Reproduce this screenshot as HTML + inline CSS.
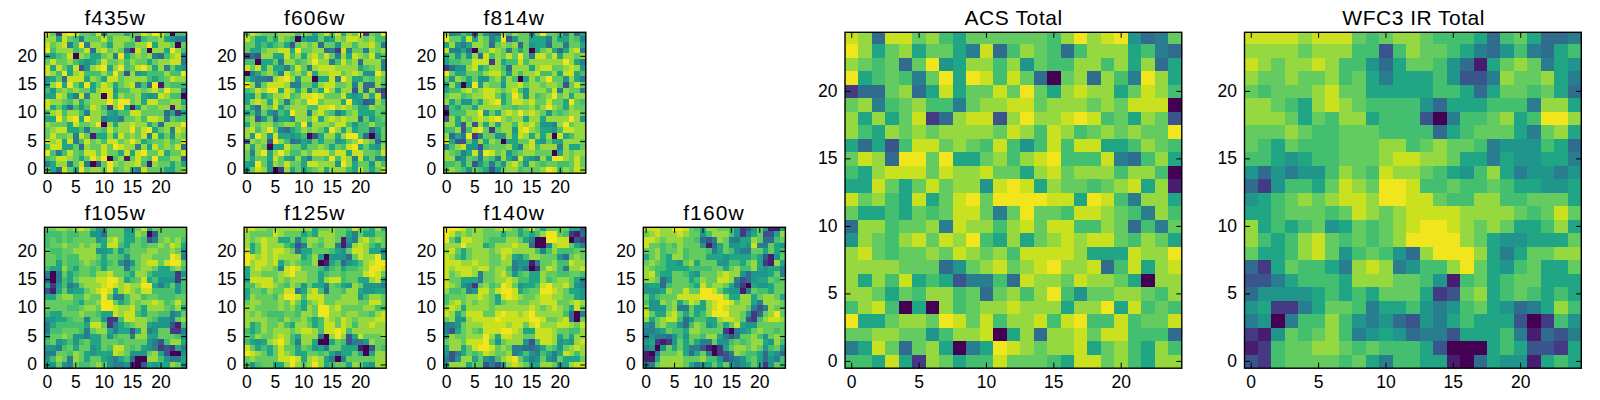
<!DOCTYPE html><html><head><meta charset="utf-8"><style>html,body{margin:0;padding:0;background:#fff;width:1600px;height:400px;overflow:hidden}svg{display:block}text{font-family:"Liberation Sans",sans-serif;fill:#000}</style></head><body>
<svg width="1600" height="400" viewBox="0 0 1600 400">
<g shape-rendering="crispEdges">
<rect x="45" y="167" width="5" height="6" fill="#63cb5f"/>
<rect x="50" y="167" width="6" height="6" fill="#21a685"/>
<rect x="56" y="167" width="6" height="6" fill="#2f6c8e"/>
<rect x="62" y="167" width="5" height="6" fill="#cae11f"/>
<rect x="67" y="167" width="6" height="6" fill="#63cb5f"/>
<rect x="73" y="167" width="6" height="6" fill="#21a685"/>
<rect x="79" y="167" width="5" height="6" fill="#f1e51d"/>
<rect x="84" y="167" width="6" height="6" fill="#63cb5f"/>
<rect x="90" y="167" width="11" height="6" fill="#95d840"/>
<rect x="101" y="167" width="6" height="6" fill="#63cb5f"/>
<rect x="107" y="167" width="6" height="6" fill="#f1e51d"/>
<rect x="113" y="167" width="5" height="6" fill="#44bf70"/>
<rect x="118" y="167" width="6" height="6" fill="#63cb5f"/>
<rect x="124" y="167" width="6" height="6" fill="#95d840"/>
<rect x="130" y="167" width="5" height="6" fill="#21a685"/>
<rect x="135" y="167" width="6" height="6" fill="#287d8e"/>
<rect x="141" y="167" width="6" height="6" fill="#cae11f"/>
<rect x="147" y="167" width="17" height="6" fill="#63cb5f"/>
<rect x="164" y="167" width="11" height="6" fill="#21a685"/>
<rect x="175" y="167" width="6" height="6" fill="#63cb5f"/>
<rect x="181" y="167" width="6" height="6" fill="#95d840"/>
<rect x="45" y="161" width="5" height="6" fill="#287d8e"/>
<rect x="50" y="161" width="6" height="6" fill="#21a685"/>
<rect x="56" y="161" width="11" height="6" fill="#95d840"/>
<rect x="67" y="161" width="6" height="6" fill="#287d8e"/>
<rect x="73" y="161" width="6" height="6" fill="#63cb5f"/>
<rect x="79" y="161" width="5" height="6" fill="#cae11f"/>
<rect x="84" y="161" width="6" height="6" fill="#287d8e"/>
<rect x="90" y="161" width="6" height="6" fill="#440154"/>
<rect x="96" y="161" width="5" height="6" fill="#3a548c"/>
<rect x="101" y="161" width="6" height="6" fill="#63cb5f"/>
<rect x="107" y="161" width="6" height="6" fill="#f1e51d"/>
<rect x="113" y="161" width="5" height="6" fill="#95d840"/>
<rect x="118" y="161" width="6" height="6" fill="#63cb5f"/>
<rect x="124" y="161" width="11" height="6" fill="#95d840"/>
<rect x="135" y="161" width="6" height="6" fill="#cae11f"/>
<rect x="141" y="161" width="6" height="6" fill="#44bf70"/>
<rect x="147" y="161" width="5" height="6" fill="#481d6f"/>
<rect x="152" y="161" width="6" height="6" fill="#95d840"/>
<rect x="158" y="161" width="12" height="6" fill="#63cb5f"/>
<rect x="170" y="161" width="5" height="6" fill="#21a685"/>
<rect x="175" y="161" width="6" height="6" fill="#63cb5f"/>
<rect x="181" y="161" width="6" height="6" fill="#21a685"/>
<rect x="45" y="156" width="5" height="5" fill="#44bf70"/>
<rect x="50" y="156" width="6" height="5" fill="#63cb5f"/>
<rect x="56" y="156" width="11" height="5" fill="#cae11f"/>
<rect x="67" y="156" width="6" height="5" fill="#95d840"/>
<rect x="73" y="156" width="6" height="5" fill="#63cb5f"/>
<rect x="79" y="156" width="5" height="5" fill="#21a685"/>
<rect x="84" y="156" width="6" height="5" fill="#63cb5f"/>
<rect x="90" y="156" width="6" height="5" fill="#f1e51d"/>
<rect x="96" y="156" width="5" height="5" fill="#95d840"/>
<rect x="101" y="156" width="6" height="5" fill="#f1e51d"/>
<rect x="107" y="156" width="6" height="5" fill="#440154"/>
<rect x="113" y="156" width="5" height="5" fill="#44bf70"/>
<rect x="118" y="156" width="6" height="5" fill="#95d840"/>
<rect x="124" y="156" width="6" height="5" fill="#481d6f"/>
<rect x="130" y="156" width="5" height="5" fill="#63cb5f"/>
<rect x="135" y="156" width="6" height="5" fill="#cae11f"/>
<rect x="141" y="156" width="6" height="5" fill="#63cb5f"/>
<rect x="147" y="156" width="5" height="5" fill="#44bf70"/>
<rect x="152" y="156" width="6" height="5" fill="#f1e51d"/>
<rect x="158" y="156" width="12" height="5" fill="#44bf70"/>
<rect x="170" y="156" width="11" height="5" fill="#95d840"/>
<rect x="181" y="156" width="6" height="5" fill="#3a548c"/>
<rect x="45" y="150" width="5" height="6" fill="#f1e51d"/>
<rect x="50" y="150" width="6" height="6" fill="#44bf70"/>
<rect x="56" y="150" width="6" height="6" fill="#287d8e"/>
<rect x="62" y="150" width="5" height="6" fill="#44bf70"/>
<rect x="67" y="150" width="6" height="6" fill="#cae11f"/>
<rect x="73" y="150" width="6" height="6" fill="#63cb5f"/>
<rect x="79" y="150" width="5" height="6" fill="#44bf70"/>
<rect x="84" y="150" width="12" height="6" fill="#cae11f"/>
<rect x="96" y="150" width="5" height="6" fill="#63cb5f"/>
<rect x="101" y="150" width="6" height="6" fill="#cae11f"/>
<rect x="107" y="150" width="11" height="6" fill="#63cb5f"/>
<rect x="118" y="150" width="6" height="6" fill="#21a685"/>
<rect x="124" y="150" width="6" height="6" fill="#cae11f"/>
<rect x="130" y="150" width="5" height="6" fill="#21a685"/>
<rect x="135" y="150" width="6" height="6" fill="#cae11f"/>
<rect x="141" y="150" width="6" height="6" fill="#f1e51d"/>
<rect x="147" y="150" width="11" height="6" fill="#63cb5f"/>
<rect x="158" y="150" width="6" height="6" fill="#cae11f"/>
<rect x="164" y="150" width="6" height="6" fill="#21a685"/>
<rect x="170" y="150" width="11" height="6" fill="#63cb5f"/>
<rect x="181" y="150" width="6" height="6" fill="#cae11f"/>
<rect x="45" y="144" width="5" height="6" fill="#44bf70"/>
<rect x="50" y="144" width="12" height="6" fill="#cae11f"/>
<rect x="62" y="144" width="11" height="6" fill="#21a685"/>
<rect x="73" y="144" width="6" height="6" fill="#63cb5f"/>
<rect x="79" y="144" width="5" height="6" fill="#2f6c8e"/>
<rect x="84" y="144" width="6" height="6" fill="#95d840"/>
<rect x="90" y="144" width="11" height="6" fill="#63cb5f"/>
<rect x="101" y="144" width="6" height="6" fill="#cae11f"/>
<rect x="107" y="144" width="6" height="6" fill="#63cb5f"/>
<rect x="113" y="144" width="5" height="6" fill="#f1e51d"/>
<rect x="118" y="144" width="6" height="6" fill="#cae11f"/>
<rect x="124" y="144" width="11" height="6" fill="#95d840"/>
<rect x="135" y="144" width="6" height="6" fill="#287d8e"/>
<rect x="141" y="144" width="6" height="6" fill="#95d840"/>
<rect x="147" y="144" width="5" height="6" fill="#21a685"/>
<rect x="152" y="144" width="6" height="6" fill="#cae11f"/>
<rect x="158" y="144" width="6" height="6" fill="#63cb5f"/>
<rect x="164" y="144" width="6" height="6" fill="#95d840"/>
<rect x="170" y="144" width="5" height="6" fill="#63cb5f"/>
<rect x="175" y="144" width="6" height="6" fill="#cae11f"/>
<rect x="181" y="144" width="6" height="6" fill="#2f6c8e"/>
<rect x="45" y="139" width="5" height="5" fill="#cae11f"/>
<rect x="50" y="139" width="6" height="5" fill="#95d840"/>
<rect x="56" y="139" width="6" height="5" fill="#cae11f"/>
<rect x="62" y="139" width="5" height="5" fill="#21a685"/>
<rect x="67" y="139" width="6" height="5" fill="#cae11f"/>
<rect x="73" y="139" width="6" height="5" fill="#287d8e"/>
<rect x="79" y="139" width="5" height="5" fill="#44bf70"/>
<rect x="84" y="139" width="6" height="5" fill="#cae11f"/>
<rect x="90" y="139" width="6" height="5" fill="#63cb5f"/>
<rect x="96" y="139" width="5" height="5" fill="#95d840"/>
<rect x="101" y="139" width="6" height="5" fill="#44bf70"/>
<rect x="107" y="139" width="11" height="5" fill="#cae11f"/>
<rect x="118" y="139" width="6" height="5" fill="#63cb5f"/>
<rect x="124" y="139" width="6" height="5" fill="#95d840"/>
<rect x="130" y="139" width="5" height="5" fill="#f1e51d"/>
<rect x="135" y="139" width="6" height="5" fill="#95d840"/>
<rect x="141" y="139" width="6" height="5" fill="#21a685"/>
<rect x="147" y="139" width="5" height="5" fill="#44bf70"/>
<rect x="152" y="139" width="12" height="5" fill="#63cb5f"/>
<rect x="164" y="139" width="6" height="5" fill="#95d840"/>
<rect x="170" y="139" width="5" height="5" fill="#44bf70"/>
<rect x="175" y="139" width="6" height="5" fill="#63cb5f"/>
<rect x="181" y="139" width="6" height="5" fill="#cae11f"/>
<rect x="45" y="133" width="5" height="6" fill="#63cb5f"/>
<rect x="50" y="133" width="6" height="6" fill="#cae11f"/>
<rect x="56" y="133" width="11" height="6" fill="#63cb5f"/>
<rect x="67" y="133" width="6" height="6" fill="#95d840"/>
<rect x="73" y="133" width="6" height="6" fill="#287d8e"/>
<rect x="79" y="133" width="5" height="6" fill="#cae11f"/>
<rect x="84" y="133" width="6" height="6" fill="#63cb5f"/>
<rect x="90" y="133" width="6" height="6" fill="#481d6f"/>
<rect x="96" y="133" width="11" height="6" fill="#21a685"/>
<rect x="107" y="133" width="6" height="6" fill="#95d840"/>
<rect x="113" y="133" width="5" height="6" fill="#21a685"/>
<rect x="118" y="133" width="6" height="6" fill="#cae11f"/>
<rect x="124" y="133" width="6" height="6" fill="#63cb5f"/>
<rect x="130" y="133" width="5" height="6" fill="#95d840"/>
<rect x="135" y="133" width="6" height="6" fill="#63cb5f"/>
<rect x="141" y="133" width="6" height="6" fill="#cae11f"/>
<rect x="147" y="133" width="5" height="6" fill="#287d8e"/>
<rect x="152" y="133" width="6" height="6" fill="#cae11f"/>
<rect x="158" y="133" width="6" height="6" fill="#21a685"/>
<rect x="164" y="133" width="6" height="6" fill="#63cb5f"/>
<rect x="170" y="133" width="5" height="6" fill="#1f958b"/>
<rect x="175" y="133" width="6" height="6" fill="#95d840"/>
<rect x="181" y="133" width="6" height="6" fill="#63cb5f"/>
<rect x="45" y="127" width="5" height="6" fill="#63cb5f"/>
<rect x="50" y="127" width="6" height="6" fill="#95d840"/>
<rect x="56" y="127" width="11" height="6" fill="#cae11f"/>
<rect x="67" y="127" width="12" height="6" fill="#21a685"/>
<rect x="79" y="127" width="5" height="6" fill="#44bf70"/>
<rect x="84" y="127" width="6" height="6" fill="#287d8e"/>
<rect x="90" y="127" width="11" height="6" fill="#63cb5f"/>
<rect x="101" y="127" width="6" height="6" fill="#44bf70"/>
<rect x="107" y="127" width="6" height="6" fill="#cae11f"/>
<rect x="113" y="127" width="5" height="6" fill="#63cb5f"/>
<rect x="118" y="127" width="12" height="6" fill="#95d840"/>
<rect x="130" y="127" width="5" height="6" fill="#f1e51d"/>
<rect x="135" y="127" width="6" height="6" fill="#63cb5f"/>
<rect x="141" y="127" width="6" height="6" fill="#cae11f"/>
<rect x="147" y="127" width="5" height="6" fill="#f1e51d"/>
<rect x="152" y="127" width="6" height="6" fill="#21a685"/>
<rect x="158" y="127" width="6" height="6" fill="#63cb5f"/>
<rect x="164" y="127" width="6" height="6" fill="#95d840"/>
<rect x="170" y="127" width="5" height="6" fill="#287d8e"/>
<rect x="175" y="127" width="6" height="6" fill="#cae11f"/>
<rect x="181" y="127" width="6" height="6" fill="#95d840"/>
<rect x="45" y="122" width="5" height="5" fill="#95d840"/>
<rect x="50" y="122" width="17" height="5" fill="#63cb5f"/>
<rect x="67" y="122" width="6" height="5" fill="#21a685"/>
<rect x="73" y="122" width="6" height="5" fill="#cae11f"/>
<rect x="79" y="122" width="11" height="5" fill="#63cb5f"/>
<rect x="90" y="122" width="6" height="5" fill="#95d840"/>
<rect x="96" y="122" width="5" height="5" fill="#f1e51d"/>
<rect x="101" y="122" width="6" height="5" fill="#440154"/>
<rect x="107" y="122" width="6" height="5" fill="#95d840"/>
<rect x="113" y="122" width="5" height="5" fill="#21a685"/>
<rect x="118" y="122" width="12" height="5" fill="#95d840"/>
<rect x="130" y="122" width="5" height="5" fill="#cae11f"/>
<rect x="135" y="122" width="12" height="5" fill="#95d840"/>
<rect x="147" y="122" width="5" height="5" fill="#21a685"/>
<rect x="152" y="122" width="6" height="5" fill="#63cb5f"/>
<rect x="158" y="122" width="6" height="5" fill="#2f6c8e"/>
<rect x="164" y="122" width="17" height="5" fill="#95d840"/>
<rect x="181" y="122" width="6" height="5" fill="#f1e51d"/>
<rect x="45" y="116" width="11" height="6" fill="#21a685"/>
<rect x="56" y="116" width="6" height="6" fill="#f1e51d"/>
<rect x="62" y="116" width="5" height="6" fill="#63cb5f"/>
<rect x="67" y="116" width="6" height="6" fill="#cae11f"/>
<rect x="73" y="116" width="6" height="6" fill="#f1e51d"/>
<rect x="79" y="116" width="5" height="6" fill="#21a685"/>
<rect x="84" y="116" width="6" height="6" fill="#f1e51d"/>
<rect x="90" y="116" width="11" height="6" fill="#95d840"/>
<rect x="101" y="116" width="6" height="6" fill="#287d8e"/>
<rect x="107" y="116" width="11" height="6" fill="#1f958b"/>
<rect x="118" y="116" width="6" height="6" fill="#287d8e"/>
<rect x="124" y="116" width="11" height="6" fill="#63cb5f"/>
<rect x="135" y="116" width="6" height="6" fill="#95d840"/>
<rect x="141" y="116" width="6" height="6" fill="#44bf70"/>
<rect x="147" y="116" width="11" height="6" fill="#cae11f"/>
<rect x="158" y="116" width="6" height="6" fill="#95d840"/>
<rect x="164" y="116" width="6" height="6" fill="#287d8e"/>
<rect x="170" y="116" width="5" height="6" fill="#63cb5f"/>
<rect x="175" y="116" width="12" height="6" fill="#44bf70"/>
<rect x="45" y="110" width="5" height="6" fill="#44bf70"/>
<rect x="50" y="110" width="6" height="6" fill="#95d840"/>
<rect x="56" y="110" width="6" height="6" fill="#cae11f"/>
<rect x="62" y="110" width="5" height="6" fill="#44bf70"/>
<rect x="67" y="110" width="12" height="6" fill="#95d840"/>
<rect x="79" y="110" width="5" height="6" fill="#44bf70"/>
<rect x="84" y="110" width="6" height="6" fill="#287d8e"/>
<rect x="90" y="110" width="11" height="6" fill="#95d840"/>
<rect x="101" y="110" width="6" height="6" fill="#63cb5f"/>
<rect x="107" y="110" width="6" height="6" fill="#21a685"/>
<rect x="113" y="110" width="5" height="6" fill="#1f958b"/>
<rect x="118" y="110" width="12" height="6" fill="#44bf70"/>
<rect x="130" y="110" width="11" height="6" fill="#cae11f"/>
<rect x="141" y="110" width="23" height="6" fill="#63cb5f"/>
<rect x="164" y="110" width="6" height="6" fill="#2f6c8e"/>
<rect x="170" y="110" width="5" height="6" fill="#21a685"/>
<rect x="175" y="110" width="6" height="6" fill="#443a83"/>
<rect x="181" y="110" width="6" height="6" fill="#21a685"/>
<rect x="45" y="105" width="5" height="5" fill="#cae11f"/>
<rect x="50" y="105" width="6" height="5" fill="#21a685"/>
<rect x="56" y="105" width="6" height="5" fill="#63cb5f"/>
<rect x="62" y="105" width="5" height="5" fill="#21a685"/>
<rect x="67" y="105" width="6" height="5" fill="#2f6c8e"/>
<rect x="73" y="105" width="6" height="5" fill="#44bf70"/>
<rect x="79" y="105" width="5" height="5" fill="#1f958b"/>
<rect x="84" y="105" width="6" height="5" fill="#44bf70"/>
<rect x="90" y="105" width="6" height="5" fill="#cae11f"/>
<rect x="96" y="105" width="5" height="5" fill="#95d840"/>
<rect x="101" y="105" width="6" height="5" fill="#44bf70"/>
<rect x="107" y="105" width="6" height="5" fill="#443a83"/>
<rect x="113" y="105" width="5" height="5" fill="#95d840"/>
<rect x="118" y="105" width="6" height="5" fill="#f1e51d"/>
<rect x="124" y="105" width="6" height="5" fill="#21a685"/>
<rect x="130" y="105" width="5" height="5" fill="#481d6f"/>
<rect x="135" y="105" width="6" height="5" fill="#21a685"/>
<rect x="141" y="105" width="6" height="5" fill="#95d840"/>
<rect x="147" y="105" width="11" height="5" fill="#63cb5f"/>
<rect x="158" y="105" width="12" height="5" fill="#95d840"/>
<rect x="170" y="105" width="5" height="5" fill="#481d6f"/>
<rect x="175" y="105" width="6" height="5" fill="#95d840"/>
<rect x="181" y="105" width="6" height="5" fill="#63cb5f"/>
<rect x="45" y="99" width="5" height="6" fill="#cae11f"/>
<rect x="50" y="99" width="12" height="6" fill="#95d840"/>
<rect x="62" y="99" width="5" height="6" fill="#63cb5f"/>
<rect x="67" y="99" width="6" height="6" fill="#44bf70"/>
<rect x="73" y="99" width="6" height="6" fill="#95d840"/>
<rect x="79" y="99" width="5" height="6" fill="#21a685"/>
<rect x="84" y="99" width="6" height="6" fill="#63cb5f"/>
<rect x="90" y="99" width="17" height="6" fill="#95d840"/>
<rect x="107" y="99" width="6" height="6" fill="#f1e51d"/>
<rect x="113" y="99" width="5" height="6" fill="#95d840"/>
<rect x="118" y="99" width="12" height="6" fill="#f1e51d"/>
<rect x="130" y="99" width="5" height="6" fill="#63cb5f"/>
<rect x="135" y="99" width="6" height="6" fill="#95d840"/>
<rect x="141" y="99" width="6" height="6" fill="#21a685"/>
<rect x="147" y="99" width="11" height="6" fill="#cae11f"/>
<rect x="158" y="99" width="12" height="6" fill="#63cb5f"/>
<rect x="170" y="99" width="11" height="6" fill="#95d840"/>
<rect x="181" y="99" width="6" height="6" fill="#21a685"/>
<rect x="45" y="93" width="11" height="6" fill="#21a685"/>
<rect x="56" y="93" width="6" height="6" fill="#cae11f"/>
<rect x="62" y="93" width="5" height="6" fill="#95d840"/>
<rect x="67" y="93" width="6" height="6" fill="#21a685"/>
<rect x="73" y="93" width="6" height="6" fill="#287d8e"/>
<rect x="79" y="93" width="5" height="6" fill="#cae11f"/>
<rect x="84" y="93" width="6" height="6" fill="#287d8e"/>
<rect x="90" y="93" width="11" height="6" fill="#95d840"/>
<rect x="101" y="93" width="6" height="6" fill="#440154"/>
<rect x="107" y="93" width="6" height="6" fill="#cae11f"/>
<rect x="113" y="93" width="5" height="6" fill="#21a685"/>
<rect x="118" y="93" width="6" height="6" fill="#95d840"/>
<rect x="124" y="93" width="11" height="6" fill="#63cb5f"/>
<rect x="135" y="93" width="6" height="6" fill="#95d840"/>
<rect x="141" y="93" width="6" height="6" fill="#21a685"/>
<rect x="147" y="93" width="11" height="6" fill="#1f958b"/>
<rect x="158" y="93" width="6" height="6" fill="#cae11f"/>
<rect x="164" y="93" width="6" height="6" fill="#95d840"/>
<rect x="170" y="93" width="11" height="6" fill="#44bf70"/>
<rect x="181" y="93" width="6" height="6" fill="#440154"/>
<rect x="45" y="88" width="5" height="5" fill="#44bf70"/>
<rect x="50" y="88" width="6" height="5" fill="#1f958b"/>
<rect x="56" y="88" width="6" height="5" fill="#63cb5f"/>
<rect x="62" y="88" width="5" height="5" fill="#95d840"/>
<rect x="67" y="88" width="6" height="5" fill="#63cb5f"/>
<rect x="73" y="88" width="6" height="5" fill="#95d840"/>
<rect x="79" y="88" width="11" height="5" fill="#63cb5f"/>
<rect x="90" y="88" width="6" height="5" fill="#21a685"/>
<rect x="96" y="88" width="5" height="5" fill="#95d840"/>
<rect x="101" y="88" width="12" height="5" fill="#cae11f"/>
<rect x="113" y="88" width="5" height="5" fill="#1f958b"/>
<rect x="118" y="88" width="12" height="5" fill="#44bf70"/>
<rect x="130" y="88" width="11" height="5" fill="#95d840"/>
<rect x="141" y="88" width="6" height="5" fill="#63cb5f"/>
<rect x="147" y="88" width="5" height="5" fill="#95d840"/>
<rect x="152" y="88" width="6" height="5" fill="#cae11f"/>
<rect x="158" y="88" width="6" height="5" fill="#63cb5f"/>
<rect x="164" y="88" width="6" height="5" fill="#f1e51d"/>
<rect x="170" y="88" width="11" height="5" fill="#95d840"/>
<rect x="181" y="88" width="6" height="5" fill="#287d8e"/>
<rect x="45" y="82" width="5" height="6" fill="#21a685"/>
<rect x="50" y="82" width="6" height="6" fill="#95d840"/>
<rect x="56" y="82" width="6" height="6" fill="#f1e51d"/>
<rect x="62" y="82" width="5" height="6" fill="#21a685"/>
<rect x="67" y="82" width="6" height="6" fill="#f1e51d"/>
<rect x="73" y="82" width="6" height="6" fill="#63cb5f"/>
<rect x="79" y="82" width="5" height="6" fill="#21a685"/>
<rect x="84" y="82" width="6" height="6" fill="#f1e51d"/>
<rect x="90" y="82" width="6" height="6" fill="#21a685"/>
<rect x="96" y="82" width="5" height="6" fill="#63cb5f"/>
<rect x="101" y="82" width="6" height="6" fill="#cae11f"/>
<rect x="107" y="82" width="6" height="6" fill="#95d840"/>
<rect x="113" y="82" width="5" height="6" fill="#21a685"/>
<rect x="118" y="82" width="6" height="6" fill="#63cb5f"/>
<rect x="124" y="82" width="6" height="6" fill="#95d840"/>
<rect x="130" y="82" width="5" height="6" fill="#cae11f"/>
<rect x="135" y="82" width="6" height="6" fill="#287d8e"/>
<rect x="141" y="82" width="6" height="6" fill="#44bf70"/>
<rect x="147" y="82" width="5" height="6" fill="#2f6c8e"/>
<rect x="152" y="82" width="6" height="6" fill="#f1e51d"/>
<rect x="158" y="82" width="6" height="6" fill="#481d6f"/>
<rect x="164" y="82" width="6" height="6" fill="#63cb5f"/>
<rect x="170" y="82" width="17" height="6" fill="#44bf70"/>
<rect x="45" y="76" width="5" height="6" fill="#1f958b"/>
<rect x="50" y="76" width="6" height="6" fill="#21a685"/>
<rect x="56" y="76" width="6" height="6" fill="#63cb5f"/>
<rect x="62" y="76" width="5" height="6" fill="#2f6c8e"/>
<rect x="67" y="76" width="17" height="6" fill="#cae11f"/>
<rect x="84" y="76" width="6" height="6" fill="#21a685"/>
<rect x="90" y="76" width="6" height="6" fill="#95d840"/>
<rect x="96" y="76" width="5" height="6" fill="#63cb5f"/>
<rect x="101" y="76" width="6" height="6" fill="#21a685"/>
<rect x="107" y="76" width="11" height="6" fill="#cae11f"/>
<rect x="118" y="76" width="6" height="6" fill="#63cb5f"/>
<rect x="124" y="76" width="23" height="6" fill="#95d840"/>
<rect x="147" y="76" width="5" height="6" fill="#44bf70"/>
<rect x="152" y="76" width="6" height="6" fill="#21a685"/>
<rect x="158" y="76" width="6" height="6" fill="#44bf70"/>
<rect x="164" y="76" width="6" height="6" fill="#63cb5f"/>
<rect x="170" y="76" width="5" height="6" fill="#cae11f"/>
<rect x="175" y="76" width="12" height="6" fill="#95d840"/>
<rect x="45" y="71" width="5" height="5" fill="#cae11f"/>
<rect x="50" y="71" width="6" height="5" fill="#95d840"/>
<rect x="56" y="71" width="6" height="5" fill="#44bf70"/>
<rect x="62" y="71" width="5" height="5" fill="#f1e51d"/>
<rect x="67" y="71" width="6" height="5" fill="#21a685"/>
<rect x="73" y="71" width="6" height="5" fill="#95d840"/>
<rect x="79" y="71" width="5" height="5" fill="#cae11f"/>
<rect x="84" y="71" width="17" height="5" fill="#44bf70"/>
<rect x="101" y="71" width="6" height="5" fill="#95d840"/>
<rect x="107" y="71" width="6" height="5" fill="#44bf70"/>
<rect x="113" y="71" width="5" height="5" fill="#f1e51d"/>
<rect x="118" y="71" width="6" height="5" fill="#63cb5f"/>
<rect x="124" y="71" width="6" height="5" fill="#3a548c"/>
<rect x="130" y="71" width="5" height="5" fill="#95d840"/>
<rect x="135" y="71" width="6" height="5" fill="#1f958b"/>
<rect x="141" y="71" width="6" height="5" fill="#21a685"/>
<rect x="147" y="71" width="17" height="5" fill="#44bf70"/>
<rect x="164" y="71" width="6" height="5" fill="#95d840"/>
<rect x="170" y="71" width="11" height="5" fill="#44bf70"/>
<rect x="181" y="71" width="6" height="5" fill="#f1e51d"/>
<rect x="45" y="65" width="5" height="6" fill="#cae11f"/>
<rect x="50" y="65" width="6" height="6" fill="#21a685"/>
<rect x="56" y="65" width="6" height="6" fill="#cae11f"/>
<rect x="62" y="65" width="5" height="6" fill="#63cb5f"/>
<rect x="67" y="65" width="6" height="6" fill="#21a685"/>
<rect x="73" y="65" width="6" height="6" fill="#cae11f"/>
<rect x="79" y="65" width="5" height="6" fill="#3a548c"/>
<rect x="84" y="65" width="6" height="6" fill="#1f958b"/>
<rect x="90" y="65" width="6" height="6" fill="#95d840"/>
<rect x="96" y="65" width="5" height="6" fill="#cae11f"/>
<rect x="101" y="65" width="6" height="6" fill="#f1e51d"/>
<rect x="107" y="65" width="6" height="6" fill="#21a685"/>
<rect x="113" y="65" width="5" height="6" fill="#95d840"/>
<rect x="118" y="65" width="6" height="6" fill="#f1e51d"/>
<rect x="124" y="65" width="6" height="6" fill="#44bf70"/>
<rect x="130" y="65" width="5" height="6" fill="#63cb5f"/>
<rect x="135" y="65" width="6" height="6" fill="#cae11f"/>
<rect x="141" y="65" width="6" height="6" fill="#f1e51d"/>
<rect x="147" y="65" width="5" height="6" fill="#95d840"/>
<rect x="152" y="65" width="6" height="6" fill="#21a685"/>
<rect x="158" y="65" width="6" height="6" fill="#95d840"/>
<rect x="164" y="65" width="6" height="6" fill="#287d8e"/>
<rect x="170" y="65" width="5" height="6" fill="#63cb5f"/>
<rect x="175" y="65" width="6" height="6" fill="#21a685"/>
<rect x="181" y="65" width="6" height="6" fill="#1f958b"/>
<rect x="45" y="59" width="5" height="6" fill="#63cb5f"/>
<rect x="50" y="59" width="6" height="6" fill="#cae11f"/>
<rect x="56" y="59" width="11" height="6" fill="#63cb5f"/>
<rect x="67" y="59" width="6" height="6" fill="#95d840"/>
<rect x="73" y="59" width="6" height="6" fill="#44bf70"/>
<rect x="79" y="59" width="5" height="6" fill="#21a685"/>
<rect x="84" y="59" width="6" height="6" fill="#1f958b"/>
<rect x="90" y="59" width="6" height="6" fill="#21a685"/>
<rect x="96" y="59" width="5" height="6" fill="#44bf70"/>
<rect x="101" y="59" width="6" height="6" fill="#cae11f"/>
<rect x="107" y="59" width="11" height="6" fill="#63cb5f"/>
<rect x="118" y="59" width="6" height="6" fill="#95d840"/>
<rect x="124" y="59" width="6" height="6" fill="#44bf70"/>
<rect x="130" y="59" width="5" height="6" fill="#95d840"/>
<rect x="135" y="59" width="12" height="6" fill="#63cb5f"/>
<rect x="147" y="59" width="5" height="6" fill="#21a685"/>
<rect x="152" y="59" width="6" height="6" fill="#63cb5f"/>
<rect x="158" y="59" width="12" height="6" fill="#95d840"/>
<rect x="170" y="59" width="11" height="6" fill="#cae11f"/>
<rect x="181" y="59" width="6" height="6" fill="#287d8e"/>
<rect x="45" y="53" width="11" height="6" fill="#21a685"/>
<rect x="56" y="53" width="6" height="6" fill="#44bf70"/>
<rect x="62" y="53" width="5" height="6" fill="#63cb5f"/>
<rect x="67" y="53" width="6" height="6" fill="#cae11f"/>
<rect x="73" y="53" width="6" height="6" fill="#440154"/>
<rect x="79" y="53" width="5" height="6" fill="#95d840"/>
<rect x="84" y="53" width="6" height="6" fill="#63cb5f"/>
<rect x="90" y="53" width="11" height="6" fill="#21a685"/>
<rect x="101" y="53" width="6" height="6" fill="#63cb5f"/>
<rect x="107" y="53" width="6" height="6" fill="#95d840"/>
<rect x="113" y="53" width="5" height="6" fill="#287d8e"/>
<rect x="118" y="53" width="6" height="6" fill="#f1e51d"/>
<rect x="124" y="53" width="6" height="6" fill="#21a685"/>
<rect x="130" y="53" width="5" height="6" fill="#63cb5f"/>
<rect x="135" y="53" width="6" height="6" fill="#95d840"/>
<rect x="141" y="53" width="6" height="6" fill="#63cb5f"/>
<rect x="147" y="53" width="5" height="6" fill="#95d840"/>
<rect x="152" y="53" width="6" height="6" fill="#287d8e"/>
<rect x="158" y="53" width="6" height="6" fill="#2f6c8e"/>
<rect x="164" y="53" width="6" height="6" fill="#44bf70"/>
<rect x="170" y="53" width="5" height="6" fill="#95d840"/>
<rect x="175" y="53" width="6" height="6" fill="#cae11f"/>
<rect x="181" y="53" width="6" height="6" fill="#287d8e"/>
<rect x="45" y="48" width="5" height="5" fill="#f1e51d"/>
<rect x="50" y="48" width="6" height="5" fill="#44bf70"/>
<rect x="56" y="48" width="17" height="5" fill="#95d840"/>
<rect x="73" y="48" width="6" height="5" fill="#44bf70"/>
<rect x="79" y="48" width="5" height="5" fill="#63cb5f"/>
<rect x="84" y="48" width="6" height="5" fill="#cae11f"/>
<rect x="90" y="48" width="6" height="5" fill="#2f6c8e"/>
<rect x="96" y="48" width="5" height="5" fill="#95d840"/>
<rect x="101" y="48" width="6" height="5" fill="#cae11f"/>
<rect x="107" y="48" width="6" height="5" fill="#63cb5f"/>
<rect x="113" y="48" width="5" height="5" fill="#95d840"/>
<rect x="118" y="48" width="6" height="5" fill="#63cb5f"/>
<rect x="124" y="48" width="6" height="5" fill="#2f6c8e"/>
<rect x="130" y="48" width="5" height="5" fill="#481d6f"/>
<rect x="135" y="48" width="6" height="5" fill="#cae11f"/>
<rect x="141" y="48" width="6" height="5" fill="#63cb5f"/>
<rect x="147" y="48" width="5" height="5" fill="#440154"/>
<rect x="152" y="48" width="12" height="5" fill="#95d840"/>
<rect x="164" y="48" width="6" height="5" fill="#21a685"/>
<rect x="170" y="48" width="5" height="5" fill="#f1e51d"/>
<rect x="175" y="48" width="6" height="5" fill="#95d840"/>
<rect x="181" y="48" width="6" height="5" fill="#44bf70"/>
<rect x="45" y="42" width="5" height="6" fill="#cae11f"/>
<rect x="50" y="42" width="6" height="6" fill="#63cb5f"/>
<rect x="56" y="42" width="6" height="6" fill="#95d840"/>
<rect x="62" y="42" width="5" height="6" fill="#cae11f"/>
<rect x="67" y="42" width="6" height="6" fill="#287d8e"/>
<rect x="73" y="42" width="6" height="6" fill="#44bf70"/>
<rect x="79" y="42" width="5" height="6" fill="#f1e51d"/>
<rect x="84" y="42" width="6" height="6" fill="#287d8e"/>
<rect x="90" y="42" width="11" height="6" fill="#95d840"/>
<rect x="101" y="42" width="6" height="6" fill="#63cb5f"/>
<rect x="107" y="42" width="6" height="6" fill="#21a685"/>
<rect x="113" y="42" width="11" height="6" fill="#95d840"/>
<rect x="124" y="42" width="11" height="6" fill="#44bf70"/>
<rect x="135" y="42" width="12" height="6" fill="#95d840"/>
<rect x="147" y="42" width="5" height="6" fill="#f1e51d"/>
<rect x="152" y="42" width="6" height="6" fill="#21a685"/>
<rect x="158" y="42" width="12" height="6" fill="#95d840"/>
<rect x="170" y="42" width="5" height="6" fill="#63cb5f"/>
<rect x="175" y="42" width="6" height="6" fill="#440154"/>
<rect x="181" y="42" width="6" height="6" fill="#63cb5f"/>
<rect x="45" y="36" width="11" height="6" fill="#95d840"/>
<rect x="56" y="36" width="6" height="6" fill="#21a685"/>
<rect x="62" y="36" width="5" height="6" fill="#cae11f"/>
<rect x="67" y="36" width="6" height="6" fill="#63cb5f"/>
<rect x="73" y="36" width="6" height="6" fill="#44bf70"/>
<rect x="79" y="36" width="5" height="6" fill="#287d8e"/>
<rect x="84" y="36" width="17" height="6" fill="#63cb5f"/>
<rect x="101" y="36" width="6" height="6" fill="#cae11f"/>
<rect x="107" y="36" width="6" height="6" fill="#44bf70"/>
<rect x="113" y="36" width="17" height="6" fill="#95d840"/>
<rect x="130" y="36" width="5" height="6" fill="#63cb5f"/>
<rect x="135" y="36" width="6" height="6" fill="#443a83"/>
<rect x="141" y="36" width="6" height="6" fill="#44bf70"/>
<rect x="147" y="36" width="11" height="6" fill="#63cb5f"/>
<rect x="158" y="36" width="6" height="6" fill="#95d840"/>
<rect x="164" y="36" width="6" height="6" fill="#21a685"/>
<rect x="170" y="36" width="5" height="6" fill="#1f958b"/>
<rect x="175" y="36" width="12" height="6" fill="#287d8e"/>
<rect x="45" y="32" width="5" height="4" fill="#cae11f"/>
<rect x="50" y="32" width="6" height="4" fill="#63cb5f"/>
<rect x="56" y="32" width="6" height="4" fill="#443a83"/>
<rect x="62" y="32" width="5" height="4" fill="#cae11f"/>
<rect x="67" y="32" width="6" height="4" fill="#f1e51d"/>
<rect x="73" y="32" width="6" height="4" fill="#cae11f"/>
<rect x="79" y="32" width="11" height="4" fill="#63cb5f"/>
<rect x="90" y="32" width="6" height="4" fill="#44bf70"/>
<rect x="96" y="32" width="5" height="4" fill="#cae11f"/>
<rect x="101" y="32" width="6" height="4" fill="#287d8e"/>
<rect x="107" y="32" width="17" height="4" fill="#63cb5f"/>
<rect x="124" y="32" width="6" height="4" fill="#21a685"/>
<rect x="130" y="32" width="11" height="4" fill="#63cb5f"/>
<rect x="141" y="32" width="6" height="4" fill="#cae11f"/>
<rect x="147" y="32" width="5" height="4" fill="#95d840"/>
<rect x="152" y="32" width="6" height="4" fill="#f1e51d"/>
<rect x="158" y="32" width="6" height="4" fill="#cae11f"/>
<rect x="164" y="32" width="6" height="4" fill="#63cb5f"/>
<rect x="170" y="32" width="5" height="4" fill="#440154"/>
<rect x="175" y="32" width="12" height="4" fill="#44bf70"/>
</g>
<path d="M47.34 173.20v-5.50M47.34 32.30v5.50M44.50 170.00h5.50M186.60 170.00h-5.50M75.76 173.20v-5.50M75.76 32.30v5.50M44.50 141.58h5.50M186.60 141.58h-5.50M104.18 173.20v-5.50M104.18 32.30v5.50M44.50 113.16h5.50M186.60 113.16h-5.50M132.60 173.20v-5.50M132.60 32.30v5.50M44.50 84.74h5.50M186.60 84.74h-5.50M161.02 173.20v-5.50M161.02 32.30v5.50M44.50 56.32h5.50M186.60 56.32h-5.50" stroke="#000" stroke-width="1.0" fill="none"/>
<rect x="44.50" y="32.30" width="142.10" height="140.90" fill="none" stroke="#000" stroke-width="1.4"/>
<text x="47.34" y="192.80" font-size="17.5" text-anchor="middle">0</text>
<text x="37.00" y="175.20" font-size="17.5" text-anchor="end">0</text>
<text x="75.76" y="192.80" font-size="17.5" text-anchor="middle">5</text>
<text x="37.00" y="146.78" font-size="17.5" text-anchor="end">5</text>
<text x="104.18" y="192.80" font-size="17.5" text-anchor="middle">10</text>
<text x="37.00" y="118.36" font-size="17.5" text-anchor="end">10</text>
<text x="132.60" y="192.80" font-size="17.5" text-anchor="middle">15</text>
<text x="37.00" y="89.94" font-size="17.5" text-anchor="end">15</text>
<text x="161.02" y="192.80" font-size="17.5" text-anchor="middle">20</text>
<text x="37.00" y="61.52" font-size="17.5" text-anchor="end">20</text>
<text x="115.15" y="24.50" font-size="21.0" text-anchor="middle" letter-spacing="1.10">f435w</text>
<g shape-rendering="crispEdges">
<rect x="244" y="167" width="6" height="6" fill="#21a685"/>
<rect x="250" y="167" width="5" height="6" fill="#63cb5f"/>
<rect x="255" y="167" width="6" height="6" fill="#cae11f"/>
<rect x="261" y="167" width="6" height="6" fill="#95d840"/>
<rect x="267" y="167" width="6" height="6" fill="#1f958b"/>
<rect x="273" y="167" width="5" height="6" fill="#440154"/>
<rect x="278" y="167" width="6" height="6" fill="#443a83"/>
<rect x="284" y="167" width="6" height="6" fill="#95d840"/>
<rect x="290" y="167" width="5" height="6" fill="#21a685"/>
<rect x="295" y="167" width="6" height="6" fill="#63cb5f"/>
<rect x="301" y="167" width="6" height="6" fill="#21a685"/>
<rect x="307" y="167" width="5" height="6" fill="#44bf70"/>
<rect x="312" y="167" width="6" height="6" fill="#63cb5f"/>
<rect x="318" y="167" width="6" height="6" fill="#95d840"/>
<rect x="324" y="167" width="5" height="6" fill="#21a685"/>
<rect x="329" y="167" width="17" height="6" fill="#95d840"/>
<rect x="346" y="167" width="6" height="6" fill="#44bf70"/>
<rect x="352" y="167" width="6" height="6" fill="#21a685"/>
<rect x="358" y="167" width="5" height="6" fill="#cae11f"/>
<rect x="363" y="167" width="6" height="6" fill="#63cb5f"/>
<rect x="369" y="167" width="6" height="6" fill="#21a685"/>
<rect x="375" y="167" width="6" height="6" fill="#63cb5f"/>
<rect x="381" y="167" width="5" height="6" fill="#cae11f"/>
<rect x="244" y="161" width="6" height="6" fill="#21a685"/>
<rect x="250" y="161" width="5" height="6" fill="#1f958b"/>
<rect x="255" y="161" width="6" height="6" fill="#f1e51d"/>
<rect x="261" y="161" width="6" height="6" fill="#63cb5f"/>
<rect x="267" y="161" width="6" height="6" fill="#1f958b"/>
<rect x="273" y="161" width="5" height="6" fill="#95d840"/>
<rect x="278" y="161" width="6" height="6" fill="#63cb5f"/>
<rect x="284" y="161" width="6" height="6" fill="#cae11f"/>
<rect x="290" y="161" width="11" height="6" fill="#63cb5f"/>
<rect x="301" y="161" width="6" height="6" fill="#21a685"/>
<rect x="307" y="161" width="11" height="6" fill="#cae11f"/>
<rect x="318" y="161" width="17" height="6" fill="#95d840"/>
<rect x="335" y="161" width="6" height="6" fill="#1f958b"/>
<rect x="341" y="161" width="5" height="6" fill="#f1e51d"/>
<rect x="346" y="161" width="6" height="6" fill="#95d840"/>
<rect x="352" y="161" width="6" height="6" fill="#21a685"/>
<rect x="358" y="161" width="11" height="6" fill="#63cb5f"/>
<rect x="369" y="161" width="6" height="6" fill="#1f958b"/>
<rect x="375" y="161" width="6" height="6" fill="#95d840"/>
<rect x="381" y="161" width="5" height="6" fill="#44bf70"/>
<rect x="244" y="156" width="6" height="5" fill="#63cb5f"/>
<rect x="250" y="156" width="5" height="5" fill="#21a685"/>
<rect x="255" y="156" width="12" height="5" fill="#63cb5f"/>
<rect x="267" y="156" width="6" height="5" fill="#21a685"/>
<rect x="273" y="156" width="5" height="5" fill="#cae11f"/>
<rect x="278" y="156" width="6" height="5" fill="#63cb5f"/>
<rect x="284" y="156" width="6" height="5" fill="#21a685"/>
<rect x="290" y="156" width="5" height="5" fill="#1f958b"/>
<rect x="295" y="156" width="6" height="5" fill="#95d840"/>
<rect x="301" y="156" width="6" height="5" fill="#21a685"/>
<rect x="307" y="156" width="5" height="5" fill="#287d8e"/>
<rect x="312" y="156" width="12" height="5" fill="#63cb5f"/>
<rect x="324" y="156" width="5" height="5" fill="#44bf70"/>
<rect x="329" y="156" width="6" height="5" fill="#f1e51d"/>
<rect x="335" y="156" width="6" height="5" fill="#44bf70"/>
<rect x="341" y="156" width="5" height="5" fill="#cae11f"/>
<rect x="346" y="156" width="6" height="5" fill="#95d840"/>
<rect x="352" y="156" width="6" height="5" fill="#287d8e"/>
<rect x="358" y="156" width="5" height="5" fill="#cae11f"/>
<rect x="363" y="156" width="6" height="5" fill="#21a685"/>
<rect x="369" y="156" width="6" height="5" fill="#63cb5f"/>
<rect x="375" y="156" width="6" height="5" fill="#287d8e"/>
<rect x="381" y="156" width="5" height="5" fill="#1f958b"/>
<rect x="244" y="150" width="6" height="6" fill="#63cb5f"/>
<rect x="250" y="150" width="5" height="6" fill="#287d8e"/>
<rect x="255" y="150" width="6" height="6" fill="#95d840"/>
<rect x="261" y="150" width="6" height="6" fill="#f1e51d"/>
<rect x="267" y="150" width="6" height="6" fill="#21a685"/>
<rect x="273" y="150" width="5" height="6" fill="#95d840"/>
<rect x="278" y="150" width="6" height="6" fill="#f1e51d"/>
<rect x="284" y="150" width="6" height="6" fill="#95d840"/>
<rect x="290" y="150" width="11" height="6" fill="#44bf70"/>
<rect x="301" y="150" width="6" height="6" fill="#95d840"/>
<rect x="307" y="150" width="5" height="6" fill="#63cb5f"/>
<rect x="312" y="150" width="17" height="6" fill="#cae11f"/>
<rect x="329" y="150" width="6" height="6" fill="#63cb5f"/>
<rect x="335" y="150" width="11" height="6" fill="#cae11f"/>
<rect x="346" y="150" width="6" height="6" fill="#21a685"/>
<rect x="352" y="150" width="11" height="6" fill="#cae11f"/>
<rect x="363" y="150" width="12" height="6" fill="#63cb5f"/>
<rect x="375" y="150" width="6" height="6" fill="#44bf70"/>
<rect x="381" y="150" width="5" height="6" fill="#cae11f"/>
<rect x="244" y="144" width="6" height="6" fill="#95d840"/>
<rect x="250" y="144" width="5" height="6" fill="#21a685"/>
<rect x="255" y="144" width="6" height="6" fill="#95d840"/>
<rect x="261" y="144" width="6" height="6" fill="#63cb5f"/>
<rect x="267" y="144" width="6" height="6" fill="#440154"/>
<rect x="273" y="144" width="11" height="6" fill="#21a685"/>
<rect x="284" y="144" width="6" height="6" fill="#cae11f"/>
<rect x="290" y="144" width="11" height="6" fill="#63cb5f"/>
<rect x="301" y="144" width="6" height="6" fill="#21a685"/>
<rect x="307" y="144" width="11" height="6" fill="#63cb5f"/>
<rect x="318" y="144" width="6" height="6" fill="#95d840"/>
<rect x="324" y="144" width="5" height="6" fill="#63cb5f"/>
<rect x="329" y="144" width="6" height="6" fill="#21a685"/>
<rect x="335" y="144" width="6" height="6" fill="#63cb5f"/>
<rect x="341" y="144" width="5" height="6" fill="#44bf70"/>
<rect x="346" y="144" width="6" height="6" fill="#cae11f"/>
<rect x="352" y="144" width="6" height="6" fill="#f1e51d"/>
<rect x="358" y="144" width="5" height="6" fill="#21a685"/>
<rect x="363" y="144" width="6" height="6" fill="#63cb5f"/>
<rect x="369" y="144" width="6" height="6" fill="#21a685"/>
<rect x="375" y="144" width="6" height="6" fill="#1f958b"/>
<rect x="381" y="144" width="5" height="6" fill="#95d840"/>
<rect x="244" y="139" width="6" height="5" fill="#3a548c"/>
<rect x="250" y="139" width="5" height="5" fill="#95d840"/>
<rect x="255" y="139" width="6" height="5" fill="#63cb5f"/>
<rect x="261" y="139" width="6" height="5" fill="#95d840"/>
<rect x="267" y="139" width="6" height="5" fill="#3a548c"/>
<rect x="273" y="139" width="5" height="5" fill="#f1e51d"/>
<rect x="278" y="139" width="6" height="5" fill="#95d840"/>
<rect x="284" y="139" width="6" height="5" fill="#44bf70"/>
<rect x="290" y="139" width="5" height="5" fill="#2f6c8e"/>
<rect x="295" y="139" width="6" height="5" fill="#287d8e"/>
<rect x="301" y="139" width="6" height="5" fill="#21a685"/>
<rect x="307" y="139" width="5" height="5" fill="#1f958b"/>
<rect x="312" y="139" width="6" height="5" fill="#63cb5f"/>
<rect x="318" y="139" width="6" height="5" fill="#21a685"/>
<rect x="324" y="139" width="11" height="5" fill="#63cb5f"/>
<rect x="335" y="139" width="6" height="5" fill="#1f958b"/>
<rect x="341" y="139" width="5" height="5" fill="#21a685"/>
<rect x="346" y="139" width="6" height="5" fill="#63cb5f"/>
<rect x="352" y="139" width="6" height="5" fill="#95d840"/>
<rect x="358" y="139" width="5" height="5" fill="#f1e51d"/>
<rect x="363" y="139" width="6" height="5" fill="#95d840"/>
<rect x="369" y="139" width="6" height="5" fill="#63cb5f"/>
<rect x="375" y="139" width="6" height="5" fill="#2f6c8e"/>
<rect x="381" y="139" width="5" height="5" fill="#63cb5f"/>
<rect x="244" y="133" width="6" height="6" fill="#95d840"/>
<rect x="250" y="133" width="5" height="6" fill="#1f958b"/>
<rect x="255" y="133" width="6" height="6" fill="#f1e51d"/>
<rect x="261" y="133" width="6" height="6" fill="#95d840"/>
<rect x="267" y="133" width="6" height="6" fill="#1f958b"/>
<rect x="273" y="133" width="5" height="6" fill="#cae11f"/>
<rect x="278" y="133" width="12" height="6" fill="#21a685"/>
<rect x="290" y="133" width="5" height="6" fill="#1f958b"/>
<rect x="295" y="133" width="6" height="6" fill="#21a685"/>
<rect x="301" y="133" width="6" height="6" fill="#44bf70"/>
<rect x="307" y="133" width="5" height="6" fill="#440154"/>
<rect x="312" y="133" width="6" height="6" fill="#3a548c"/>
<rect x="318" y="133" width="6" height="6" fill="#21a685"/>
<rect x="324" y="133" width="11" height="6" fill="#95d840"/>
<rect x="335" y="133" width="6" height="6" fill="#21a685"/>
<rect x="341" y="133" width="5" height="6" fill="#95d840"/>
<rect x="346" y="133" width="12" height="6" fill="#f1e51d"/>
<rect x="358" y="133" width="5" height="6" fill="#44bf70"/>
<rect x="363" y="133" width="6" height="6" fill="#2f6c8e"/>
<rect x="369" y="133" width="6" height="6" fill="#440154"/>
<rect x="375" y="133" width="6" height="6" fill="#1f958b"/>
<rect x="381" y="133" width="5" height="6" fill="#63cb5f"/>
<rect x="244" y="127" width="6" height="6" fill="#95d840"/>
<rect x="250" y="127" width="5" height="6" fill="#cae11f"/>
<rect x="255" y="127" width="6" height="6" fill="#44bf70"/>
<rect x="261" y="127" width="6" height="6" fill="#95d840"/>
<rect x="267" y="127" width="6" height="6" fill="#f1e51d"/>
<rect x="273" y="127" width="5" height="6" fill="#63cb5f"/>
<rect x="278" y="127" width="6" height="6" fill="#287d8e"/>
<rect x="284" y="127" width="6" height="6" fill="#2f6c8e"/>
<rect x="290" y="127" width="5" height="6" fill="#21a685"/>
<rect x="295" y="127" width="6" height="6" fill="#44bf70"/>
<rect x="301" y="127" width="6" height="6" fill="#95d840"/>
<rect x="307" y="127" width="5" height="6" fill="#63cb5f"/>
<rect x="312" y="127" width="6" height="6" fill="#95d840"/>
<rect x="318" y="127" width="6" height="6" fill="#63cb5f"/>
<rect x="324" y="127" width="5" height="6" fill="#21a685"/>
<rect x="329" y="127" width="6" height="6" fill="#f1e51d"/>
<rect x="335" y="127" width="6" height="6" fill="#95d840"/>
<rect x="341" y="127" width="5" height="6" fill="#21a685"/>
<rect x="346" y="127" width="6" height="6" fill="#95d840"/>
<rect x="352" y="127" width="6" height="6" fill="#21a685"/>
<rect x="358" y="127" width="11" height="6" fill="#44bf70"/>
<rect x="369" y="127" width="6" height="6" fill="#2f6c8e"/>
<rect x="375" y="127" width="6" height="6" fill="#21a685"/>
<rect x="381" y="127" width="5" height="6" fill="#63cb5f"/>
<rect x="244" y="122" width="6" height="5" fill="#21a685"/>
<rect x="250" y="122" width="5" height="5" fill="#95d840"/>
<rect x="255" y="122" width="6" height="5" fill="#63cb5f"/>
<rect x="261" y="122" width="12" height="5" fill="#95d840"/>
<rect x="273" y="122" width="5" height="5" fill="#44bf70"/>
<rect x="278" y="122" width="6" height="5" fill="#63cb5f"/>
<rect x="284" y="122" width="11" height="5" fill="#95d840"/>
<rect x="295" y="122" width="6" height="5" fill="#44bf70"/>
<rect x="301" y="122" width="6" height="5" fill="#f1e51d"/>
<rect x="307" y="122" width="5" height="5" fill="#1f958b"/>
<rect x="312" y="122" width="17" height="5" fill="#95d840"/>
<rect x="329" y="122" width="6" height="5" fill="#63cb5f"/>
<rect x="335" y="122" width="11" height="5" fill="#cae11f"/>
<rect x="346" y="122" width="6" height="5" fill="#44bf70"/>
<rect x="352" y="122" width="6" height="5" fill="#1f958b"/>
<rect x="358" y="122" width="11" height="5" fill="#44bf70"/>
<rect x="369" y="122" width="6" height="5" fill="#95d840"/>
<rect x="375" y="122" width="11" height="5" fill="#44bf70"/>
<rect x="244" y="116" width="6" height="6" fill="#63cb5f"/>
<rect x="250" y="116" width="5" height="6" fill="#95d840"/>
<rect x="255" y="116" width="6" height="6" fill="#3a548c"/>
<rect x="261" y="116" width="6" height="6" fill="#1f958b"/>
<rect x="267" y="116" width="6" height="6" fill="#63cb5f"/>
<rect x="273" y="116" width="5" height="6" fill="#2f6c8e"/>
<rect x="278" y="116" width="12" height="6" fill="#21a685"/>
<rect x="290" y="116" width="5" height="6" fill="#287d8e"/>
<rect x="295" y="116" width="12" height="6" fill="#95d840"/>
<rect x="307" y="116" width="5" height="6" fill="#63cb5f"/>
<rect x="312" y="116" width="6" height="6" fill="#cae11f"/>
<rect x="318" y="116" width="6" height="6" fill="#21a685"/>
<rect x="324" y="116" width="5" height="6" fill="#95d840"/>
<rect x="329" y="116" width="6" height="6" fill="#cae11f"/>
<rect x="335" y="116" width="6" height="6" fill="#95d840"/>
<rect x="341" y="116" width="5" height="6" fill="#cae11f"/>
<rect x="346" y="116" width="12" height="6" fill="#95d840"/>
<rect x="358" y="116" width="5" height="6" fill="#2f6c8e"/>
<rect x="363" y="116" width="6" height="6" fill="#63cb5f"/>
<rect x="369" y="116" width="6" height="6" fill="#1f958b"/>
<rect x="375" y="116" width="6" height="6" fill="#44bf70"/>
<rect x="381" y="116" width="5" height="6" fill="#63cb5f"/>
<rect x="244" y="110" width="6" height="6" fill="#21a685"/>
<rect x="250" y="110" width="5" height="6" fill="#44bf70"/>
<rect x="255" y="110" width="6" height="6" fill="#287d8e"/>
<rect x="261" y="110" width="6" height="6" fill="#63cb5f"/>
<rect x="267" y="110" width="6" height="6" fill="#1f958b"/>
<rect x="273" y="110" width="5" height="6" fill="#287d8e"/>
<rect x="278" y="110" width="6" height="6" fill="#44bf70"/>
<rect x="284" y="110" width="6" height="6" fill="#21a685"/>
<rect x="290" y="110" width="5" height="6" fill="#f1e51d"/>
<rect x="295" y="110" width="12" height="6" fill="#95d840"/>
<rect x="307" y="110" width="5" height="6" fill="#287d8e"/>
<rect x="312" y="110" width="6" height="6" fill="#95d840"/>
<rect x="318" y="110" width="6" height="6" fill="#cae11f"/>
<rect x="324" y="110" width="5" height="6" fill="#63cb5f"/>
<rect x="329" y="110" width="6" height="6" fill="#44bf70"/>
<rect x="335" y="110" width="6" height="6" fill="#287d8e"/>
<rect x="341" y="110" width="5" height="6" fill="#21a685"/>
<rect x="346" y="110" width="6" height="6" fill="#63cb5f"/>
<rect x="352" y="110" width="6" height="6" fill="#95d840"/>
<rect x="358" y="110" width="17" height="6" fill="#21a685"/>
<rect x="375" y="110" width="6" height="6" fill="#63cb5f"/>
<rect x="381" y="110" width="5" height="6" fill="#44bf70"/>
<rect x="244" y="105" width="6" height="5" fill="#63cb5f"/>
<rect x="250" y="105" width="5" height="5" fill="#1f958b"/>
<rect x="255" y="105" width="6" height="5" fill="#2f6c8e"/>
<rect x="261" y="105" width="6" height="5" fill="#95d840"/>
<rect x="267" y="105" width="6" height="5" fill="#63cb5f"/>
<rect x="273" y="105" width="5" height="5" fill="#cae11f"/>
<rect x="278" y="105" width="6" height="5" fill="#21a685"/>
<rect x="284" y="105" width="6" height="5" fill="#63cb5f"/>
<rect x="290" y="105" width="17" height="5" fill="#95d840"/>
<rect x="307" y="105" width="11" height="5" fill="#44bf70"/>
<rect x="318" y="105" width="11" height="5" fill="#cae11f"/>
<rect x="329" y="105" width="6" height="5" fill="#f1e51d"/>
<rect x="335" y="105" width="6" height="5" fill="#95d840"/>
<rect x="341" y="105" width="5" height="5" fill="#cae11f"/>
<rect x="346" y="105" width="6" height="5" fill="#95d840"/>
<rect x="352" y="105" width="6" height="5" fill="#63cb5f"/>
<rect x="358" y="105" width="11" height="5" fill="#21a685"/>
<rect x="369" y="105" width="6" height="5" fill="#95d840"/>
<rect x="375" y="105" width="11" height="5" fill="#63cb5f"/>
<rect x="244" y="99" width="6" height="6" fill="#21a685"/>
<rect x="250" y="99" width="5" height="6" fill="#95d840"/>
<rect x="255" y="99" width="6" height="6" fill="#cae11f"/>
<rect x="261" y="99" width="6" height="6" fill="#95d840"/>
<rect x="267" y="99" width="6" height="6" fill="#21a685"/>
<rect x="273" y="99" width="5" height="6" fill="#cae11f"/>
<rect x="278" y="99" width="6" height="6" fill="#63cb5f"/>
<rect x="284" y="99" width="6" height="6" fill="#287d8e"/>
<rect x="290" y="99" width="5" height="6" fill="#63cb5f"/>
<rect x="295" y="99" width="6" height="6" fill="#95d840"/>
<rect x="301" y="99" width="6" height="6" fill="#63cb5f"/>
<rect x="307" y="99" width="11" height="6" fill="#f1e51d"/>
<rect x="318" y="99" width="6" height="6" fill="#63cb5f"/>
<rect x="324" y="99" width="17" height="6" fill="#95d840"/>
<rect x="341" y="99" width="5" height="6" fill="#21a685"/>
<rect x="346" y="99" width="6" height="6" fill="#f1e51d"/>
<rect x="352" y="99" width="6" height="6" fill="#21a685"/>
<rect x="358" y="99" width="5" height="6" fill="#1f958b"/>
<rect x="363" y="99" width="6" height="6" fill="#3a548c"/>
<rect x="369" y="99" width="6" height="6" fill="#2f6c8e"/>
<rect x="375" y="99" width="6" height="6" fill="#95d840"/>
<rect x="381" y="99" width="5" height="6" fill="#44bf70"/>
<rect x="244" y="93" width="6" height="6" fill="#21a685"/>
<rect x="250" y="93" width="5" height="6" fill="#1f958b"/>
<rect x="255" y="93" width="6" height="6" fill="#95d840"/>
<rect x="261" y="93" width="6" height="6" fill="#21a685"/>
<rect x="267" y="93" width="6" height="6" fill="#44bf70"/>
<rect x="273" y="93" width="11" height="6" fill="#95d840"/>
<rect x="284" y="93" width="6" height="6" fill="#cae11f"/>
<rect x="290" y="93" width="5" height="6" fill="#44bf70"/>
<rect x="295" y="93" width="6" height="6" fill="#63cb5f"/>
<rect x="301" y="93" width="11" height="6" fill="#cae11f"/>
<rect x="312" y="93" width="6" height="6" fill="#f1e51d"/>
<rect x="318" y="93" width="6" height="6" fill="#cae11f"/>
<rect x="324" y="93" width="17" height="6" fill="#63cb5f"/>
<rect x="341" y="93" width="5" height="6" fill="#cae11f"/>
<rect x="346" y="93" width="6" height="6" fill="#21a685"/>
<rect x="352" y="93" width="6" height="6" fill="#1f958b"/>
<rect x="358" y="93" width="5" height="6" fill="#21a685"/>
<rect x="363" y="93" width="6" height="6" fill="#95d840"/>
<rect x="369" y="93" width="6" height="6" fill="#21a685"/>
<rect x="375" y="93" width="6" height="6" fill="#cae11f"/>
<rect x="381" y="93" width="5" height="6" fill="#3a548c"/>
<rect x="244" y="88" width="6" height="5" fill="#44bf70"/>
<rect x="250" y="88" width="5" height="5" fill="#63cb5f"/>
<rect x="255" y="88" width="6" height="5" fill="#cae11f"/>
<rect x="261" y="88" width="6" height="5" fill="#95d840"/>
<rect x="267" y="88" width="11" height="5" fill="#f1e51d"/>
<rect x="278" y="88" width="6" height="5" fill="#21a685"/>
<rect x="284" y="88" width="6" height="5" fill="#cae11f"/>
<rect x="290" y="88" width="5" height="5" fill="#95d840"/>
<rect x="295" y="88" width="6" height="5" fill="#21a685"/>
<rect x="301" y="88" width="6" height="5" fill="#95d840"/>
<rect x="307" y="88" width="5" height="5" fill="#287d8e"/>
<rect x="312" y="88" width="6" height="5" fill="#63cb5f"/>
<rect x="318" y="88" width="6" height="5" fill="#21a685"/>
<rect x="324" y="88" width="5" height="5" fill="#f1e51d"/>
<rect x="329" y="88" width="6" height="5" fill="#95d840"/>
<rect x="335" y="88" width="6" height="5" fill="#21a685"/>
<rect x="341" y="88" width="11" height="5" fill="#95d840"/>
<rect x="352" y="88" width="6" height="5" fill="#3a548c"/>
<rect x="358" y="88" width="5" height="5" fill="#95d840"/>
<rect x="363" y="88" width="6" height="5" fill="#2f6c8e"/>
<rect x="369" y="88" width="6" height="5" fill="#95d840"/>
<rect x="375" y="88" width="6" height="5" fill="#2f6c8e"/>
<rect x="381" y="88" width="5" height="5" fill="#443a83"/>
<rect x="244" y="82" width="6" height="6" fill="#f1e51d"/>
<rect x="250" y="82" width="5" height="6" fill="#95d840"/>
<rect x="255" y="82" width="6" height="6" fill="#287d8e"/>
<rect x="261" y="82" width="6" height="6" fill="#63cb5f"/>
<rect x="267" y="82" width="17" height="6" fill="#cae11f"/>
<rect x="284" y="82" width="6" height="6" fill="#95d840"/>
<rect x="290" y="82" width="11" height="6" fill="#287d8e"/>
<rect x="301" y="82" width="11" height="6" fill="#63cb5f"/>
<rect x="312" y="82" width="6" height="6" fill="#21a685"/>
<rect x="318" y="82" width="6" height="6" fill="#95d840"/>
<rect x="324" y="82" width="11" height="6" fill="#cae11f"/>
<rect x="335" y="82" width="11" height="6" fill="#63cb5f"/>
<rect x="346" y="82" width="6" height="6" fill="#95d840"/>
<rect x="352" y="82" width="6" height="6" fill="#287d8e"/>
<rect x="358" y="82" width="5" height="6" fill="#95d840"/>
<rect x="363" y="82" width="12" height="6" fill="#2f6c8e"/>
<rect x="375" y="82" width="6" height="6" fill="#95d840"/>
<rect x="381" y="82" width="5" height="6" fill="#44bf70"/>
<rect x="244" y="76" width="6" height="6" fill="#44bf70"/>
<rect x="250" y="76" width="5" height="6" fill="#1f958b"/>
<rect x="255" y="76" width="12" height="6" fill="#287d8e"/>
<rect x="267" y="76" width="6" height="6" fill="#2f6c8e"/>
<rect x="273" y="76" width="5" height="6" fill="#95d840"/>
<rect x="278" y="76" width="6" height="6" fill="#cae11f"/>
<rect x="284" y="76" width="6" height="6" fill="#f1e51d"/>
<rect x="290" y="76" width="5" height="6" fill="#95d840"/>
<rect x="295" y="76" width="6" height="6" fill="#1f958b"/>
<rect x="301" y="76" width="11" height="6" fill="#95d840"/>
<rect x="312" y="76" width="6" height="6" fill="#440154"/>
<rect x="318" y="76" width="11" height="6" fill="#21a685"/>
<rect x="329" y="76" width="6" height="6" fill="#cae11f"/>
<rect x="335" y="76" width="6" height="6" fill="#287d8e"/>
<rect x="341" y="76" width="5" height="6" fill="#f1e51d"/>
<rect x="346" y="76" width="6" height="6" fill="#95d840"/>
<rect x="352" y="76" width="11" height="6" fill="#21a685"/>
<rect x="363" y="76" width="6" height="6" fill="#63cb5f"/>
<rect x="369" y="76" width="6" height="6" fill="#44bf70"/>
<rect x="375" y="76" width="6" height="6" fill="#95d840"/>
<rect x="381" y="76" width="5" height="6" fill="#63cb5f"/>
<rect x="244" y="71" width="6" height="5" fill="#440154"/>
<rect x="250" y="71" width="5" height="5" fill="#287d8e"/>
<rect x="255" y="71" width="6" height="5" fill="#21a685"/>
<rect x="261" y="71" width="6" height="5" fill="#63cb5f"/>
<rect x="267" y="71" width="6" height="5" fill="#95d840"/>
<rect x="273" y="71" width="5" height="5" fill="#44bf70"/>
<rect x="278" y="71" width="6" height="5" fill="#287d8e"/>
<rect x="284" y="71" width="6" height="5" fill="#cae11f"/>
<rect x="290" y="71" width="5" height="5" fill="#63cb5f"/>
<rect x="295" y="71" width="6" height="5" fill="#95d840"/>
<rect x="301" y="71" width="6" height="5" fill="#44bf70"/>
<rect x="307" y="71" width="5" height="5" fill="#cae11f"/>
<rect x="312" y="71" width="6" height="5" fill="#21a685"/>
<rect x="318" y="71" width="11" height="5" fill="#95d840"/>
<rect x="329" y="71" width="12" height="5" fill="#cae11f"/>
<rect x="341" y="71" width="5" height="5" fill="#63cb5f"/>
<rect x="346" y="71" width="6" height="5" fill="#95d840"/>
<rect x="352" y="71" width="6" height="5" fill="#cae11f"/>
<rect x="358" y="71" width="5" height="5" fill="#95d840"/>
<rect x="363" y="71" width="12" height="5" fill="#1f958b"/>
<rect x="375" y="71" width="6" height="5" fill="#f1e51d"/>
<rect x="381" y="71" width="5" height="5" fill="#95d840"/>
<rect x="244" y="65" width="6" height="6" fill="#cae11f"/>
<rect x="250" y="65" width="5" height="6" fill="#63cb5f"/>
<rect x="255" y="65" width="6" height="6" fill="#cae11f"/>
<rect x="261" y="65" width="6" height="6" fill="#21a685"/>
<rect x="267" y="65" width="6" height="6" fill="#95d840"/>
<rect x="273" y="65" width="11" height="6" fill="#21a685"/>
<rect x="284" y="65" width="6" height="6" fill="#287d8e"/>
<rect x="290" y="65" width="5" height="6" fill="#44bf70"/>
<rect x="295" y="65" width="6" height="6" fill="#cae11f"/>
<rect x="301" y="65" width="6" height="6" fill="#63cb5f"/>
<rect x="307" y="65" width="5" height="6" fill="#287d8e"/>
<rect x="312" y="65" width="6" height="6" fill="#95d840"/>
<rect x="318" y="65" width="17" height="6" fill="#cae11f"/>
<rect x="335" y="65" width="23" height="6" fill="#95d840"/>
<rect x="358" y="65" width="5" height="6" fill="#21a685"/>
<rect x="363" y="65" width="6" height="6" fill="#44bf70"/>
<rect x="369" y="65" width="6" height="6" fill="#63cb5f"/>
<rect x="375" y="65" width="6" height="6" fill="#95d840"/>
<rect x="381" y="65" width="5" height="6" fill="#287d8e"/>
<rect x="244" y="59" width="11" height="6" fill="#44bf70"/>
<rect x="255" y="59" width="6" height="6" fill="#440154"/>
<rect x="261" y="59" width="12" height="6" fill="#21a685"/>
<rect x="273" y="59" width="5" height="6" fill="#63cb5f"/>
<rect x="278" y="59" width="6" height="6" fill="#287d8e"/>
<rect x="284" y="59" width="11" height="6" fill="#95d840"/>
<rect x="295" y="59" width="6" height="6" fill="#44bf70"/>
<rect x="301" y="59" width="6" height="6" fill="#63cb5f"/>
<rect x="307" y="59" width="5" height="6" fill="#95d840"/>
<rect x="312" y="59" width="6" height="6" fill="#f1e51d"/>
<rect x="318" y="59" width="11" height="6" fill="#95d840"/>
<rect x="329" y="59" width="6" height="6" fill="#287d8e"/>
<rect x="335" y="59" width="6" height="6" fill="#44bf70"/>
<rect x="341" y="59" width="5" height="6" fill="#cae11f"/>
<rect x="346" y="59" width="6" height="6" fill="#63cb5f"/>
<rect x="352" y="59" width="6" height="6" fill="#95d840"/>
<rect x="358" y="59" width="5" height="6" fill="#2f6c8e"/>
<rect x="363" y="59" width="18" height="6" fill="#95d840"/>
<rect x="381" y="59" width="5" height="6" fill="#287d8e"/>
<rect x="244" y="53" width="6" height="6" fill="#443a83"/>
<rect x="250" y="53" width="5" height="6" fill="#2f6c8e"/>
<rect x="255" y="53" width="6" height="6" fill="#3a548c"/>
<rect x="261" y="53" width="12" height="6" fill="#95d840"/>
<rect x="273" y="53" width="11" height="6" fill="#21a685"/>
<rect x="284" y="53" width="6" height="6" fill="#cae11f"/>
<rect x="290" y="53" width="5" height="6" fill="#44bf70"/>
<rect x="295" y="53" width="6" height="6" fill="#95d840"/>
<rect x="301" y="53" width="6" height="6" fill="#21a685"/>
<rect x="307" y="53" width="5" height="6" fill="#95d840"/>
<rect x="312" y="53" width="6" height="6" fill="#cae11f"/>
<rect x="318" y="53" width="6" height="6" fill="#63cb5f"/>
<rect x="324" y="53" width="5" height="6" fill="#cae11f"/>
<rect x="329" y="53" width="6" height="6" fill="#63cb5f"/>
<rect x="335" y="53" width="6" height="6" fill="#287d8e"/>
<rect x="341" y="53" width="5" height="6" fill="#95d840"/>
<rect x="346" y="53" width="6" height="6" fill="#21a685"/>
<rect x="352" y="53" width="6" height="6" fill="#cae11f"/>
<rect x="358" y="53" width="5" height="6" fill="#95d840"/>
<rect x="363" y="53" width="6" height="6" fill="#63cb5f"/>
<rect x="369" y="53" width="6" height="6" fill="#cae11f"/>
<rect x="375" y="53" width="6" height="6" fill="#21a685"/>
<rect x="381" y="53" width="5" height="6" fill="#63cb5f"/>
<rect x="244" y="48" width="6" height="5" fill="#63cb5f"/>
<rect x="250" y="48" width="11" height="5" fill="#21a685"/>
<rect x="261" y="48" width="6" height="5" fill="#63cb5f"/>
<rect x="267" y="48" width="11" height="5" fill="#95d840"/>
<rect x="278" y="48" width="12" height="5" fill="#cae11f"/>
<rect x="290" y="48" width="5" height="5" fill="#21a685"/>
<rect x="295" y="48" width="6" height="5" fill="#f1e51d"/>
<rect x="301" y="48" width="11" height="5" fill="#63cb5f"/>
<rect x="312" y="48" width="12" height="5" fill="#95d840"/>
<rect x="324" y="48" width="5" height="5" fill="#2f6c8e"/>
<rect x="329" y="48" width="6" height="5" fill="#287d8e"/>
<rect x="335" y="48" width="6" height="5" fill="#443a83"/>
<rect x="341" y="48" width="5" height="5" fill="#cae11f"/>
<rect x="346" y="48" width="6" height="5" fill="#287d8e"/>
<rect x="352" y="48" width="11" height="5" fill="#63cb5f"/>
<rect x="363" y="48" width="6" height="5" fill="#287d8e"/>
<rect x="369" y="48" width="6" height="5" fill="#95d840"/>
<rect x="375" y="48" width="6" height="5" fill="#63cb5f"/>
<rect x="381" y="48" width="5" height="5" fill="#95d840"/>
<rect x="244" y="42" width="11" height="6" fill="#63cb5f"/>
<rect x="255" y="42" width="6" height="6" fill="#21a685"/>
<rect x="261" y="42" width="6" height="6" fill="#44bf70"/>
<rect x="267" y="42" width="6" height="6" fill="#21a685"/>
<rect x="273" y="42" width="5" height="6" fill="#44bf70"/>
<rect x="278" y="42" width="6" height="6" fill="#63cb5f"/>
<rect x="284" y="42" width="6" height="6" fill="#21a685"/>
<rect x="290" y="42" width="5" height="6" fill="#3a548c"/>
<rect x="295" y="42" width="6" height="6" fill="#63cb5f"/>
<rect x="301" y="42" width="6" height="6" fill="#95d840"/>
<rect x="307" y="42" width="5" height="6" fill="#63cb5f"/>
<rect x="312" y="42" width="6" height="6" fill="#95d840"/>
<rect x="318" y="42" width="6" height="6" fill="#2f6c8e"/>
<rect x="324" y="42" width="11" height="6" fill="#63cb5f"/>
<rect x="335" y="42" width="6" height="6" fill="#1f958b"/>
<rect x="341" y="42" width="11" height="6" fill="#95d840"/>
<rect x="352" y="42" width="6" height="6" fill="#44bf70"/>
<rect x="358" y="42" width="11" height="6" fill="#95d840"/>
<rect x="369" y="42" width="6" height="6" fill="#cae11f"/>
<rect x="375" y="42" width="6" height="6" fill="#63cb5f"/>
<rect x="381" y="42" width="5" height="6" fill="#287d8e"/>
<rect x="244" y="36" width="6" height="6" fill="#cae11f"/>
<rect x="250" y="36" width="5" height="6" fill="#63cb5f"/>
<rect x="255" y="36" width="12" height="6" fill="#21a685"/>
<rect x="267" y="36" width="6" height="6" fill="#63cb5f"/>
<rect x="273" y="36" width="5" height="6" fill="#21a685"/>
<rect x="278" y="36" width="6" height="6" fill="#95d840"/>
<rect x="284" y="36" width="6" height="6" fill="#63cb5f"/>
<rect x="290" y="36" width="5" height="6" fill="#44bf70"/>
<rect x="295" y="36" width="6" height="6" fill="#440154"/>
<rect x="301" y="36" width="6" height="6" fill="#21a685"/>
<rect x="307" y="36" width="11" height="6" fill="#1f958b"/>
<rect x="318" y="36" width="6" height="6" fill="#63cb5f"/>
<rect x="324" y="36" width="5" height="6" fill="#1f958b"/>
<rect x="329" y="36" width="6" height="6" fill="#21a685"/>
<rect x="335" y="36" width="6" height="6" fill="#95d840"/>
<rect x="341" y="36" width="5" height="6" fill="#63cb5f"/>
<rect x="346" y="36" width="12" height="6" fill="#cae11f"/>
<rect x="358" y="36" width="5" height="6" fill="#95d840"/>
<rect x="363" y="36" width="6" height="6" fill="#63cb5f"/>
<rect x="369" y="36" width="6" height="6" fill="#95d840"/>
<rect x="375" y="36" width="11" height="6" fill="#44bf70"/>
<rect x="244" y="32" width="6" height="4" fill="#44bf70"/>
<rect x="250" y="32" width="5" height="4" fill="#cae11f"/>
<rect x="255" y="32" width="6" height="4" fill="#95d840"/>
<rect x="261" y="32" width="17" height="4" fill="#63cb5f"/>
<rect x="278" y="32" width="17" height="4" fill="#95d840"/>
<rect x="295" y="32" width="6" height="4" fill="#44bf70"/>
<rect x="301" y="32" width="6" height="4" fill="#95d840"/>
<rect x="307" y="32" width="5" height="4" fill="#63cb5f"/>
<rect x="312" y="32" width="6" height="4" fill="#21a685"/>
<rect x="318" y="32" width="6" height="4" fill="#63cb5f"/>
<rect x="324" y="32" width="5" height="4" fill="#cae11f"/>
<rect x="329" y="32" width="6" height="4" fill="#63cb5f"/>
<rect x="335" y="32" width="6" height="4" fill="#cae11f"/>
<rect x="341" y="32" width="5" height="4" fill="#21a685"/>
<rect x="346" y="32" width="6" height="4" fill="#95d840"/>
<rect x="352" y="32" width="6" height="4" fill="#63cb5f"/>
<rect x="358" y="32" width="5" height="4" fill="#f1e51d"/>
<rect x="363" y="32" width="6" height="4" fill="#443a83"/>
<rect x="369" y="32" width="6" height="4" fill="#63cb5f"/>
<rect x="375" y="32" width="6" height="4" fill="#44bf70"/>
<rect x="381" y="32" width="5" height="4" fill="#f1e51d"/>
</g>
<path d="M246.94 173.20v-5.50M246.94 32.30v5.50M244.10 170.00h5.50M386.20 170.00h-5.50M275.36 173.20v-5.50M275.36 32.30v5.50M244.10 141.58h5.50M386.20 141.58h-5.50M303.78 173.20v-5.50M303.78 32.30v5.50M244.10 113.16h5.50M386.20 113.16h-5.50M332.20 173.20v-5.50M332.20 32.30v5.50M244.10 84.74h5.50M386.20 84.74h-5.50M360.62 173.20v-5.50M360.62 32.30v5.50M244.10 56.32h5.50M386.20 56.32h-5.50" stroke="#000" stroke-width="1.0" fill="none"/>
<rect x="244.10" y="32.30" width="142.10" height="140.90" fill="none" stroke="#000" stroke-width="1.4"/>
<text x="246.94" y="192.80" font-size="17.5" text-anchor="middle">0</text>
<text x="236.60" y="175.20" font-size="17.5" text-anchor="end">0</text>
<text x="275.36" y="192.80" font-size="17.5" text-anchor="middle">5</text>
<text x="236.60" y="146.78" font-size="17.5" text-anchor="end">5</text>
<text x="303.78" y="192.80" font-size="17.5" text-anchor="middle">10</text>
<text x="236.60" y="118.36" font-size="17.5" text-anchor="end">10</text>
<text x="332.20" y="192.80" font-size="17.5" text-anchor="middle">15</text>
<text x="236.60" y="89.94" font-size="17.5" text-anchor="end">15</text>
<text x="360.62" y="192.80" font-size="17.5" text-anchor="middle">20</text>
<text x="236.60" y="61.52" font-size="17.5" text-anchor="end">20</text>
<text x="314.75" y="24.50" font-size="21.0" text-anchor="middle" letter-spacing="1.10">f606w</text>
<g shape-rendering="crispEdges">
<rect x="444" y="167" width="5" height="6" fill="#63cb5f"/>
<rect x="449" y="167" width="6" height="6" fill="#95d840"/>
<rect x="455" y="167" width="6" height="6" fill="#63cb5f"/>
<rect x="461" y="167" width="5" height="6" fill="#44bf70"/>
<rect x="466" y="167" width="6" height="6" fill="#1f958b"/>
<rect x="472" y="167" width="6" height="6" fill="#63cb5f"/>
<rect x="478" y="167" width="5" height="6" fill="#44bf70"/>
<rect x="483" y="167" width="6" height="6" fill="#21a685"/>
<rect x="489" y="167" width="6" height="6" fill="#3a548c"/>
<rect x="495" y="167" width="6" height="6" fill="#1f958b"/>
<rect x="501" y="167" width="5" height="6" fill="#63cb5f"/>
<rect x="506" y="167" width="12" height="6" fill="#95d840"/>
<rect x="518" y="167" width="5" height="6" fill="#44bf70"/>
<rect x="523" y="167" width="17" height="6" fill="#63cb5f"/>
<rect x="540" y="167" width="6" height="6" fill="#95d840"/>
<rect x="546" y="167" width="6" height="6" fill="#f1e51d"/>
<rect x="552" y="167" width="5" height="6" fill="#cae11f"/>
<rect x="557" y="167" width="6" height="6" fill="#44bf70"/>
<rect x="563" y="167" width="6" height="6" fill="#95d840"/>
<rect x="569" y="167" width="5" height="6" fill="#63cb5f"/>
<rect x="574" y="167" width="6" height="6" fill="#cae11f"/>
<rect x="580" y="167" width="6" height="6" fill="#95d840"/>
<rect x="444" y="161" width="11" height="6" fill="#44bf70"/>
<rect x="455" y="161" width="6" height="6" fill="#63cb5f"/>
<rect x="461" y="161" width="5" height="6" fill="#1f958b"/>
<rect x="466" y="161" width="6" height="6" fill="#63cb5f"/>
<rect x="472" y="161" width="6" height="6" fill="#3a548c"/>
<rect x="478" y="161" width="5" height="6" fill="#1f958b"/>
<rect x="483" y="161" width="6" height="6" fill="#44bf70"/>
<rect x="489" y="161" width="6" height="6" fill="#287d8e"/>
<rect x="495" y="161" width="6" height="6" fill="#44bf70"/>
<rect x="501" y="161" width="5" height="6" fill="#1f958b"/>
<rect x="506" y="161" width="6" height="6" fill="#95d840"/>
<rect x="512" y="161" width="6" height="6" fill="#cae11f"/>
<rect x="518" y="161" width="5" height="6" fill="#63cb5f"/>
<rect x="523" y="161" width="6" height="6" fill="#1f958b"/>
<rect x="529" y="161" width="6" height="6" fill="#95d840"/>
<rect x="535" y="161" width="5" height="6" fill="#63cb5f"/>
<rect x="540" y="161" width="6" height="6" fill="#44bf70"/>
<rect x="546" y="161" width="11" height="6" fill="#63cb5f"/>
<rect x="557" y="161" width="12" height="6" fill="#44bf70"/>
<rect x="569" y="161" width="5" height="6" fill="#63cb5f"/>
<rect x="574" y="161" width="6" height="6" fill="#cae11f"/>
<rect x="580" y="161" width="6" height="6" fill="#63cb5f"/>
<rect x="444" y="156" width="11" height="5" fill="#95d840"/>
<rect x="455" y="156" width="6" height="5" fill="#287d8e"/>
<rect x="461" y="156" width="5" height="5" fill="#1f958b"/>
<rect x="466" y="156" width="6" height="5" fill="#63cb5f"/>
<rect x="472" y="156" width="6" height="5" fill="#44bf70"/>
<rect x="478" y="156" width="5" height="5" fill="#287d8e"/>
<rect x="483" y="156" width="6" height="5" fill="#63cb5f"/>
<rect x="489" y="156" width="6" height="5" fill="#44bf70"/>
<rect x="495" y="156" width="6" height="5" fill="#287d8e"/>
<rect x="501" y="156" width="5" height="5" fill="#95d840"/>
<rect x="506" y="156" width="6" height="5" fill="#21a685"/>
<rect x="512" y="156" width="6" height="5" fill="#287d8e"/>
<rect x="518" y="156" width="5" height="5" fill="#cae11f"/>
<rect x="523" y="156" width="6" height="5" fill="#21a685"/>
<rect x="529" y="156" width="6" height="5" fill="#1f958b"/>
<rect x="535" y="156" width="5" height="5" fill="#287d8e"/>
<rect x="540" y="156" width="6" height="5" fill="#95d840"/>
<rect x="546" y="156" width="6" height="5" fill="#21a685"/>
<rect x="552" y="156" width="11" height="5" fill="#f1e51d"/>
<rect x="563" y="156" width="6" height="5" fill="#95d840"/>
<rect x="569" y="156" width="5" height="5" fill="#63cb5f"/>
<rect x="574" y="156" width="6" height="5" fill="#cae11f"/>
<rect x="580" y="156" width="6" height="5" fill="#63cb5f"/>
<rect x="444" y="150" width="5" height="6" fill="#95d840"/>
<rect x="449" y="150" width="6" height="6" fill="#63cb5f"/>
<rect x="455" y="150" width="6" height="6" fill="#44bf70"/>
<rect x="461" y="150" width="5" height="6" fill="#287d8e"/>
<rect x="466" y="150" width="6" height="6" fill="#21a685"/>
<rect x="472" y="150" width="6" height="6" fill="#cae11f"/>
<rect x="478" y="150" width="5" height="6" fill="#287d8e"/>
<rect x="483" y="150" width="6" height="6" fill="#f1e51d"/>
<rect x="489" y="150" width="6" height="6" fill="#cae11f"/>
<rect x="495" y="150" width="6" height="6" fill="#63cb5f"/>
<rect x="501" y="150" width="5" height="6" fill="#95d840"/>
<rect x="506" y="150" width="6" height="6" fill="#1f958b"/>
<rect x="512" y="150" width="6" height="6" fill="#44bf70"/>
<rect x="518" y="150" width="5" height="6" fill="#63cb5f"/>
<rect x="523" y="150" width="12" height="6" fill="#95d840"/>
<rect x="535" y="150" width="17" height="6" fill="#63cb5f"/>
<rect x="552" y="150" width="5" height="6" fill="#440154"/>
<rect x="557" y="150" width="6" height="6" fill="#21a685"/>
<rect x="563" y="150" width="6" height="6" fill="#95d840"/>
<rect x="569" y="150" width="5" height="6" fill="#63cb5f"/>
<rect x="574" y="150" width="12" height="6" fill="#95d840"/>
<rect x="444" y="144" width="5" height="6" fill="#287d8e"/>
<rect x="449" y="144" width="6" height="6" fill="#44bf70"/>
<rect x="455" y="144" width="6" height="6" fill="#95d840"/>
<rect x="461" y="144" width="5" height="6" fill="#cae11f"/>
<rect x="466" y="144" width="12" height="6" fill="#1f958b"/>
<rect x="478" y="144" width="5" height="6" fill="#3a548c"/>
<rect x="483" y="144" width="6" height="6" fill="#44bf70"/>
<rect x="489" y="144" width="17" height="6" fill="#63cb5f"/>
<rect x="506" y="144" width="6" height="6" fill="#95d840"/>
<rect x="512" y="144" width="6" height="6" fill="#21a685"/>
<rect x="518" y="144" width="5" height="6" fill="#287d8e"/>
<rect x="523" y="144" width="6" height="6" fill="#95d840"/>
<rect x="529" y="144" width="6" height="6" fill="#cae11f"/>
<rect x="535" y="144" width="5" height="6" fill="#44bf70"/>
<rect x="540" y="144" width="17" height="6" fill="#95d840"/>
<rect x="557" y="144" width="6" height="6" fill="#287d8e"/>
<rect x="563" y="144" width="6" height="6" fill="#95d840"/>
<rect x="569" y="144" width="11" height="6" fill="#21a685"/>
<rect x="580" y="144" width="6" height="6" fill="#63cb5f"/>
<rect x="444" y="139" width="5" height="5" fill="#cae11f"/>
<rect x="449" y="139" width="6" height="5" fill="#21a685"/>
<rect x="455" y="139" width="11" height="5" fill="#3a548c"/>
<rect x="466" y="139" width="6" height="5" fill="#63cb5f"/>
<rect x="472" y="139" width="6" height="5" fill="#1f958b"/>
<rect x="478" y="139" width="5" height="5" fill="#95d840"/>
<rect x="483" y="139" width="6" height="5" fill="#21a685"/>
<rect x="489" y="139" width="6" height="5" fill="#95d840"/>
<rect x="495" y="139" width="6" height="5" fill="#63cb5f"/>
<rect x="501" y="139" width="5" height="5" fill="#440154"/>
<rect x="506" y="139" width="12" height="5" fill="#21a685"/>
<rect x="518" y="139" width="11" height="5" fill="#63cb5f"/>
<rect x="529" y="139" width="6" height="5" fill="#cae11f"/>
<rect x="535" y="139" width="5" height="5" fill="#21a685"/>
<rect x="540" y="139" width="6" height="5" fill="#1f958b"/>
<rect x="546" y="139" width="6" height="5" fill="#63cb5f"/>
<rect x="552" y="139" width="11" height="5" fill="#21a685"/>
<rect x="563" y="139" width="17" height="5" fill="#95d840"/>
<rect x="580" y="139" width="6" height="5" fill="#63cb5f"/>
<rect x="444" y="133" width="5" height="6" fill="#95d840"/>
<rect x="449" y="133" width="6" height="6" fill="#2f6c8e"/>
<rect x="455" y="133" width="6" height="6" fill="#21a685"/>
<rect x="461" y="133" width="5" height="6" fill="#287d8e"/>
<rect x="466" y="133" width="6" height="6" fill="#f1e51d"/>
<rect x="472" y="133" width="6" height="6" fill="#443a83"/>
<rect x="478" y="133" width="5" height="6" fill="#287d8e"/>
<rect x="483" y="133" width="12" height="6" fill="#63cb5f"/>
<rect x="495" y="133" width="11" height="6" fill="#1f958b"/>
<rect x="506" y="133" width="6" height="6" fill="#95d840"/>
<rect x="512" y="133" width="6" height="6" fill="#21a685"/>
<rect x="518" y="133" width="5" height="6" fill="#cae11f"/>
<rect x="523" y="133" width="6" height="6" fill="#95d840"/>
<rect x="529" y="133" width="6" height="6" fill="#21a685"/>
<rect x="535" y="133" width="5" height="6" fill="#95d840"/>
<rect x="540" y="133" width="6" height="6" fill="#21a685"/>
<rect x="546" y="133" width="6" height="6" fill="#95d840"/>
<rect x="552" y="133" width="5" height="6" fill="#440154"/>
<rect x="557" y="133" width="6" height="6" fill="#cae11f"/>
<rect x="563" y="133" width="6" height="6" fill="#21a685"/>
<rect x="569" y="133" width="5" height="6" fill="#44bf70"/>
<rect x="574" y="133" width="12" height="6" fill="#95d840"/>
<rect x="444" y="127" width="11" height="6" fill="#44bf70"/>
<rect x="455" y="127" width="6" height="6" fill="#95d840"/>
<rect x="461" y="127" width="5" height="6" fill="#3a548c"/>
<rect x="466" y="127" width="6" height="6" fill="#44bf70"/>
<rect x="472" y="127" width="6" height="6" fill="#cae11f"/>
<rect x="478" y="127" width="5" height="6" fill="#f1e51d"/>
<rect x="483" y="127" width="6" height="6" fill="#63cb5f"/>
<rect x="489" y="127" width="6" height="6" fill="#443a83"/>
<rect x="495" y="127" width="6" height="6" fill="#63cb5f"/>
<rect x="501" y="127" width="11" height="6" fill="#95d840"/>
<rect x="512" y="127" width="6" height="6" fill="#1f958b"/>
<rect x="518" y="127" width="5" height="6" fill="#cae11f"/>
<rect x="523" y="127" width="6" height="6" fill="#f1e51d"/>
<rect x="529" y="127" width="6" height="6" fill="#95d840"/>
<rect x="535" y="127" width="5" height="6" fill="#63cb5f"/>
<rect x="540" y="127" width="12" height="6" fill="#21a685"/>
<rect x="552" y="127" width="5" height="6" fill="#1f958b"/>
<rect x="557" y="127" width="6" height="6" fill="#44bf70"/>
<rect x="563" y="127" width="11" height="6" fill="#cae11f"/>
<rect x="574" y="127" width="12" height="6" fill="#95d840"/>
<rect x="444" y="122" width="11" height="5" fill="#95d840"/>
<rect x="455" y="122" width="6" height="5" fill="#21a685"/>
<rect x="461" y="122" width="5" height="5" fill="#3a548c"/>
<rect x="466" y="122" width="6" height="5" fill="#95d840"/>
<rect x="472" y="122" width="6" height="5" fill="#3a548c"/>
<rect x="478" y="122" width="5" height="5" fill="#95d840"/>
<rect x="483" y="122" width="6" height="5" fill="#21a685"/>
<rect x="489" y="122" width="6" height="5" fill="#95d840"/>
<rect x="495" y="122" width="6" height="5" fill="#21a685"/>
<rect x="501" y="122" width="11" height="5" fill="#95d840"/>
<rect x="512" y="122" width="6" height="5" fill="#44bf70"/>
<rect x="518" y="122" width="5" height="5" fill="#cae11f"/>
<rect x="523" y="122" width="6" height="5" fill="#95d840"/>
<rect x="529" y="122" width="6" height="5" fill="#cae11f"/>
<rect x="535" y="122" width="5" height="5" fill="#63cb5f"/>
<rect x="540" y="122" width="12" height="5" fill="#1f958b"/>
<rect x="552" y="122" width="5" height="5" fill="#287d8e"/>
<rect x="557" y="122" width="6" height="5" fill="#95d840"/>
<rect x="563" y="122" width="6" height="5" fill="#f1e51d"/>
<rect x="569" y="122" width="5" height="5" fill="#63cb5f"/>
<rect x="574" y="122" width="12" height="5" fill="#95d840"/>
<rect x="444" y="116" width="5" height="6" fill="#3a548c"/>
<rect x="449" y="116" width="6" height="6" fill="#95d840"/>
<rect x="455" y="116" width="6" height="6" fill="#21a685"/>
<rect x="461" y="116" width="5" height="6" fill="#95d840"/>
<rect x="466" y="116" width="6" height="6" fill="#63cb5f"/>
<rect x="472" y="116" width="6" height="6" fill="#95d840"/>
<rect x="478" y="116" width="5" height="6" fill="#cae11f"/>
<rect x="483" y="116" width="6" height="6" fill="#95d840"/>
<rect x="489" y="116" width="6" height="6" fill="#cae11f"/>
<rect x="495" y="116" width="6" height="6" fill="#f1e51d"/>
<rect x="501" y="116" width="5" height="6" fill="#95d840"/>
<rect x="506" y="116" width="6" height="6" fill="#63cb5f"/>
<rect x="512" y="116" width="11" height="6" fill="#95d840"/>
<rect x="523" y="116" width="6" height="6" fill="#21a685"/>
<rect x="529" y="116" width="11" height="6" fill="#95d840"/>
<rect x="540" y="116" width="6" height="6" fill="#21a685"/>
<rect x="546" y="116" width="23" height="6" fill="#95d840"/>
<rect x="569" y="116" width="5" height="6" fill="#f1e51d"/>
<rect x="574" y="116" width="6" height="6" fill="#95d840"/>
<rect x="580" y="116" width="6" height="6" fill="#1f958b"/>
<rect x="444" y="110" width="5" height="6" fill="#440154"/>
<rect x="449" y="110" width="17" height="6" fill="#44bf70"/>
<rect x="466" y="110" width="12" height="6" fill="#95d840"/>
<rect x="478" y="110" width="5" height="6" fill="#f1e51d"/>
<rect x="483" y="110" width="6" height="6" fill="#1f958b"/>
<rect x="489" y="110" width="6" height="6" fill="#63cb5f"/>
<rect x="495" y="110" width="6" height="6" fill="#21a685"/>
<rect x="501" y="110" width="5" height="6" fill="#95d840"/>
<rect x="506" y="110" width="6" height="6" fill="#cae11f"/>
<rect x="512" y="110" width="6" height="6" fill="#95d840"/>
<rect x="518" y="110" width="5" height="6" fill="#f1e51d"/>
<rect x="523" y="110" width="6" height="6" fill="#95d840"/>
<rect x="529" y="110" width="6" height="6" fill="#cae11f"/>
<rect x="535" y="110" width="5" height="6" fill="#95d840"/>
<rect x="540" y="110" width="6" height="6" fill="#63cb5f"/>
<rect x="546" y="110" width="6" height="6" fill="#1f958b"/>
<rect x="552" y="110" width="5" height="6" fill="#63cb5f"/>
<rect x="557" y="110" width="6" height="6" fill="#44bf70"/>
<rect x="563" y="110" width="6" height="6" fill="#63cb5f"/>
<rect x="569" y="110" width="11" height="6" fill="#95d840"/>
<rect x="580" y="110" width="6" height="6" fill="#63cb5f"/>
<rect x="444" y="105" width="5" height="5" fill="#3a548c"/>
<rect x="449" y="105" width="6" height="5" fill="#44bf70"/>
<rect x="455" y="105" width="6" height="5" fill="#21a685"/>
<rect x="461" y="105" width="11" height="5" fill="#63cb5f"/>
<rect x="472" y="105" width="6" height="5" fill="#21a685"/>
<rect x="478" y="105" width="23" height="5" fill="#95d840"/>
<rect x="501" y="105" width="11" height="5" fill="#63cb5f"/>
<rect x="512" y="105" width="6" height="5" fill="#44bf70"/>
<rect x="518" y="105" width="11" height="5" fill="#63cb5f"/>
<rect x="529" y="105" width="6" height="5" fill="#95d840"/>
<rect x="535" y="105" width="5" height="5" fill="#44bf70"/>
<rect x="540" y="105" width="6" height="5" fill="#95d840"/>
<rect x="546" y="105" width="6" height="5" fill="#f1e51d"/>
<rect x="552" y="105" width="5" height="5" fill="#95d840"/>
<rect x="557" y="105" width="6" height="5" fill="#63cb5f"/>
<rect x="563" y="105" width="6" height="5" fill="#21a685"/>
<rect x="569" y="105" width="5" height="5" fill="#95d840"/>
<rect x="574" y="105" width="12" height="5" fill="#63cb5f"/>
<rect x="444" y="99" width="5" height="6" fill="#95d840"/>
<rect x="449" y="99" width="6" height="6" fill="#21a685"/>
<rect x="455" y="99" width="6" height="6" fill="#63cb5f"/>
<rect x="461" y="99" width="11" height="6" fill="#1f958b"/>
<rect x="472" y="99" width="6" height="6" fill="#63cb5f"/>
<rect x="478" y="99" width="5" height="6" fill="#21a685"/>
<rect x="483" y="99" width="6" height="6" fill="#95d840"/>
<rect x="489" y="99" width="6" height="6" fill="#cae11f"/>
<rect x="495" y="99" width="6" height="6" fill="#f1e51d"/>
<rect x="501" y="99" width="5" height="6" fill="#21a685"/>
<rect x="506" y="99" width="6" height="6" fill="#63cb5f"/>
<rect x="512" y="99" width="11" height="6" fill="#cae11f"/>
<rect x="523" y="99" width="6" height="6" fill="#95d840"/>
<rect x="529" y="99" width="6" height="6" fill="#cae11f"/>
<rect x="535" y="99" width="11" height="6" fill="#63cb5f"/>
<rect x="546" y="99" width="6" height="6" fill="#cae11f"/>
<rect x="552" y="99" width="11" height="6" fill="#63cb5f"/>
<rect x="563" y="99" width="6" height="6" fill="#21a685"/>
<rect x="569" y="99" width="5" height="6" fill="#f1e51d"/>
<rect x="574" y="99" width="6" height="6" fill="#63cb5f"/>
<rect x="580" y="99" width="6" height="6" fill="#44bf70"/>
<rect x="444" y="93" width="5" height="6" fill="#63cb5f"/>
<rect x="449" y="93" width="12" height="6" fill="#95d840"/>
<rect x="461" y="93" width="5" height="6" fill="#44bf70"/>
<rect x="466" y="93" width="6" height="6" fill="#63cb5f"/>
<rect x="472" y="93" width="11" height="6" fill="#95d840"/>
<rect x="483" y="93" width="12" height="6" fill="#cae11f"/>
<rect x="495" y="93" width="6" height="6" fill="#63cb5f"/>
<rect x="501" y="93" width="5" height="6" fill="#21a685"/>
<rect x="506" y="93" width="6" height="6" fill="#63cb5f"/>
<rect x="512" y="93" width="6" height="6" fill="#f1e51d"/>
<rect x="518" y="93" width="5" height="6" fill="#95d840"/>
<rect x="523" y="93" width="6" height="6" fill="#1f958b"/>
<rect x="529" y="93" width="6" height="6" fill="#95d840"/>
<rect x="535" y="93" width="5" height="6" fill="#44bf70"/>
<rect x="540" y="93" width="6" height="6" fill="#63cb5f"/>
<rect x="546" y="93" width="6" height="6" fill="#95d840"/>
<rect x="552" y="93" width="5" height="6" fill="#f1e51d"/>
<rect x="557" y="93" width="6" height="6" fill="#63cb5f"/>
<rect x="563" y="93" width="6" height="6" fill="#95d840"/>
<rect x="569" y="93" width="5" height="6" fill="#21a685"/>
<rect x="574" y="93" width="12" height="6" fill="#95d840"/>
<rect x="444" y="88" width="5" height="5" fill="#21a685"/>
<rect x="449" y="88" width="12" height="5" fill="#44bf70"/>
<rect x="461" y="88" width="5" height="5" fill="#95d840"/>
<rect x="466" y="88" width="6" height="5" fill="#cae11f"/>
<rect x="472" y="88" width="6" height="5" fill="#63cb5f"/>
<rect x="478" y="88" width="5" height="5" fill="#95d840"/>
<rect x="483" y="88" width="12" height="5" fill="#cae11f"/>
<rect x="495" y="88" width="6" height="5" fill="#95d840"/>
<rect x="501" y="88" width="5" height="5" fill="#63cb5f"/>
<rect x="506" y="88" width="6" height="5" fill="#95d840"/>
<rect x="512" y="88" width="6" height="5" fill="#cae11f"/>
<rect x="518" y="88" width="5" height="5" fill="#44bf70"/>
<rect x="523" y="88" width="6" height="5" fill="#1f958b"/>
<rect x="529" y="88" width="17" height="5" fill="#95d840"/>
<rect x="546" y="88" width="6" height="5" fill="#44bf70"/>
<rect x="552" y="88" width="5" height="5" fill="#cae11f"/>
<rect x="557" y="88" width="6" height="5" fill="#287d8e"/>
<rect x="563" y="88" width="6" height="5" fill="#95d840"/>
<rect x="569" y="88" width="11" height="5" fill="#63cb5f"/>
<rect x="580" y="88" width="6" height="5" fill="#287d8e"/>
<rect x="444" y="82" width="5" height="6" fill="#1f958b"/>
<rect x="449" y="82" width="6" height="6" fill="#95d840"/>
<rect x="455" y="82" width="6" height="6" fill="#21a685"/>
<rect x="461" y="82" width="5" height="6" fill="#440154"/>
<rect x="466" y="82" width="6" height="6" fill="#1f958b"/>
<rect x="472" y="82" width="6" height="6" fill="#f1e51d"/>
<rect x="478" y="82" width="5" height="6" fill="#1f958b"/>
<rect x="483" y="82" width="6" height="6" fill="#95d840"/>
<rect x="489" y="82" width="12" height="6" fill="#63cb5f"/>
<rect x="501" y="82" width="5" height="6" fill="#1f958b"/>
<rect x="506" y="82" width="12" height="6" fill="#95d840"/>
<rect x="518" y="82" width="5" height="6" fill="#cae11f"/>
<rect x="523" y="82" width="6" height="6" fill="#63cb5f"/>
<rect x="529" y="82" width="11" height="6" fill="#95d840"/>
<rect x="540" y="82" width="6" height="6" fill="#63cb5f"/>
<rect x="546" y="82" width="11" height="6" fill="#95d840"/>
<rect x="557" y="82" width="6" height="6" fill="#63cb5f"/>
<rect x="563" y="82" width="6" height="6" fill="#3a548c"/>
<rect x="569" y="82" width="5" height="6" fill="#63cb5f"/>
<rect x="574" y="82" width="6" height="6" fill="#cae11f"/>
<rect x="580" y="82" width="6" height="6" fill="#63cb5f"/>
<rect x="444" y="76" width="5" height="6" fill="#63cb5f"/>
<rect x="449" y="76" width="6" height="6" fill="#1f958b"/>
<rect x="455" y="76" width="6" height="6" fill="#95d840"/>
<rect x="461" y="76" width="5" height="6" fill="#63cb5f"/>
<rect x="466" y="76" width="6" height="6" fill="#21a685"/>
<rect x="472" y="76" width="6" height="6" fill="#63cb5f"/>
<rect x="478" y="76" width="11" height="6" fill="#1f958b"/>
<rect x="489" y="76" width="6" height="6" fill="#63cb5f"/>
<rect x="495" y="76" width="6" height="6" fill="#95d840"/>
<rect x="501" y="76" width="5" height="6" fill="#21a685"/>
<rect x="506" y="76" width="6" height="6" fill="#95d840"/>
<rect x="512" y="76" width="6" height="6" fill="#44bf70"/>
<rect x="518" y="76" width="5" height="6" fill="#440154"/>
<rect x="523" y="76" width="6" height="6" fill="#21a685"/>
<rect x="529" y="76" width="6" height="6" fill="#95d840"/>
<rect x="535" y="76" width="5" height="6" fill="#44bf70"/>
<rect x="540" y="76" width="6" height="6" fill="#95d840"/>
<rect x="546" y="76" width="6" height="6" fill="#f1e51d"/>
<rect x="552" y="76" width="11" height="6" fill="#63cb5f"/>
<rect x="563" y="76" width="6" height="6" fill="#1f958b"/>
<rect x="569" y="76" width="5" height="6" fill="#95d840"/>
<rect x="574" y="76" width="6" height="6" fill="#21a685"/>
<rect x="580" y="76" width="6" height="6" fill="#287d8e"/>
<rect x="444" y="71" width="5" height="5" fill="#f1e51d"/>
<rect x="449" y="71" width="6" height="5" fill="#63cb5f"/>
<rect x="455" y="71" width="11" height="5" fill="#21a685"/>
<rect x="466" y="71" width="12" height="5" fill="#63cb5f"/>
<rect x="478" y="71" width="5" height="5" fill="#44bf70"/>
<rect x="483" y="71" width="6" height="5" fill="#95d840"/>
<rect x="489" y="71" width="12" height="5" fill="#cae11f"/>
<rect x="501" y="71" width="5" height="5" fill="#63cb5f"/>
<rect x="506" y="71" width="6" height="5" fill="#1f958b"/>
<rect x="512" y="71" width="6" height="5" fill="#95d840"/>
<rect x="518" y="71" width="5" height="5" fill="#44bf70"/>
<rect x="523" y="71" width="12" height="5" fill="#95d840"/>
<rect x="535" y="71" width="5" height="5" fill="#cae11f"/>
<rect x="540" y="71" width="12" height="5" fill="#44bf70"/>
<rect x="552" y="71" width="5" height="5" fill="#95d840"/>
<rect x="557" y="71" width="6" height="5" fill="#21a685"/>
<rect x="563" y="71" width="11" height="5" fill="#cae11f"/>
<rect x="574" y="71" width="6" height="5" fill="#21a685"/>
<rect x="580" y="71" width="6" height="5" fill="#44bf70"/>
<rect x="444" y="65" width="5" height="6" fill="#443a83"/>
<rect x="449" y="65" width="6" height="6" fill="#2f6c8e"/>
<rect x="455" y="65" width="11" height="6" fill="#1f958b"/>
<rect x="466" y="65" width="6" height="6" fill="#95d840"/>
<rect x="472" y="65" width="6" height="6" fill="#cae11f"/>
<rect x="478" y="65" width="5" height="6" fill="#21a685"/>
<rect x="483" y="65" width="6" height="6" fill="#44bf70"/>
<rect x="489" y="65" width="12" height="6" fill="#95d840"/>
<rect x="501" y="65" width="5" height="6" fill="#44bf70"/>
<rect x="506" y="65" width="6" height="6" fill="#2f6c8e"/>
<rect x="512" y="65" width="17" height="6" fill="#95d840"/>
<rect x="529" y="65" width="6" height="6" fill="#21a685"/>
<rect x="535" y="65" width="5" height="6" fill="#95d840"/>
<rect x="540" y="65" width="12" height="6" fill="#cae11f"/>
<rect x="552" y="65" width="11" height="6" fill="#63cb5f"/>
<rect x="563" y="65" width="6" height="6" fill="#95d840"/>
<rect x="569" y="65" width="5" height="6" fill="#cae11f"/>
<rect x="574" y="65" width="6" height="6" fill="#95d840"/>
<rect x="580" y="65" width="6" height="6" fill="#1f958b"/>
<rect x="444" y="59" width="5" height="6" fill="#21a685"/>
<rect x="449" y="59" width="12" height="6" fill="#44bf70"/>
<rect x="461" y="59" width="11" height="6" fill="#63cb5f"/>
<rect x="472" y="59" width="17" height="6" fill="#cae11f"/>
<rect x="489" y="59" width="6" height="6" fill="#443a83"/>
<rect x="495" y="59" width="6" height="6" fill="#95d840"/>
<rect x="501" y="59" width="5" height="6" fill="#21a685"/>
<rect x="506" y="59" width="12" height="6" fill="#44bf70"/>
<rect x="518" y="59" width="5" height="6" fill="#cae11f"/>
<rect x="523" y="59" width="6" height="6" fill="#44bf70"/>
<rect x="529" y="59" width="34" height="6" fill="#95d840"/>
<rect x="563" y="59" width="6" height="6" fill="#f1e51d"/>
<rect x="569" y="59" width="5" height="6" fill="#95d840"/>
<rect x="574" y="59" width="6" height="6" fill="#21a685"/>
<rect x="580" y="59" width="6" height="6" fill="#287d8e"/>
<rect x="444" y="53" width="5" height="6" fill="#21a685"/>
<rect x="449" y="53" width="6" height="6" fill="#63cb5f"/>
<rect x="455" y="53" width="6" height="6" fill="#1f958b"/>
<rect x="461" y="53" width="5" height="6" fill="#63cb5f"/>
<rect x="466" y="53" width="6" height="6" fill="#1f958b"/>
<rect x="472" y="53" width="6" height="6" fill="#95d840"/>
<rect x="478" y="53" width="5" height="6" fill="#2f6c8e"/>
<rect x="483" y="53" width="6" height="6" fill="#cae11f"/>
<rect x="489" y="53" width="6" height="6" fill="#44bf70"/>
<rect x="495" y="53" width="6" height="6" fill="#95d840"/>
<rect x="501" y="53" width="5" height="6" fill="#63cb5f"/>
<rect x="506" y="53" width="6" height="6" fill="#cae11f"/>
<rect x="512" y="53" width="6" height="6" fill="#63cb5f"/>
<rect x="518" y="53" width="5" height="6" fill="#f1e51d"/>
<rect x="523" y="53" width="6" height="6" fill="#63cb5f"/>
<rect x="529" y="53" width="6" height="6" fill="#287d8e"/>
<rect x="535" y="53" width="11" height="6" fill="#cae11f"/>
<rect x="546" y="53" width="6" height="6" fill="#63cb5f"/>
<rect x="552" y="53" width="5" height="6" fill="#cae11f"/>
<rect x="557" y="53" width="6" height="6" fill="#21a685"/>
<rect x="563" y="53" width="11" height="6" fill="#95d840"/>
<rect x="574" y="53" width="6" height="6" fill="#63cb5f"/>
<rect x="580" y="53" width="6" height="6" fill="#95d840"/>
<rect x="444" y="48" width="5" height="5" fill="#cae11f"/>
<rect x="449" y="48" width="12" height="5" fill="#287d8e"/>
<rect x="461" y="48" width="5" height="5" fill="#21a685"/>
<rect x="466" y="48" width="6" height="5" fill="#2f6c8e"/>
<rect x="472" y="48" width="6" height="5" fill="#440154"/>
<rect x="478" y="48" width="11" height="5" fill="#63cb5f"/>
<rect x="489" y="48" width="6" height="5" fill="#cae11f"/>
<rect x="495" y="48" width="6" height="5" fill="#95d840"/>
<rect x="501" y="48" width="5" height="5" fill="#63cb5f"/>
<rect x="506" y="48" width="6" height="5" fill="#287d8e"/>
<rect x="512" y="48" width="6" height="5" fill="#63cb5f"/>
<rect x="518" y="48" width="5" height="5" fill="#21a685"/>
<rect x="523" y="48" width="6" height="5" fill="#63cb5f"/>
<rect x="529" y="48" width="6" height="5" fill="#440154"/>
<rect x="535" y="48" width="5" height="5" fill="#21a685"/>
<rect x="540" y="48" width="6" height="5" fill="#63cb5f"/>
<rect x="546" y="48" width="6" height="5" fill="#95d840"/>
<rect x="552" y="48" width="5" height="5" fill="#21a685"/>
<rect x="557" y="48" width="6" height="5" fill="#2f6c8e"/>
<rect x="563" y="48" width="6" height="5" fill="#21a685"/>
<rect x="569" y="48" width="5" height="5" fill="#95d840"/>
<rect x="574" y="48" width="6" height="5" fill="#cae11f"/>
<rect x="580" y="48" width="6" height="5" fill="#287d8e"/>
<rect x="444" y="42" width="5" height="6" fill="#21a685"/>
<rect x="449" y="42" width="6" height="6" fill="#95d840"/>
<rect x="455" y="42" width="6" height="6" fill="#1f958b"/>
<rect x="461" y="42" width="5" height="6" fill="#287d8e"/>
<rect x="466" y="42" width="6" height="6" fill="#21a685"/>
<rect x="472" y="42" width="11" height="6" fill="#95d840"/>
<rect x="483" y="42" width="6" height="6" fill="#63cb5f"/>
<rect x="489" y="42" width="6" height="6" fill="#2f6c8e"/>
<rect x="495" y="42" width="6" height="6" fill="#63cb5f"/>
<rect x="501" y="42" width="5" height="6" fill="#95d840"/>
<rect x="506" y="42" width="6" height="6" fill="#63cb5f"/>
<rect x="512" y="42" width="6" height="6" fill="#95d840"/>
<rect x="518" y="42" width="5" height="6" fill="#2f6c8e"/>
<rect x="523" y="42" width="6" height="6" fill="#63cb5f"/>
<rect x="529" y="42" width="6" height="6" fill="#1f958b"/>
<rect x="535" y="42" width="11" height="6" fill="#21a685"/>
<rect x="546" y="42" width="6" height="6" fill="#2f6c8e"/>
<rect x="552" y="42" width="11" height="6" fill="#63cb5f"/>
<rect x="563" y="42" width="6" height="6" fill="#287d8e"/>
<rect x="569" y="42" width="11" height="6" fill="#63cb5f"/>
<rect x="580" y="42" width="6" height="6" fill="#21a685"/>
<rect x="444" y="36" width="5" height="6" fill="#f1e51d"/>
<rect x="449" y="36" width="12" height="6" fill="#63cb5f"/>
<rect x="461" y="36" width="5" height="6" fill="#21a685"/>
<rect x="466" y="36" width="6" height="6" fill="#cae11f"/>
<rect x="472" y="36" width="6" height="6" fill="#21a685"/>
<rect x="478" y="36" width="5" height="6" fill="#95d840"/>
<rect x="483" y="36" width="6" height="6" fill="#63cb5f"/>
<rect x="489" y="36" width="6" height="6" fill="#287d8e"/>
<rect x="495" y="36" width="6" height="6" fill="#21a685"/>
<rect x="501" y="36" width="5" height="6" fill="#f1e51d"/>
<rect x="506" y="36" width="6" height="6" fill="#3a548c"/>
<rect x="512" y="36" width="6" height="6" fill="#1f958b"/>
<rect x="518" y="36" width="11" height="6" fill="#63cb5f"/>
<rect x="529" y="36" width="17" height="6" fill="#21a685"/>
<rect x="546" y="36" width="6" height="6" fill="#287d8e"/>
<rect x="552" y="36" width="5" height="6" fill="#63cb5f"/>
<rect x="557" y="36" width="12" height="6" fill="#21a685"/>
<rect x="569" y="36" width="5" height="6" fill="#63cb5f"/>
<rect x="574" y="36" width="6" height="6" fill="#44bf70"/>
<rect x="580" y="36" width="6" height="6" fill="#287d8e"/>
<rect x="444" y="32" width="5" height="4" fill="#95d840"/>
<rect x="449" y="32" width="6" height="4" fill="#287d8e"/>
<rect x="455" y="32" width="6" height="4" fill="#1f958b"/>
<rect x="461" y="32" width="5" height="4" fill="#44bf70"/>
<rect x="466" y="32" width="6" height="4" fill="#21a685"/>
<rect x="472" y="32" width="6" height="4" fill="#443a83"/>
<rect x="478" y="32" width="5" height="4" fill="#63cb5f"/>
<rect x="483" y="32" width="6" height="4" fill="#1f958b"/>
<rect x="489" y="32" width="6" height="4" fill="#287d8e"/>
<rect x="495" y="32" width="6" height="4" fill="#2f6c8e"/>
<rect x="501" y="32" width="5" height="4" fill="#95d840"/>
<rect x="506" y="32" width="6" height="4" fill="#44bf70"/>
<rect x="512" y="32" width="6" height="4" fill="#95d840"/>
<rect x="518" y="32" width="11" height="4" fill="#63cb5f"/>
<rect x="529" y="32" width="6" height="4" fill="#287d8e"/>
<rect x="535" y="32" width="5" height="4" fill="#63cb5f"/>
<rect x="540" y="32" width="6" height="4" fill="#f1e51d"/>
<rect x="546" y="32" width="11" height="4" fill="#63cb5f"/>
<rect x="557" y="32" width="6" height="4" fill="#44bf70"/>
<rect x="563" y="32" width="6" height="4" fill="#287d8e"/>
<rect x="569" y="32" width="5" height="4" fill="#63cb5f"/>
<rect x="574" y="32" width="6" height="4" fill="#2f6c8e"/>
<rect x="580" y="32" width="6" height="4" fill="#21a685"/>
</g>
<path d="M446.54 173.20v-5.50M446.54 32.30v5.50M443.70 170.00h5.50M585.80 170.00h-5.50M474.96 173.20v-5.50M474.96 32.30v5.50M443.70 141.58h5.50M585.80 141.58h-5.50M503.38 173.20v-5.50M503.38 32.30v5.50M443.70 113.16h5.50M585.80 113.16h-5.50M531.80 173.20v-5.50M531.80 32.30v5.50M443.70 84.74h5.50M585.80 84.74h-5.50M560.22 173.20v-5.50M560.22 32.30v5.50M443.70 56.32h5.50M585.80 56.32h-5.50" stroke="#000" stroke-width="1.0" fill="none"/>
<rect x="443.70" y="32.30" width="142.10" height="140.90" fill="none" stroke="#000" stroke-width="1.4"/>
<text x="446.54" y="192.80" font-size="17.5" text-anchor="middle">0</text>
<text x="436.20" y="175.20" font-size="17.5" text-anchor="end">0</text>
<text x="474.96" y="192.80" font-size="17.5" text-anchor="middle">5</text>
<text x="436.20" y="146.78" font-size="17.5" text-anchor="end">5</text>
<text x="503.38" y="192.80" font-size="17.5" text-anchor="middle">10</text>
<text x="436.20" y="118.36" font-size="17.5" text-anchor="end">10</text>
<text x="531.80" y="192.80" font-size="17.5" text-anchor="middle">15</text>
<text x="436.20" y="89.94" font-size="17.5" text-anchor="end">15</text>
<text x="560.22" y="192.80" font-size="17.5" text-anchor="middle">20</text>
<text x="436.20" y="61.52" font-size="17.5" text-anchor="end">20</text>
<text x="514.35" y="24.50" font-size="21.0" text-anchor="middle" letter-spacing="1.10">f814w</text>
<g shape-rendering="crispEdges">
<rect x="45" y="362" width="5" height="6" fill="#21a685"/>
<rect x="50" y="362" width="6" height="6" fill="#1f958b"/>
<rect x="56" y="362" width="6" height="6" fill="#63cb5f"/>
<rect x="62" y="362" width="5" height="6" fill="#1f958b"/>
<rect x="67" y="362" width="6" height="6" fill="#287d8e"/>
<rect x="73" y="362" width="6" height="6" fill="#63cb5f"/>
<rect x="79" y="362" width="11" height="6" fill="#44bf70"/>
<rect x="90" y="362" width="6" height="6" fill="#63cb5f"/>
<rect x="96" y="362" width="5" height="6" fill="#95d840"/>
<rect x="101" y="362" width="6" height="6" fill="#63cb5f"/>
<rect x="107" y="362" width="6" height="6" fill="#1f958b"/>
<rect x="113" y="362" width="11" height="6" fill="#287d8e"/>
<rect x="124" y="362" width="6" height="6" fill="#1f958b"/>
<rect x="130" y="362" width="5" height="6" fill="#481d6f"/>
<rect x="135" y="362" width="6" height="6" fill="#440154"/>
<rect x="141" y="362" width="6" height="6" fill="#3a548c"/>
<rect x="147" y="362" width="5" height="6" fill="#21a685"/>
<rect x="152" y="362" width="6" height="6" fill="#1f958b"/>
<rect x="158" y="362" width="12" height="6" fill="#21a685"/>
<rect x="170" y="362" width="5" height="6" fill="#95d840"/>
<rect x="175" y="362" width="6" height="6" fill="#63cb5f"/>
<rect x="181" y="362" width="6" height="6" fill="#1f958b"/>
<rect x="45" y="356" width="5" height="6" fill="#1f958b"/>
<rect x="50" y="356" width="6" height="6" fill="#44bf70"/>
<rect x="56" y="356" width="6" height="6" fill="#95d840"/>
<rect x="62" y="356" width="5" height="6" fill="#63cb5f"/>
<rect x="67" y="356" width="6" height="6" fill="#287d8e"/>
<rect x="73" y="356" width="6" height="6" fill="#95d840"/>
<rect x="79" y="356" width="5" height="6" fill="#63cb5f"/>
<rect x="84" y="356" width="6" height="6" fill="#21a685"/>
<rect x="90" y="356" width="11" height="6" fill="#63cb5f"/>
<rect x="101" y="356" width="6" height="6" fill="#21a685"/>
<rect x="107" y="356" width="6" height="6" fill="#1f958b"/>
<rect x="113" y="356" width="5" height="6" fill="#287d8e"/>
<rect x="118" y="356" width="6" height="6" fill="#21a685"/>
<rect x="124" y="356" width="6" height="6" fill="#44bf70"/>
<rect x="130" y="356" width="5" height="6" fill="#2f6c8e"/>
<rect x="135" y="356" width="12" height="6" fill="#440154"/>
<rect x="147" y="356" width="11" height="6" fill="#95d840"/>
<rect x="158" y="356" width="6" height="6" fill="#44bf70"/>
<rect x="164" y="356" width="6" height="6" fill="#1f958b"/>
<rect x="170" y="356" width="11" height="6" fill="#287d8e"/>
<rect x="181" y="356" width="6" height="6" fill="#21a685"/>
<rect x="45" y="351" width="11" height="5" fill="#287d8e"/>
<rect x="56" y="351" width="11" height="5" fill="#63cb5f"/>
<rect x="67" y="351" width="6" height="5" fill="#44bf70"/>
<rect x="73" y="351" width="6" height="5" fill="#95d840"/>
<rect x="79" y="351" width="5" height="5" fill="#63cb5f"/>
<rect x="84" y="351" width="6" height="5" fill="#21a685"/>
<rect x="90" y="351" width="6" height="5" fill="#1f958b"/>
<rect x="96" y="351" width="17" height="5" fill="#21a685"/>
<rect x="113" y="351" width="5" height="5" fill="#cae11f"/>
<rect x="118" y="351" width="6" height="5" fill="#95d840"/>
<rect x="124" y="351" width="6" height="5" fill="#63cb5f"/>
<rect x="130" y="351" width="17" height="5" fill="#1f958b"/>
<rect x="147" y="351" width="5" height="5" fill="#63cb5f"/>
<rect x="152" y="351" width="6" height="5" fill="#95d840"/>
<rect x="158" y="351" width="6" height="5" fill="#21a685"/>
<rect x="164" y="351" width="6" height="5" fill="#3a548c"/>
<rect x="170" y="351" width="11" height="5" fill="#440154"/>
<rect x="181" y="351" width="6" height="5" fill="#1f958b"/>
<rect x="45" y="345" width="11" height="6" fill="#1f958b"/>
<rect x="56" y="345" width="6" height="6" fill="#287d8e"/>
<rect x="62" y="345" width="5" height="6" fill="#44bf70"/>
<rect x="67" y="345" width="6" height="6" fill="#63cb5f"/>
<rect x="73" y="345" width="6" height="6" fill="#21a685"/>
<rect x="79" y="345" width="11" height="6" fill="#63cb5f"/>
<rect x="90" y="345" width="6" height="6" fill="#1f958b"/>
<rect x="96" y="345" width="5" height="6" fill="#21a685"/>
<rect x="101" y="345" width="6" height="6" fill="#63cb5f"/>
<rect x="107" y="345" width="6" height="6" fill="#44bf70"/>
<rect x="113" y="345" width="11" height="6" fill="#cae11f"/>
<rect x="124" y="345" width="6" height="6" fill="#63cb5f"/>
<rect x="130" y="345" width="5" height="6" fill="#44bf70"/>
<rect x="135" y="345" width="6" height="6" fill="#63cb5f"/>
<rect x="141" y="345" width="6" height="6" fill="#21a685"/>
<rect x="147" y="345" width="5" height="6" fill="#1f958b"/>
<rect x="152" y="345" width="6" height="6" fill="#287d8e"/>
<rect x="158" y="345" width="6" height="6" fill="#443a83"/>
<rect x="164" y="345" width="6" height="6" fill="#3a548c"/>
<rect x="170" y="345" width="5" height="6" fill="#443a83"/>
<rect x="175" y="345" width="6" height="6" fill="#21a685"/>
<rect x="181" y="345" width="6" height="6" fill="#287d8e"/>
<rect x="45" y="339" width="5" height="6" fill="#44bf70"/>
<rect x="50" y="339" width="6" height="6" fill="#63cb5f"/>
<rect x="56" y="339" width="6" height="6" fill="#1f958b"/>
<rect x="62" y="339" width="5" height="6" fill="#21a685"/>
<rect x="67" y="339" width="6" height="6" fill="#44bf70"/>
<rect x="73" y="339" width="6" height="6" fill="#1f958b"/>
<rect x="79" y="339" width="5" height="6" fill="#44bf70"/>
<rect x="84" y="339" width="6" height="6" fill="#63cb5f"/>
<rect x="90" y="339" width="11" height="6" fill="#21a685"/>
<rect x="101" y="339" width="17" height="6" fill="#63cb5f"/>
<rect x="118" y="339" width="6" height="6" fill="#44bf70"/>
<rect x="124" y="339" width="23" height="6" fill="#63cb5f"/>
<rect x="147" y="339" width="5" height="6" fill="#1f958b"/>
<rect x="152" y="339" width="6" height="6" fill="#287d8e"/>
<rect x="158" y="339" width="6" height="6" fill="#3a548c"/>
<rect x="164" y="339" width="6" height="6" fill="#44bf70"/>
<rect x="170" y="339" width="11" height="6" fill="#95d840"/>
<rect x="181" y="339" width="6" height="6" fill="#21a685"/>
<rect x="45" y="334" width="5" height="5" fill="#21a685"/>
<rect x="50" y="334" width="12" height="5" fill="#63cb5f"/>
<rect x="62" y="334" width="5" height="5" fill="#95d840"/>
<rect x="67" y="334" width="6" height="5" fill="#63cb5f"/>
<rect x="73" y="334" width="11" height="5" fill="#1f958b"/>
<rect x="84" y="334" width="6" height="5" fill="#287d8e"/>
<rect x="90" y="334" width="11" height="5" fill="#21a685"/>
<rect x="101" y="334" width="6" height="5" fill="#63cb5f"/>
<rect x="107" y="334" width="6" height="5" fill="#1f958b"/>
<rect x="113" y="334" width="5" height="5" fill="#44bf70"/>
<rect x="118" y="334" width="12" height="5" fill="#63cb5f"/>
<rect x="130" y="334" width="5" height="5" fill="#287d8e"/>
<rect x="135" y="334" width="12" height="5" fill="#95d840"/>
<rect x="147" y="334" width="11" height="5" fill="#21a685"/>
<rect x="158" y="334" width="17" height="5" fill="#63cb5f"/>
<rect x="175" y="334" width="6" height="5" fill="#44bf70"/>
<rect x="181" y="334" width="6" height="5" fill="#1f958b"/>
<rect x="45" y="328" width="5" height="6" fill="#287d8e"/>
<rect x="50" y="328" width="12" height="6" fill="#44bf70"/>
<rect x="62" y="328" width="17" height="6" fill="#63cb5f"/>
<rect x="79" y="328" width="5" height="6" fill="#44bf70"/>
<rect x="84" y="328" width="6" height="6" fill="#287d8e"/>
<rect x="90" y="328" width="6" height="6" fill="#63cb5f"/>
<rect x="96" y="328" width="11" height="6" fill="#95d840"/>
<rect x="107" y="328" width="6" height="6" fill="#21a685"/>
<rect x="113" y="328" width="5" height="6" fill="#287d8e"/>
<rect x="118" y="328" width="12" height="6" fill="#21a685"/>
<rect x="130" y="328" width="5" height="6" fill="#3a548c"/>
<rect x="135" y="328" width="6" height="6" fill="#21a685"/>
<rect x="141" y="328" width="6" height="6" fill="#95d840"/>
<rect x="147" y="328" width="5" height="6" fill="#287d8e"/>
<rect x="152" y="328" width="6" height="6" fill="#1f958b"/>
<rect x="158" y="328" width="12" height="6" fill="#63cb5f"/>
<rect x="170" y="328" width="11" height="6" fill="#443a83"/>
<rect x="181" y="328" width="6" height="6" fill="#287d8e"/>
<rect x="45" y="322" width="5" height="6" fill="#287d8e"/>
<rect x="50" y="322" width="6" height="6" fill="#21a685"/>
<rect x="56" y="322" width="28" height="6" fill="#44bf70"/>
<rect x="84" y="322" width="6" height="6" fill="#21a685"/>
<rect x="90" y="322" width="11" height="6" fill="#cae11f"/>
<rect x="101" y="322" width="6" height="6" fill="#63cb5f"/>
<rect x="107" y="322" width="6" height="6" fill="#443a83"/>
<rect x="113" y="322" width="5" height="6" fill="#287d8e"/>
<rect x="118" y="322" width="6" height="6" fill="#21a685"/>
<rect x="124" y="322" width="6" height="6" fill="#44bf70"/>
<rect x="130" y="322" width="5" height="6" fill="#63cb5f"/>
<rect x="135" y="322" width="12" height="6" fill="#95d840"/>
<rect x="147" y="322" width="5" height="6" fill="#21a685"/>
<rect x="152" y="322" width="18" height="6" fill="#1f958b"/>
<rect x="170" y="322" width="5" height="6" fill="#3a548c"/>
<rect x="175" y="322" width="6" height="6" fill="#481d6f"/>
<rect x="181" y="322" width="6" height="6" fill="#44bf70"/>
<rect x="45" y="317" width="11" height="5" fill="#1f958b"/>
<rect x="56" y="317" width="11" height="5" fill="#21a685"/>
<rect x="67" y="317" width="6" height="5" fill="#44bf70"/>
<rect x="73" y="317" width="11" height="5" fill="#63cb5f"/>
<rect x="84" y="317" width="6" height="5" fill="#287d8e"/>
<rect x="90" y="317" width="11" height="5" fill="#63cb5f"/>
<rect x="101" y="317" width="6" height="5" fill="#1f958b"/>
<rect x="107" y="317" width="11" height="5" fill="#443a83"/>
<rect x="118" y="317" width="6" height="5" fill="#44bf70"/>
<rect x="124" y="317" width="11" height="5" fill="#cae11f"/>
<rect x="135" y="317" width="12" height="5" fill="#95d840"/>
<rect x="147" y="317" width="5" height="5" fill="#63cb5f"/>
<rect x="152" y="317" width="6" height="5" fill="#44bf70"/>
<rect x="158" y="317" width="12" height="5" fill="#1f958b"/>
<rect x="170" y="317" width="5" height="5" fill="#287d8e"/>
<rect x="175" y="317" width="6" height="5" fill="#63cb5f"/>
<rect x="181" y="317" width="6" height="5" fill="#95d840"/>
<rect x="45" y="311" width="5" height="6" fill="#44bf70"/>
<rect x="50" y="311" width="12" height="6" fill="#21a685"/>
<rect x="62" y="311" width="17" height="6" fill="#63cb5f"/>
<rect x="79" y="311" width="5" height="6" fill="#95d840"/>
<rect x="84" y="311" width="12" height="6" fill="#63cb5f"/>
<rect x="96" y="311" width="5" height="6" fill="#44bf70"/>
<rect x="101" y="311" width="12" height="6" fill="#21a685"/>
<rect x="113" y="311" width="5" height="6" fill="#cae11f"/>
<rect x="118" y="311" width="6" height="6" fill="#95d840"/>
<rect x="124" y="311" width="11" height="6" fill="#cae11f"/>
<rect x="135" y="311" width="6" height="6" fill="#44bf70"/>
<rect x="141" y="311" width="6" height="6" fill="#21a685"/>
<rect x="147" y="311" width="11" height="6" fill="#63cb5f"/>
<rect x="158" y="311" width="12" height="6" fill="#44bf70"/>
<rect x="170" y="311" width="5" height="6" fill="#287d8e"/>
<rect x="175" y="311" width="6" height="6" fill="#1f958b"/>
<rect x="181" y="311" width="6" height="6" fill="#63cb5f"/>
<rect x="45" y="305" width="22" height="6" fill="#63cb5f"/>
<rect x="67" y="305" width="12" height="6" fill="#44bf70"/>
<rect x="79" y="305" width="5" height="6" fill="#63cb5f"/>
<rect x="84" y="305" width="12" height="6" fill="#95d840"/>
<rect x="96" y="305" width="5" height="6" fill="#63cb5f"/>
<rect x="101" y="305" width="12" height="6" fill="#f1e51d"/>
<rect x="113" y="305" width="5" height="6" fill="#cae11f"/>
<rect x="118" y="305" width="12" height="6" fill="#95d840"/>
<rect x="130" y="305" width="5" height="6" fill="#cae11f"/>
<rect x="135" y="305" width="6" height="6" fill="#63cb5f"/>
<rect x="141" y="305" width="6" height="6" fill="#21a685"/>
<rect x="147" y="305" width="17" height="6" fill="#95d840"/>
<rect x="164" y="305" width="6" height="6" fill="#63cb5f"/>
<rect x="170" y="305" width="5" height="6" fill="#44bf70"/>
<rect x="175" y="305" width="6" height="6" fill="#95d840"/>
<rect x="181" y="305" width="6" height="6" fill="#21a685"/>
<rect x="45" y="300" width="28" height="5" fill="#63cb5f"/>
<rect x="73" y="300" width="6" height="5" fill="#44bf70"/>
<rect x="79" y="300" width="5" height="5" fill="#21a685"/>
<rect x="84" y="300" width="12" height="5" fill="#63cb5f"/>
<rect x="96" y="300" width="5" height="5" fill="#95d840"/>
<rect x="101" y="300" width="12" height="5" fill="#f1e51d"/>
<rect x="113" y="300" width="5" height="5" fill="#63cb5f"/>
<rect x="118" y="300" width="6" height="5" fill="#21a685"/>
<rect x="124" y="300" width="6" height="5" fill="#44bf70"/>
<rect x="130" y="300" width="5" height="5" fill="#95d840"/>
<rect x="135" y="300" width="6" height="5" fill="#63cb5f"/>
<rect x="141" y="300" width="11" height="5" fill="#95d840"/>
<rect x="152" y="300" width="6" height="5" fill="#cae11f"/>
<rect x="158" y="300" width="6" height="5" fill="#95d840"/>
<rect x="164" y="300" width="6" height="5" fill="#44bf70"/>
<rect x="170" y="300" width="5" height="5" fill="#63cb5f"/>
<rect x="175" y="300" width="6" height="5" fill="#cae11f"/>
<rect x="181" y="300" width="6" height="5" fill="#63cb5f"/>
<rect x="45" y="294" width="11" height="6" fill="#21a685"/>
<rect x="56" y="294" width="6" height="6" fill="#63cb5f"/>
<rect x="62" y="294" width="11" height="6" fill="#95d840"/>
<rect x="73" y="294" width="11" height="6" fill="#44bf70"/>
<rect x="84" y="294" width="6" height="6" fill="#95d840"/>
<rect x="90" y="294" width="11" height="6" fill="#63cb5f"/>
<rect x="101" y="294" width="6" height="6" fill="#f1e51d"/>
<rect x="107" y="294" width="6" height="6" fill="#63cb5f"/>
<rect x="113" y="294" width="11" height="6" fill="#287d8e"/>
<rect x="124" y="294" width="6" height="6" fill="#44bf70"/>
<rect x="130" y="294" width="11" height="6" fill="#95d840"/>
<rect x="141" y="294" width="6" height="6" fill="#44bf70"/>
<rect x="147" y="294" width="11" height="6" fill="#63cb5f"/>
<rect x="158" y="294" width="17" height="6" fill="#44bf70"/>
<rect x="175" y="294" width="12" height="6" fill="#63cb5f"/>
<rect x="45" y="288" width="5" height="6" fill="#3a548c"/>
<rect x="50" y="288" width="6" height="6" fill="#481d6f"/>
<rect x="56" y="288" width="6" height="6" fill="#21a685"/>
<rect x="62" y="288" width="5" height="6" fill="#63cb5f"/>
<rect x="67" y="288" width="6" height="6" fill="#1f958b"/>
<rect x="73" y="288" width="11" height="6" fill="#21a685"/>
<rect x="84" y="288" width="6" height="6" fill="#63cb5f"/>
<rect x="90" y="288" width="6" height="6" fill="#95d840"/>
<rect x="96" y="288" width="5" height="6" fill="#cae11f"/>
<rect x="101" y="288" width="6" height="6" fill="#f1e51d"/>
<rect x="107" y="288" width="6" height="6" fill="#cae11f"/>
<rect x="113" y="288" width="5" height="6" fill="#21a685"/>
<rect x="118" y="288" width="6" height="6" fill="#95d840"/>
<rect x="124" y="288" width="6" height="6" fill="#cae11f"/>
<rect x="130" y="288" width="5" height="6" fill="#95d840"/>
<rect x="135" y="288" width="6" height="6" fill="#63cb5f"/>
<rect x="141" y="288" width="11" height="6" fill="#cae11f"/>
<rect x="152" y="288" width="23" height="6" fill="#44bf70"/>
<rect x="175" y="288" width="6" height="6" fill="#1f958b"/>
<rect x="181" y="288" width="6" height="6" fill="#44bf70"/>
<rect x="45" y="283" width="5" height="5" fill="#21a685"/>
<rect x="50" y="283" width="6" height="5" fill="#443a83"/>
<rect x="56" y="283" width="6" height="5" fill="#1f958b"/>
<rect x="62" y="283" width="5" height="5" fill="#44bf70"/>
<rect x="67" y="283" width="6" height="5" fill="#287d8e"/>
<rect x="73" y="283" width="6" height="5" fill="#1f958b"/>
<rect x="79" y="283" width="5" height="5" fill="#63cb5f"/>
<rect x="84" y="283" width="17" height="5" fill="#95d840"/>
<rect x="101" y="283" width="6" height="5" fill="#cae11f"/>
<rect x="107" y="283" width="6" height="5" fill="#f1e51d"/>
<rect x="113" y="283" width="5" height="5" fill="#cae11f"/>
<rect x="118" y="283" width="6" height="5" fill="#95d840"/>
<rect x="124" y="283" width="6" height="5" fill="#cae11f"/>
<rect x="130" y="283" width="11" height="5" fill="#95d840"/>
<rect x="141" y="283" width="11" height="5" fill="#f1e51d"/>
<rect x="152" y="283" width="6" height="5" fill="#21a685"/>
<rect x="158" y="283" width="6" height="5" fill="#287d8e"/>
<rect x="164" y="283" width="6" height="5" fill="#21a685"/>
<rect x="170" y="283" width="5" height="5" fill="#63cb5f"/>
<rect x="175" y="283" width="6" height="5" fill="#1f958b"/>
<rect x="181" y="283" width="6" height="5" fill="#44bf70"/>
<rect x="45" y="277" width="5" height="6" fill="#2f6c8e"/>
<rect x="50" y="277" width="6" height="6" fill="#440154"/>
<rect x="56" y="277" width="6" height="6" fill="#287d8e"/>
<rect x="62" y="277" width="5" height="6" fill="#44bf70"/>
<rect x="67" y="277" width="6" height="6" fill="#21a685"/>
<rect x="73" y="277" width="6" height="6" fill="#63cb5f"/>
<rect x="79" y="277" width="17" height="6" fill="#95d840"/>
<rect x="96" y="277" width="11" height="6" fill="#cae11f"/>
<rect x="107" y="277" width="11" height="6" fill="#f1e51d"/>
<rect x="118" y="277" width="6" height="6" fill="#95d840"/>
<rect x="124" y="277" width="6" height="6" fill="#21a685"/>
<rect x="130" y="277" width="5" height="6" fill="#44bf70"/>
<rect x="135" y="277" width="6" height="6" fill="#63cb5f"/>
<rect x="141" y="277" width="6" height="6" fill="#cae11f"/>
<rect x="147" y="277" width="5" height="6" fill="#21a685"/>
<rect x="152" y="277" width="6" height="6" fill="#44bf70"/>
<rect x="158" y="277" width="17" height="6" fill="#1f958b"/>
<rect x="175" y="277" width="6" height="6" fill="#443a83"/>
<rect x="181" y="277" width="6" height="6" fill="#44bf70"/>
<rect x="45" y="271" width="5" height="6" fill="#287d8e"/>
<rect x="50" y="271" width="6" height="6" fill="#440154"/>
<rect x="56" y="271" width="6" height="6" fill="#287d8e"/>
<rect x="62" y="271" width="5" height="6" fill="#63cb5f"/>
<rect x="67" y="271" width="6" height="6" fill="#21a685"/>
<rect x="73" y="271" width="6" height="6" fill="#44bf70"/>
<rect x="79" y="271" width="11" height="6" fill="#63cb5f"/>
<rect x="90" y="271" width="6" height="6" fill="#44bf70"/>
<rect x="96" y="271" width="11" height="6" fill="#95d840"/>
<rect x="107" y="271" width="6" height="6" fill="#cae11f"/>
<rect x="113" y="271" width="11" height="6" fill="#63cb5f"/>
<rect x="124" y="271" width="6" height="6" fill="#44bf70"/>
<rect x="130" y="271" width="5" height="6" fill="#21a685"/>
<rect x="135" y="271" width="12" height="6" fill="#95d840"/>
<rect x="147" y="271" width="5" height="6" fill="#44bf70"/>
<rect x="152" y="271" width="23" height="6" fill="#21a685"/>
<rect x="175" y="271" width="6" height="6" fill="#443a83"/>
<rect x="181" y="271" width="6" height="6" fill="#1f958b"/>
<rect x="45" y="266" width="5" height="5" fill="#44bf70"/>
<rect x="50" y="266" width="12" height="5" fill="#21a685"/>
<rect x="62" y="266" width="5" height="5" fill="#95d840"/>
<rect x="67" y="266" width="6" height="5" fill="#44bf70"/>
<rect x="73" y="266" width="6" height="5" fill="#21a685"/>
<rect x="79" y="266" width="11" height="5" fill="#63cb5f"/>
<rect x="90" y="266" width="6" height="5" fill="#44bf70"/>
<rect x="96" y="266" width="5" height="5" fill="#63cb5f"/>
<rect x="101" y="266" width="6" height="5" fill="#21a685"/>
<rect x="107" y="266" width="17" height="5" fill="#63cb5f"/>
<rect x="124" y="266" width="6" height="5" fill="#287d8e"/>
<rect x="130" y="266" width="5" height="5" fill="#44bf70"/>
<rect x="135" y="266" width="6" height="5" fill="#63cb5f"/>
<rect x="141" y="266" width="11" height="5" fill="#95d840"/>
<rect x="152" y="266" width="6" height="5" fill="#63cb5f"/>
<rect x="158" y="266" width="12" height="5" fill="#21a685"/>
<rect x="170" y="266" width="5" height="5" fill="#63cb5f"/>
<rect x="175" y="266" width="6" height="5" fill="#95d840"/>
<rect x="181" y="266" width="6" height="5" fill="#44bf70"/>
<rect x="45" y="260" width="11" height="6" fill="#63cb5f"/>
<rect x="56" y="260" width="6" height="6" fill="#21a685"/>
<rect x="62" y="260" width="5" height="6" fill="#63cb5f"/>
<rect x="67" y="260" width="12" height="6" fill="#44bf70"/>
<rect x="79" y="260" width="5" height="6" fill="#63cb5f"/>
<rect x="84" y="260" width="6" height="6" fill="#95d840"/>
<rect x="90" y="260" width="6" height="6" fill="#63cb5f"/>
<rect x="96" y="260" width="5" height="6" fill="#44bf70"/>
<rect x="101" y="260" width="6" height="6" fill="#21a685"/>
<rect x="107" y="260" width="6" height="6" fill="#44bf70"/>
<rect x="113" y="260" width="5" height="6" fill="#63cb5f"/>
<rect x="118" y="260" width="6" height="6" fill="#1f958b"/>
<rect x="124" y="260" width="6" height="6" fill="#2f6c8e"/>
<rect x="130" y="260" width="5" height="6" fill="#1f958b"/>
<rect x="135" y="260" width="6" height="6" fill="#63cb5f"/>
<rect x="141" y="260" width="6" height="6" fill="#95d840"/>
<rect x="147" y="260" width="11" height="6" fill="#cae11f"/>
<rect x="158" y="260" width="6" height="6" fill="#63cb5f"/>
<rect x="164" y="260" width="6" height="6" fill="#cae11f"/>
<rect x="170" y="260" width="11" height="6" fill="#f1e51d"/>
<rect x="181" y="260" width="6" height="6" fill="#63cb5f"/>
<rect x="45" y="254" width="11" height="6" fill="#63cb5f"/>
<rect x="56" y="254" width="6" height="6" fill="#44bf70"/>
<rect x="62" y="254" width="5" height="6" fill="#63cb5f"/>
<rect x="67" y="254" width="12" height="6" fill="#44bf70"/>
<rect x="79" y="254" width="17" height="6" fill="#95d840"/>
<rect x="96" y="254" width="5" height="6" fill="#63cb5f"/>
<rect x="101" y="254" width="6" height="6" fill="#21a685"/>
<rect x="107" y="254" width="11" height="6" fill="#63cb5f"/>
<rect x="118" y="254" width="6" height="6" fill="#44bf70"/>
<rect x="124" y="254" width="6" height="6" fill="#1f958b"/>
<rect x="130" y="254" width="11" height="6" fill="#63cb5f"/>
<rect x="141" y="254" width="11" height="6" fill="#95d840"/>
<rect x="152" y="254" width="18" height="6" fill="#63cb5f"/>
<rect x="170" y="254" width="5" height="6" fill="#f1e51d"/>
<rect x="175" y="254" width="6" height="6" fill="#cae11f"/>
<rect x="181" y="254" width="6" height="6" fill="#287d8e"/>
<rect x="45" y="248" width="5" height="6" fill="#63cb5f"/>
<rect x="50" y="248" width="12" height="6" fill="#44bf70"/>
<rect x="62" y="248" width="11" height="6" fill="#63cb5f"/>
<rect x="73" y="248" width="23" height="6" fill="#95d840"/>
<rect x="96" y="248" width="11" height="6" fill="#1f958b"/>
<rect x="107" y="248" width="6" height="6" fill="#21a685"/>
<rect x="113" y="248" width="5" height="6" fill="#63cb5f"/>
<rect x="118" y="248" width="6" height="6" fill="#1f958b"/>
<rect x="124" y="248" width="6" height="6" fill="#44bf70"/>
<rect x="130" y="248" width="17" height="6" fill="#63cb5f"/>
<rect x="147" y="248" width="11" height="6" fill="#95d840"/>
<rect x="158" y="248" width="12" height="6" fill="#63cb5f"/>
<rect x="170" y="248" width="5" height="6" fill="#95d840"/>
<rect x="175" y="248" width="6" height="6" fill="#63cb5f"/>
<rect x="181" y="248" width="6" height="6" fill="#1f958b"/>
<rect x="45" y="243" width="5" height="5" fill="#44bf70"/>
<rect x="50" y="243" width="12" height="5" fill="#63cb5f"/>
<rect x="62" y="243" width="5" height="5" fill="#95d840"/>
<rect x="67" y="243" width="12" height="5" fill="#63cb5f"/>
<rect x="79" y="243" width="5" height="5" fill="#95d840"/>
<rect x="84" y="243" width="6" height="5" fill="#63cb5f"/>
<rect x="90" y="243" width="6" height="5" fill="#95d840"/>
<rect x="96" y="243" width="5" height="5" fill="#63cb5f"/>
<rect x="101" y="243" width="6" height="5" fill="#21a685"/>
<rect x="107" y="243" width="11" height="5" fill="#cae11f"/>
<rect x="118" y="243" width="6" height="5" fill="#44bf70"/>
<rect x="124" y="243" width="6" height="5" fill="#21a685"/>
<rect x="130" y="243" width="11" height="5" fill="#63cb5f"/>
<rect x="141" y="243" width="6" height="5" fill="#44bf70"/>
<rect x="147" y="243" width="11" height="5" fill="#63cb5f"/>
<rect x="158" y="243" width="6" height="5" fill="#95d840"/>
<rect x="164" y="243" width="6" height="5" fill="#63cb5f"/>
<rect x="170" y="243" width="5" height="5" fill="#cae11f"/>
<rect x="175" y="243" width="6" height="5" fill="#95d840"/>
<rect x="181" y="243" width="6" height="5" fill="#21a685"/>
<rect x="45" y="237" width="5" height="6" fill="#44bf70"/>
<rect x="50" y="237" width="6" height="6" fill="#63cb5f"/>
<rect x="56" y="237" width="6" height="6" fill="#44bf70"/>
<rect x="62" y="237" width="5" height="6" fill="#63cb5f"/>
<rect x="67" y="237" width="6" height="6" fill="#44bf70"/>
<rect x="73" y="237" width="23" height="6" fill="#63cb5f"/>
<rect x="96" y="237" width="5" height="6" fill="#1f958b"/>
<rect x="101" y="237" width="6" height="6" fill="#21a685"/>
<rect x="107" y="237" width="6" height="6" fill="#95d840"/>
<rect x="113" y="237" width="5" height="6" fill="#cae11f"/>
<rect x="118" y="237" width="6" height="6" fill="#63cb5f"/>
<rect x="124" y="237" width="11" height="6" fill="#21a685"/>
<rect x="135" y="237" width="6" height="6" fill="#63cb5f"/>
<rect x="141" y="237" width="6" height="6" fill="#44bf70"/>
<rect x="147" y="237" width="5" height="6" fill="#3a548c"/>
<rect x="152" y="237" width="6" height="6" fill="#287d8e"/>
<rect x="158" y="237" width="6" height="6" fill="#63cb5f"/>
<rect x="164" y="237" width="6" height="6" fill="#95d840"/>
<rect x="170" y="237" width="5" height="6" fill="#63cb5f"/>
<rect x="175" y="237" width="6" height="6" fill="#95d840"/>
<rect x="181" y="237" width="6" height="6" fill="#44bf70"/>
<rect x="45" y="231" width="17" height="6" fill="#44bf70"/>
<rect x="62" y="231" width="5" height="6" fill="#63cb5f"/>
<rect x="67" y="231" width="12" height="6" fill="#44bf70"/>
<rect x="79" y="231" width="11" height="6" fill="#63cb5f"/>
<rect x="90" y="231" width="11" height="6" fill="#1f958b"/>
<rect x="101" y="231" width="6" height="6" fill="#2f6c8e"/>
<rect x="107" y="231" width="17" height="6" fill="#63cb5f"/>
<rect x="124" y="231" width="11" height="6" fill="#21a685"/>
<rect x="135" y="231" width="6" height="6" fill="#95d840"/>
<rect x="141" y="231" width="6" height="6" fill="#63cb5f"/>
<rect x="147" y="231" width="5" height="6" fill="#440154"/>
<rect x="152" y="231" width="6" height="6" fill="#3a548c"/>
<rect x="158" y="231" width="29" height="6" fill="#63cb5f"/>
<rect x="45" y="227" width="11" height="4" fill="#63cb5f"/>
<rect x="56" y="227" width="11" height="4" fill="#95d840"/>
<rect x="67" y="227" width="6" height="4" fill="#63cb5f"/>
<rect x="73" y="227" width="6" height="4" fill="#95d840"/>
<rect x="79" y="227" width="5" height="4" fill="#cae11f"/>
<rect x="84" y="227" width="6" height="4" fill="#95d840"/>
<rect x="90" y="227" width="6" height="4" fill="#44bf70"/>
<rect x="96" y="227" width="11" height="4" fill="#1f958b"/>
<rect x="107" y="227" width="17" height="4" fill="#63cb5f"/>
<rect x="124" y="227" width="6" height="4" fill="#1f958b"/>
<rect x="130" y="227" width="5" height="4" fill="#21a685"/>
<rect x="135" y="227" width="6" height="4" fill="#63cb5f"/>
<rect x="141" y="227" width="6" height="4" fill="#cae11f"/>
<rect x="147" y="227" width="5" height="4" fill="#21a685"/>
<rect x="152" y="227" width="35" height="4" fill="#63cb5f"/>
</g>
<path d="M47.34 368.20v-5.50M47.34 227.30v5.50M44.50 365.00h5.50M186.60 365.00h-5.50M75.76 368.20v-5.50M75.76 227.30v5.50M44.50 336.58h5.50M186.60 336.58h-5.50M104.18 368.20v-5.50M104.18 227.30v5.50M44.50 308.16h5.50M186.60 308.16h-5.50M132.60 368.20v-5.50M132.60 227.30v5.50M44.50 279.74h5.50M186.60 279.74h-5.50M161.02 368.20v-5.50M161.02 227.30v5.50M44.50 251.32h5.50M186.60 251.32h-5.50" stroke="#000" stroke-width="1.0" fill="none"/>
<rect x="44.50" y="227.30" width="142.10" height="140.90" fill="none" stroke="#000" stroke-width="1.4"/>
<text x="47.34" y="387.80" font-size="17.5" text-anchor="middle">0</text>
<text x="37.00" y="370.20" font-size="17.5" text-anchor="end">0</text>
<text x="75.76" y="387.80" font-size="17.5" text-anchor="middle">5</text>
<text x="37.00" y="341.78" font-size="17.5" text-anchor="end">5</text>
<text x="104.18" y="387.80" font-size="17.5" text-anchor="middle">10</text>
<text x="37.00" y="313.36" font-size="17.5" text-anchor="end">10</text>
<text x="132.60" y="387.80" font-size="17.5" text-anchor="middle">15</text>
<text x="37.00" y="284.94" font-size="17.5" text-anchor="end">15</text>
<text x="161.02" y="387.80" font-size="17.5" text-anchor="middle">20</text>
<text x="37.00" y="256.52" font-size="17.5" text-anchor="end">20</text>
<text x="115.15" y="219.50" font-size="21.0" text-anchor="middle" letter-spacing="1.10">f105w</text>
<g shape-rendering="crispEdges">
<rect x="244" y="362" width="6" height="6" fill="#63cb5f"/>
<rect x="250" y="362" width="5" height="6" fill="#1f958b"/>
<rect x="255" y="362" width="6" height="6" fill="#44bf70"/>
<rect x="261" y="362" width="12" height="6" fill="#63cb5f"/>
<rect x="273" y="362" width="11" height="6" fill="#21a685"/>
<rect x="284" y="362" width="6" height="6" fill="#95d840"/>
<rect x="290" y="362" width="5" height="6" fill="#f1e51d"/>
<rect x="295" y="362" width="6" height="6" fill="#95d840"/>
<rect x="301" y="362" width="6" height="6" fill="#63cb5f"/>
<rect x="307" y="362" width="5" height="6" fill="#95d840"/>
<rect x="312" y="362" width="6" height="6" fill="#f1e51d"/>
<rect x="318" y="362" width="6" height="6" fill="#95d840"/>
<rect x="324" y="362" width="5" height="6" fill="#21a685"/>
<rect x="329" y="362" width="6" height="6" fill="#44bf70"/>
<rect x="335" y="362" width="11" height="6" fill="#63cb5f"/>
<rect x="346" y="362" width="6" height="6" fill="#21a685"/>
<rect x="352" y="362" width="6" height="6" fill="#95d840"/>
<rect x="358" y="362" width="5" height="6" fill="#63cb5f"/>
<rect x="363" y="362" width="6" height="6" fill="#21a685"/>
<rect x="369" y="362" width="6" height="6" fill="#1f958b"/>
<rect x="375" y="362" width="11" height="6" fill="#95d840"/>
<rect x="244" y="356" width="6" height="6" fill="#63cb5f"/>
<rect x="250" y="356" width="5" height="6" fill="#95d840"/>
<rect x="255" y="356" width="23" height="6" fill="#63cb5f"/>
<rect x="278" y="356" width="12" height="6" fill="#cae11f"/>
<rect x="290" y="356" width="5" height="6" fill="#f1e51d"/>
<rect x="295" y="356" width="6" height="6" fill="#cae11f"/>
<rect x="301" y="356" width="6" height="6" fill="#21a685"/>
<rect x="307" y="356" width="5" height="6" fill="#95d840"/>
<rect x="312" y="356" width="6" height="6" fill="#cae11f"/>
<rect x="318" y="356" width="6" height="6" fill="#95d840"/>
<rect x="324" y="356" width="5" height="6" fill="#21a685"/>
<rect x="329" y="356" width="6" height="6" fill="#287d8e"/>
<rect x="335" y="356" width="6" height="6" fill="#440154"/>
<rect x="341" y="356" width="5" height="6" fill="#287d8e"/>
<rect x="346" y="356" width="29" height="6" fill="#63cb5f"/>
<rect x="375" y="356" width="11" height="6" fill="#95d840"/>
<rect x="244" y="351" width="6" height="5" fill="#f1e51d"/>
<rect x="250" y="351" width="5" height="5" fill="#cae11f"/>
<rect x="255" y="351" width="6" height="5" fill="#95d840"/>
<rect x="261" y="351" width="6" height="5" fill="#63cb5f"/>
<rect x="267" y="351" width="6" height="5" fill="#21a685"/>
<rect x="273" y="351" width="5" height="5" fill="#63cb5f"/>
<rect x="278" y="351" width="6" height="5" fill="#cae11f"/>
<rect x="284" y="351" width="6" height="5" fill="#95d840"/>
<rect x="290" y="351" width="5" height="5" fill="#63cb5f"/>
<rect x="295" y="351" width="12" height="5" fill="#21a685"/>
<rect x="307" y="351" width="11" height="5" fill="#63cb5f"/>
<rect x="318" y="351" width="6" height="5" fill="#44bf70"/>
<rect x="324" y="351" width="5" height="5" fill="#63cb5f"/>
<rect x="329" y="351" width="6" height="5" fill="#21a685"/>
<rect x="335" y="351" width="6" height="5" fill="#287d8e"/>
<rect x="341" y="351" width="11" height="5" fill="#21a685"/>
<rect x="352" y="351" width="6" height="5" fill="#63cb5f"/>
<rect x="358" y="351" width="5" height="5" fill="#21a685"/>
<rect x="363" y="351" width="6" height="5" fill="#440154"/>
<rect x="369" y="351" width="6" height="5" fill="#21a685"/>
<rect x="375" y="351" width="11" height="5" fill="#95d840"/>
<rect x="244" y="345" width="6" height="6" fill="#cae11f"/>
<rect x="250" y="345" width="5" height="6" fill="#63cb5f"/>
<rect x="255" y="345" width="6" height="6" fill="#21a685"/>
<rect x="261" y="345" width="6" height="6" fill="#44bf70"/>
<rect x="267" y="345" width="6" height="6" fill="#21a685"/>
<rect x="273" y="345" width="5" height="6" fill="#63cb5f"/>
<rect x="278" y="345" width="6" height="6" fill="#cae11f"/>
<rect x="284" y="345" width="11" height="6" fill="#63cb5f"/>
<rect x="295" y="345" width="6" height="6" fill="#21a685"/>
<rect x="301" y="345" width="6" height="6" fill="#63cb5f"/>
<rect x="307" y="345" width="5" height="6" fill="#44bf70"/>
<rect x="312" y="345" width="6" height="6" fill="#1f958b"/>
<rect x="318" y="345" width="6" height="6" fill="#21a685"/>
<rect x="324" y="345" width="5" height="6" fill="#287d8e"/>
<rect x="329" y="345" width="12" height="6" fill="#63cb5f"/>
<rect x="341" y="345" width="17" height="6" fill="#21a685"/>
<rect x="358" y="345" width="5" height="6" fill="#481d6f"/>
<rect x="363" y="345" width="6" height="6" fill="#440154"/>
<rect x="369" y="345" width="6" height="6" fill="#3a548c"/>
<rect x="375" y="345" width="6" height="6" fill="#63cb5f"/>
<rect x="381" y="345" width="5" height="6" fill="#44bf70"/>
<rect x="244" y="339" width="6" height="6" fill="#44bf70"/>
<rect x="250" y="339" width="5" height="6" fill="#21a685"/>
<rect x="255" y="339" width="6" height="6" fill="#1f958b"/>
<rect x="261" y="339" width="6" height="6" fill="#21a685"/>
<rect x="267" y="339" width="6" height="6" fill="#95d840"/>
<rect x="273" y="339" width="5" height="6" fill="#cae11f"/>
<rect x="278" y="339" width="6" height="6" fill="#f1e51d"/>
<rect x="284" y="339" width="6" height="6" fill="#95d840"/>
<rect x="290" y="339" width="5" height="6" fill="#44bf70"/>
<rect x="295" y="339" width="6" height="6" fill="#287d8e"/>
<rect x="301" y="339" width="11" height="6" fill="#95d840"/>
<rect x="312" y="339" width="6" height="6" fill="#21a685"/>
<rect x="318" y="339" width="11" height="6" fill="#440154"/>
<rect x="329" y="339" width="6" height="6" fill="#21a685"/>
<rect x="335" y="339" width="6" height="6" fill="#63cb5f"/>
<rect x="341" y="339" width="5" height="6" fill="#44bf70"/>
<rect x="346" y="339" width="6" height="6" fill="#3a548c"/>
<rect x="352" y="339" width="11" height="6" fill="#287d8e"/>
<rect x="363" y="339" width="6" height="6" fill="#1f958b"/>
<rect x="369" y="339" width="6" height="6" fill="#95d840"/>
<rect x="375" y="339" width="11" height="6" fill="#63cb5f"/>
<rect x="244" y="334" width="6" height="5" fill="#63cb5f"/>
<rect x="250" y="334" width="5" height="5" fill="#44bf70"/>
<rect x="255" y="334" width="6" height="5" fill="#95d840"/>
<rect x="261" y="334" width="12" height="5" fill="#63cb5f"/>
<rect x="273" y="334" width="5" height="5" fill="#95d840"/>
<rect x="278" y="334" width="6" height="5" fill="#cae11f"/>
<rect x="284" y="334" width="6" height="5" fill="#95d840"/>
<rect x="290" y="334" width="5" height="5" fill="#44bf70"/>
<rect x="295" y="334" width="6" height="5" fill="#21a685"/>
<rect x="301" y="334" width="17" height="5" fill="#95d840"/>
<rect x="318" y="334" width="6" height="5" fill="#2f6c8e"/>
<rect x="324" y="334" width="5" height="5" fill="#440154"/>
<rect x="329" y="334" width="6" height="5" fill="#95d840"/>
<rect x="335" y="334" width="6" height="5" fill="#f1e51d"/>
<rect x="341" y="334" width="5" height="5" fill="#95d840"/>
<rect x="346" y="334" width="6" height="5" fill="#3a548c"/>
<rect x="352" y="334" width="6" height="5" fill="#21a685"/>
<rect x="358" y="334" width="5" height="5" fill="#cae11f"/>
<rect x="363" y="334" width="18" height="5" fill="#63cb5f"/>
<rect x="381" y="334" width="5" height="5" fill="#95d840"/>
<rect x="244" y="328" width="6" height="6" fill="#44bf70"/>
<rect x="250" y="328" width="5" height="6" fill="#21a685"/>
<rect x="255" y="328" width="6" height="6" fill="#44bf70"/>
<rect x="261" y="328" width="6" height="6" fill="#95d840"/>
<rect x="267" y="328" width="6" height="6" fill="#63cb5f"/>
<rect x="273" y="328" width="17" height="6" fill="#95d840"/>
<rect x="290" y="328" width="5" height="6" fill="#63cb5f"/>
<rect x="295" y="328" width="6" height="6" fill="#95d840"/>
<rect x="301" y="328" width="11" height="6" fill="#cae11f"/>
<rect x="312" y="328" width="6" height="6" fill="#95d840"/>
<rect x="318" y="328" width="6" height="6" fill="#44bf70"/>
<rect x="324" y="328" width="11" height="6" fill="#cae11f"/>
<rect x="335" y="328" width="6" height="6" fill="#f1e51d"/>
<rect x="341" y="328" width="5" height="6" fill="#cae11f"/>
<rect x="346" y="328" width="6" height="6" fill="#44bf70"/>
<rect x="352" y="328" width="34" height="6" fill="#95d840"/>
<rect x="244" y="322" width="6" height="6" fill="#95d840"/>
<rect x="250" y="322" width="5" height="6" fill="#21a685"/>
<rect x="255" y="322" width="6" height="6" fill="#44bf70"/>
<rect x="261" y="322" width="6" height="6" fill="#95d840"/>
<rect x="267" y="322" width="11" height="6" fill="#63cb5f"/>
<rect x="278" y="322" width="6" height="6" fill="#95d840"/>
<rect x="284" y="322" width="6" height="6" fill="#44bf70"/>
<rect x="290" y="322" width="5" height="6" fill="#21a685"/>
<rect x="295" y="322" width="12" height="6" fill="#95d840"/>
<rect x="307" y="322" width="5" height="6" fill="#63cb5f"/>
<rect x="312" y="322" width="6" height="6" fill="#21a685"/>
<rect x="318" y="322" width="6" height="6" fill="#44bf70"/>
<rect x="324" y="322" width="11" height="6" fill="#cae11f"/>
<rect x="335" y="322" width="6" height="6" fill="#63cb5f"/>
<rect x="341" y="322" width="5" height="6" fill="#cae11f"/>
<rect x="346" y="322" width="6" height="6" fill="#95d840"/>
<rect x="352" y="322" width="6" height="6" fill="#44bf70"/>
<rect x="358" y="322" width="11" height="6" fill="#95d840"/>
<rect x="369" y="322" width="6" height="6" fill="#cae11f"/>
<rect x="375" y="322" width="11" height="6" fill="#95d840"/>
<rect x="244" y="317" width="23" height="5" fill="#95d840"/>
<rect x="267" y="317" width="11" height="5" fill="#63cb5f"/>
<rect x="278" y="317" width="6" height="5" fill="#44bf70"/>
<rect x="284" y="317" width="6" height="5" fill="#95d840"/>
<rect x="290" y="317" width="11" height="5" fill="#63cb5f"/>
<rect x="301" y="317" width="6" height="5" fill="#95d840"/>
<rect x="307" y="317" width="5" height="5" fill="#44bf70"/>
<rect x="312" y="317" width="6" height="5" fill="#21a685"/>
<rect x="318" y="317" width="6" height="5" fill="#44bf70"/>
<rect x="324" y="317" width="5" height="5" fill="#cae11f"/>
<rect x="329" y="317" width="6" height="5" fill="#95d840"/>
<rect x="335" y="317" width="6" height="5" fill="#63cb5f"/>
<rect x="341" y="317" width="5" height="5" fill="#cae11f"/>
<rect x="346" y="317" width="6" height="5" fill="#95d840"/>
<rect x="352" y="317" width="6" height="5" fill="#63cb5f"/>
<rect x="358" y="317" width="17" height="5" fill="#95d840"/>
<rect x="375" y="317" width="11" height="5" fill="#cae11f"/>
<rect x="244" y="311" width="6" height="6" fill="#95d840"/>
<rect x="250" y="311" width="5" height="6" fill="#63cb5f"/>
<rect x="255" y="311" width="6" height="6" fill="#95d840"/>
<rect x="261" y="311" width="6" height="6" fill="#63cb5f"/>
<rect x="267" y="311" width="17" height="6" fill="#44bf70"/>
<rect x="284" y="311" width="11" height="6" fill="#63cb5f"/>
<rect x="295" y="311" width="6" height="6" fill="#44bf70"/>
<rect x="301" y="311" width="11" height="6" fill="#95d840"/>
<rect x="312" y="311" width="6" height="6" fill="#63cb5f"/>
<rect x="318" y="311" width="11" height="6" fill="#f1e51d"/>
<rect x="329" y="311" width="12" height="6" fill="#95d840"/>
<rect x="341" y="311" width="5" height="6" fill="#63cb5f"/>
<rect x="346" y="311" width="12" height="6" fill="#95d840"/>
<rect x="358" y="311" width="11" height="6" fill="#63cb5f"/>
<rect x="369" y="311" width="6" height="6" fill="#44bf70"/>
<rect x="375" y="311" width="6" height="6" fill="#95d840"/>
<rect x="381" y="311" width="5" height="6" fill="#cae11f"/>
<rect x="244" y="305" width="11" height="6" fill="#95d840"/>
<rect x="255" y="305" width="23" height="6" fill="#63cb5f"/>
<rect x="278" y="305" width="6" height="6" fill="#95d840"/>
<rect x="284" y="305" width="6" height="6" fill="#63cb5f"/>
<rect x="290" y="305" width="5" height="6" fill="#95d840"/>
<rect x="295" y="305" width="6" height="6" fill="#44bf70"/>
<rect x="301" y="305" width="6" height="6" fill="#21a685"/>
<rect x="307" y="305" width="5" height="6" fill="#95d840"/>
<rect x="312" y="305" width="6" height="6" fill="#63cb5f"/>
<rect x="318" y="305" width="11" height="6" fill="#f1e51d"/>
<rect x="329" y="305" width="6" height="6" fill="#95d840"/>
<rect x="335" y="305" width="6" height="6" fill="#cae11f"/>
<rect x="341" y="305" width="22" height="6" fill="#63cb5f"/>
<rect x="363" y="305" width="12" height="6" fill="#95d840"/>
<rect x="375" y="305" width="11" height="6" fill="#44bf70"/>
<rect x="244" y="300" width="6" height="5" fill="#63cb5f"/>
<rect x="250" y="300" width="11" height="5" fill="#95d840"/>
<rect x="261" y="300" width="17" height="5" fill="#63cb5f"/>
<rect x="278" y="300" width="6" height="5" fill="#95d840"/>
<rect x="284" y="300" width="6" height="5" fill="#63cb5f"/>
<rect x="290" y="300" width="5" height="5" fill="#cae11f"/>
<rect x="295" y="300" width="6" height="5" fill="#63cb5f"/>
<rect x="301" y="300" width="6" height="5" fill="#21a685"/>
<rect x="307" y="300" width="5" height="5" fill="#63cb5f"/>
<rect x="312" y="300" width="6" height="5" fill="#95d840"/>
<rect x="318" y="300" width="6" height="5" fill="#cae11f"/>
<rect x="324" y="300" width="11" height="5" fill="#63cb5f"/>
<rect x="335" y="300" width="23" height="5" fill="#95d840"/>
<rect x="358" y="300" width="11" height="5" fill="#63cb5f"/>
<rect x="369" y="300" width="12" height="5" fill="#cae11f"/>
<rect x="381" y="300" width="5" height="5" fill="#63cb5f"/>
<rect x="244" y="294" width="6" height="6" fill="#21a685"/>
<rect x="250" y="294" width="5" height="6" fill="#95d840"/>
<rect x="255" y="294" width="18" height="6" fill="#63cb5f"/>
<rect x="273" y="294" width="5" height="6" fill="#44bf70"/>
<rect x="278" y="294" width="6" height="6" fill="#95d840"/>
<rect x="284" y="294" width="11" height="6" fill="#f1e51d"/>
<rect x="295" y="294" width="6" height="6" fill="#cae11f"/>
<rect x="301" y="294" width="6" height="6" fill="#44bf70"/>
<rect x="307" y="294" width="17" height="6" fill="#cae11f"/>
<rect x="324" y="294" width="17" height="6" fill="#63cb5f"/>
<rect x="341" y="294" width="17" height="6" fill="#95d840"/>
<rect x="358" y="294" width="5" height="6" fill="#1f958b"/>
<rect x="363" y="294" width="6" height="6" fill="#44bf70"/>
<rect x="369" y="294" width="12" height="6" fill="#95d840"/>
<rect x="381" y="294" width="5" height="6" fill="#63cb5f"/>
<rect x="244" y="288" width="6" height="6" fill="#21a685"/>
<rect x="250" y="288" width="11" height="6" fill="#63cb5f"/>
<rect x="261" y="288" width="6" height="6" fill="#44bf70"/>
<rect x="267" y="288" width="6" height="6" fill="#95d840"/>
<rect x="273" y="288" width="11" height="6" fill="#63cb5f"/>
<rect x="284" y="288" width="11" height="6" fill="#cae11f"/>
<rect x="295" y="288" width="6" height="6" fill="#287d8e"/>
<rect x="301" y="288" width="6" height="6" fill="#21a685"/>
<rect x="307" y="288" width="5" height="6" fill="#95d840"/>
<rect x="312" y="288" width="6" height="6" fill="#cae11f"/>
<rect x="318" y="288" width="6" height="6" fill="#44bf70"/>
<rect x="324" y="288" width="5" height="6" fill="#2f6c8e"/>
<rect x="329" y="288" width="12" height="6" fill="#63cb5f"/>
<rect x="341" y="288" width="5" height="6" fill="#44bf70"/>
<rect x="346" y="288" width="12" height="6" fill="#95d840"/>
<rect x="358" y="288" width="5" height="6" fill="#21a685"/>
<rect x="363" y="288" width="12" height="6" fill="#1f958b"/>
<rect x="375" y="288" width="11" height="6" fill="#21a685"/>
<rect x="244" y="283" width="11" height="5" fill="#44bf70"/>
<rect x="255" y="283" width="6" height="5" fill="#95d840"/>
<rect x="261" y="283" width="12" height="5" fill="#cae11f"/>
<rect x="273" y="283" width="5" height="5" fill="#95d840"/>
<rect x="278" y="283" width="6" height="5" fill="#63cb5f"/>
<rect x="284" y="283" width="6" height="5" fill="#44bf70"/>
<rect x="290" y="283" width="5" height="5" fill="#95d840"/>
<rect x="295" y="283" width="6" height="5" fill="#63cb5f"/>
<rect x="301" y="283" width="6" height="5" fill="#1f958b"/>
<rect x="307" y="283" width="5" height="5" fill="#63cb5f"/>
<rect x="312" y="283" width="12" height="5" fill="#21a685"/>
<rect x="324" y="283" width="5" height="5" fill="#287d8e"/>
<rect x="329" y="283" width="6" height="5" fill="#63cb5f"/>
<rect x="335" y="283" width="6" height="5" fill="#44bf70"/>
<rect x="341" y="283" width="5" height="5" fill="#21a685"/>
<rect x="346" y="283" width="6" height="5" fill="#1f958b"/>
<rect x="352" y="283" width="6" height="5" fill="#95d840"/>
<rect x="358" y="283" width="5" height="5" fill="#63cb5f"/>
<rect x="363" y="283" width="18" height="5" fill="#1f958b"/>
<rect x="381" y="283" width="5" height="5" fill="#287d8e"/>
<rect x="244" y="277" width="6" height="6" fill="#21a685"/>
<rect x="250" y="277" width="23" height="6" fill="#cae11f"/>
<rect x="273" y="277" width="5" height="6" fill="#63cb5f"/>
<rect x="278" y="277" width="6" height="6" fill="#95d840"/>
<rect x="284" y="277" width="6" height="6" fill="#63cb5f"/>
<rect x="290" y="277" width="17" height="6" fill="#95d840"/>
<rect x="307" y="277" width="11" height="6" fill="#63cb5f"/>
<rect x="318" y="277" width="6" height="6" fill="#21a685"/>
<rect x="324" y="277" width="5" height="6" fill="#95d840"/>
<rect x="329" y="277" width="12" height="6" fill="#cae11f"/>
<rect x="341" y="277" width="5" height="6" fill="#44bf70"/>
<rect x="346" y="277" width="12" height="6" fill="#63cb5f"/>
<rect x="358" y="277" width="11" height="6" fill="#21a685"/>
<rect x="369" y="277" width="6" height="6" fill="#95d840"/>
<rect x="375" y="277" width="6" height="6" fill="#cae11f"/>
<rect x="381" y="277" width="5" height="6" fill="#21a685"/>
<rect x="244" y="271" width="6" height="6" fill="#21a685"/>
<rect x="250" y="271" width="11" height="6" fill="#95d840"/>
<rect x="261" y="271" width="17" height="6" fill="#63cb5f"/>
<rect x="278" y="271" width="6" height="6" fill="#95d840"/>
<rect x="284" y="271" width="6" height="6" fill="#cae11f"/>
<rect x="290" y="271" width="5" height="6" fill="#f1e51d"/>
<rect x="295" y="271" width="12" height="6" fill="#95d840"/>
<rect x="307" y="271" width="11" height="6" fill="#63cb5f"/>
<rect x="318" y="271" width="6" height="6" fill="#21a685"/>
<rect x="324" y="271" width="5" height="6" fill="#44bf70"/>
<rect x="329" y="271" width="12" height="6" fill="#63cb5f"/>
<rect x="341" y="271" width="5" height="6" fill="#44bf70"/>
<rect x="346" y="271" width="17" height="6" fill="#63cb5f"/>
<rect x="363" y="271" width="6" height="6" fill="#cae11f"/>
<rect x="369" y="271" width="6" height="6" fill="#f1e51d"/>
<rect x="375" y="271" width="6" height="6" fill="#cae11f"/>
<rect x="381" y="271" width="5" height="6" fill="#63cb5f"/>
<rect x="244" y="266" width="6" height="5" fill="#21a685"/>
<rect x="250" y="266" width="5" height="5" fill="#95d840"/>
<rect x="255" y="266" width="6" height="5" fill="#cae11f"/>
<rect x="261" y="266" width="12" height="5" fill="#95d840"/>
<rect x="273" y="266" width="5" height="5" fill="#63cb5f"/>
<rect x="278" y="266" width="6" height="5" fill="#287d8e"/>
<rect x="284" y="266" width="6" height="5" fill="#cae11f"/>
<rect x="290" y="266" width="5" height="5" fill="#f1e51d"/>
<rect x="295" y="266" width="6" height="5" fill="#cae11f"/>
<rect x="301" y="266" width="17" height="5" fill="#63cb5f"/>
<rect x="318" y="266" width="6" height="5" fill="#44bf70"/>
<rect x="324" y="266" width="5" height="5" fill="#1f958b"/>
<rect x="329" y="266" width="6" height="5" fill="#44bf70"/>
<rect x="335" y="266" width="6" height="5" fill="#63cb5f"/>
<rect x="341" y="266" width="5" height="5" fill="#21a685"/>
<rect x="346" y="266" width="12" height="5" fill="#44bf70"/>
<rect x="358" y="266" width="5" height="5" fill="#63cb5f"/>
<rect x="363" y="266" width="6" height="5" fill="#95d840"/>
<rect x="369" y="266" width="12" height="5" fill="#f1e51d"/>
<rect x="381" y="266" width="5" height="5" fill="#cae11f"/>
<rect x="244" y="260" width="6" height="6" fill="#f1e51d"/>
<rect x="250" y="260" width="5" height="6" fill="#95d840"/>
<rect x="255" y="260" width="12" height="6" fill="#cae11f"/>
<rect x="267" y="260" width="6" height="6" fill="#95d840"/>
<rect x="273" y="260" width="5" height="6" fill="#cae11f"/>
<rect x="278" y="260" width="6" height="6" fill="#21a685"/>
<rect x="284" y="260" width="6" height="6" fill="#63cb5f"/>
<rect x="290" y="260" width="5" height="6" fill="#95d840"/>
<rect x="295" y="260" width="6" height="6" fill="#63cb5f"/>
<rect x="301" y="260" width="11" height="6" fill="#44bf70"/>
<rect x="312" y="260" width="6" height="6" fill="#95d840"/>
<rect x="318" y="260" width="6" height="6" fill="#440154"/>
<rect x="324" y="260" width="5" height="6" fill="#481d6f"/>
<rect x="329" y="260" width="6" height="6" fill="#21a685"/>
<rect x="335" y="260" width="6" height="6" fill="#44bf70"/>
<rect x="341" y="260" width="5" height="6" fill="#2f6c8e"/>
<rect x="346" y="260" width="6" height="6" fill="#1f958b"/>
<rect x="352" y="260" width="6" height="6" fill="#21a685"/>
<rect x="358" y="260" width="5" height="6" fill="#44bf70"/>
<rect x="363" y="260" width="6" height="6" fill="#95d840"/>
<rect x="369" y="260" width="6" height="6" fill="#cae11f"/>
<rect x="375" y="260" width="11" height="6" fill="#f1e51d"/>
<rect x="244" y="254" width="6" height="6" fill="#f1e51d"/>
<rect x="250" y="254" width="5" height="6" fill="#cae11f"/>
<rect x="255" y="254" width="6" height="6" fill="#95d840"/>
<rect x="261" y="254" width="6" height="6" fill="#cae11f"/>
<rect x="267" y="254" width="6" height="6" fill="#95d840"/>
<rect x="273" y="254" width="5" height="6" fill="#cae11f"/>
<rect x="278" y="254" width="23" height="6" fill="#95d840"/>
<rect x="301" y="254" width="6" height="6" fill="#21a685"/>
<rect x="307" y="254" width="5" height="6" fill="#44bf70"/>
<rect x="312" y="254" width="6" height="6" fill="#95d840"/>
<rect x="318" y="254" width="6" height="6" fill="#1f958b"/>
<rect x="324" y="254" width="5" height="6" fill="#440154"/>
<rect x="329" y="254" width="17" height="6" fill="#1f958b"/>
<rect x="346" y="254" width="6" height="6" fill="#2f6c8e"/>
<rect x="352" y="254" width="6" height="6" fill="#63cb5f"/>
<rect x="358" y="254" width="5" height="6" fill="#cae11f"/>
<rect x="363" y="254" width="12" height="6" fill="#95d840"/>
<rect x="375" y="254" width="6" height="6" fill="#f1e51d"/>
<rect x="381" y="254" width="5" height="6" fill="#21a685"/>
<rect x="244" y="248" width="6" height="6" fill="#cae11f"/>
<rect x="250" y="248" width="5" height="6" fill="#21a685"/>
<rect x="255" y="248" width="6" height="6" fill="#63cb5f"/>
<rect x="261" y="248" width="6" height="6" fill="#cae11f"/>
<rect x="267" y="248" width="6" height="6" fill="#95d840"/>
<rect x="273" y="248" width="11" height="6" fill="#cae11f"/>
<rect x="284" y="248" width="6" height="6" fill="#95d840"/>
<rect x="290" y="248" width="5" height="6" fill="#63cb5f"/>
<rect x="295" y="248" width="6" height="6" fill="#2f6c8e"/>
<rect x="301" y="248" width="11" height="6" fill="#21a685"/>
<rect x="312" y="248" width="17" height="6" fill="#63cb5f"/>
<rect x="329" y="248" width="6" height="6" fill="#44bf70"/>
<rect x="335" y="248" width="6" height="6" fill="#21a685"/>
<rect x="341" y="248" width="5" height="6" fill="#1f958b"/>
<rect x="346" y="248" width="6" height="6" fill="#63cb5f"/>
<rect x="352" y="248" width="11" height="6" fill="#cae11f"/>
<rect x="363" y="248" width="6" height="6" fill="#95d840"/>
<rect x="369" y="248" width="12" height="6" fill="#21a685"/>
<rect x="381" y="248" width="5" height="6" fill="#287d8e"/>
<rect x="244" y="243" width="6" height="5" fill="#95d840"/>
<rect x="250" y="243" width="5" height="5" fill="#21a685"/>
<rect x="255" y="243" width="6" height="5" fill="#63cb5f"/>
<rect x="261" y="243" width="6" height="5" fill="#cae11f"/>
<rect x="267" y="243" width="17" height="5" fill="#95d840"/>
<rect x="284" y="243" width="6" height="5" fill="#44bf70"/>
<rect x="290" y="243" width="5" height="5" fill="#21a685"/>
<rect x="295" y="243" width="6" height="5" fill="#3a548c"/>
<rect x="301" y="243" width="6" height="5" fill="#287d8e"/>
<rect x="307" y="243" width="5" height="5" fill="#95d840"/>
<rect x="312" y="243" width="6" height="5" fill="#63cb5f"/>
<rect x="318" y="243" width="6" height="5" fill="#44bf70"/>
<rect x="324" y="243" width="11" height="5" fill="#95d840"/>
<rect x="335" y="243" width="6" height="5" fill="#287d8e"/>
<rect x="341" y="243" width="5" height="5" fill="#481d6f"/>
<rect x="346" y="243" width="6" height="5" fill="#287d8e"/>
<rect x="352" y="243" width="6" height="5" fill="#95d840"/>
<rect x="358" y="243" width="5" height="5" fill="#cae11f"/>
<rect x="363" y="243" width="6" height="5" fill="#95d840"/>
<rect x="369" y="243" width="6" height="5" fill="#44bf70"/>
<rect x="375" y="243" width="6" height="5" fill="#21a685"/>
<rect x="381" y="243" width="5" height="5" fill="#63cb5f"/>
<rect x="244" y="237" width="6" height="6" fill="#95d840"/>
<rect x="250" y="237" width="5" height="6" fill="#63cb5f"/>
<rect x="255" y="237" width="6" height="6" fill="#95d840"/>
<rect x="261" y="237" width="6" height="6" fill="#cae11f"/>
<rect x="267" y="237" width="11" height="6" fill="#95d840"/>
<rect x="278" y="237" width="12" height="6" fill="#21a685"/>
<rect x="290" y="237" width="5" height="6" fill="#63cb5f"/>
<rect x="295" y="237" width="6" height="6" fill="#287d8e"/>
<rect x="301" y="237" width="6" height="6" fill="#44bf70"/>
<rect x="307" y="237" width="11" height="6" fill="#95d840"/>
<rect x="318" y="237" width="6" height="6" fill="#63cb5f"/>
<rect x="324" y="237" width="11" height="6" fill="#95d840"/>
<rect x="335" y="237" width="6" height="6" fill="#63cb5f"/>
<rect x="341" y="237" width="5" height="6" fill="#481d6f"/>
<rect x="346" y="237" width="6" height="6" fill="#1f958b"/>
<rect x="352" y="237" width="6" height="6" fill="#287d8e"/>
<rect x="358" y="237" width="5" height="6" fill="#95d840"/>
<rect x="363" y="237" width="6" height="6" fill="#cae11f"/>
<rect x="369" y="237" width="6" height="6" fill="#63cb5f"/>
<rect x="375" y="237" width="6" height="6" fill="#95d840"/>
<rect x="381" y="237" width="5" height="6" fill="#63cb5f"/>
<rect x="244" y="231" width="6" height="6" fill="#95d840"/>
<rect x="250" y="231" width="23" height="6" fill="#63cb5f"/>
<rect x="273" y="231" width="5" height="6" fill="#cae11f"/>
<rect x="278" y="231" width="6" height="6" fill="#95d840"/>
<rect x="284" y="231" width="17" height="6" fill="#63cb5f"/>
<rect x="301" y="231" width="6" height="6" fill="#21a685"/>
<rect x="307" y="231" width="5" height="6" fill="#44bf70"/>
<rect x="312" y="231" width="6" height="6" fill="#21a685"/>
<rect x="318" y="231" width="17" height="6" fill="#95d840"/>
<rect x="335" y="231" width="11" height="6" fill="#63cb5f"/>
<rect x="346" y="231" width="6" height="6" fill="#21a685"/>
<rect x="352" y="231" width="6" height="6" fill="#287d8e"/>
<rect x="358" y="231" width="5" height="6" fill="#63cb5f"/>
<rect x="363" y="231" width="12" height="6" fill="#21a685"/>
<rect x="375" y="231" width="11" height="6" fill="#63cb5f"/>
<rect x="244" y="227" width="11" height="4" fill="#cae11f"/>
<rect x="255" y="227" width="12" height="4" fill="#95d840"/>
<rect x="267" y="227" width="6" height="4" fill="#63cb5f"/>
<rect x="273" y="227" width="39" height="4" fill="#95d840"/>
<rect x="312" y="227" width="6" height="4" fill="#21a685"/>
<rect x="318" y="227" width="11" height="4" fill="#63cb5f"/>
<rect x="329" y="227" width="6" height="4" fill="#95d840"/>
<rect x="335" y="227" width="11" height="4" fill="#63cb5f"/>
<rect x="346" y="227" width="6" height="4" fill="#44bf70"/>
<rect x="352" y="227" width="6" height="4" fill="#cae11f"/>
<rect x="358" y="227" width="5" height="4" fill="#63cb5f"/>
<rect x="363" y="227" width="6" height="4" fill="#44bf70"/>
<rect x="369" y="227" width="6" height="4" fill="#21a685"/>
<rect x="375" y="227" width="6" height="4" fill="#95d840"/>
<rect x="381" y="227" width="5" height="4" fill="#21a685"/>
</g>
<path d="M246.94 368.20v-5.50M246.94 227.30v5.50M244.10 365.00h5.50M386.20 365.00h-5.50M275.36 368.20v-5.50M275.36 227.30v5.50M244.10 336.58h5.50M386.20 336.58h-5.50M303.78 368.20v-5.50M303.78 227.30v5.50M244.10 308.16h5.50M386.20 308.16h-5.50M332.20 368.20v-5.50M332.20 227.30v5.50M244.10 279.74h5.50M386.20 279.74h-5.50M360.62 368.20v-5.50M360.62 227.30v5.50M244.10 251.32h5.50M386.20 251.32h-5.50" stroke="#000" stroke-width="1.0" fill="none"/>
<rect x="244.10" y="227.30" width="142.10" height="140.90" fill="none" stroke="#000" stroke-width="1.4"/>
<text x="246.94" y="387.80" font-size="17.5" text-anchor="middle">0</text>
<text x="236.60" y="370.20" font-size="17.5" text-anchor="end">0</text>
<text x="275.36" y="387.80" font-size="17.5" text-anchor="middle">5</text>
<text x="236.60" y="341.78" font-size="17.5" text-anchor="end">5</text>
<text x="303.78" y="387.80" font-size="17.5" text-anchor="middle">10</text>
<text x="236.60" y="313.36" font-size="17.5" text-anchor="end">10</text>
<text x="332.20" y="387.80" font-size="17.5" text-anchor="middle">15</text>
<text x="236.60" y="284.94" font-size="17.5" text-anchor="end">15</text>
<text x="360.62" y="387.80" font-size="17.5" text-anchor="middle">20</text>
<text x="236.60" y="256.52" font-size="17.5" text-anchor="end">20</text>
<text x="314.75" y="219.50" font-size="21.0" text-anchor="middle" letter-spacing="1.10">f125w</text>
<g shape-rendering="crispEdges">
<rect x="444" y="362" width="5" height="6" fill="#21a685"/>
<rect x="449" y="362" width="17" height="6" fill="#95d840"/>
<rect x="466" y="362" width="6" height="6" fill="#21a685"/>
<rect x="472" y="362" width="11" height="6" fill="#63cb5f"/>
<rect x="483" y="362" width="6" height="6" fill="#3a548c"/>
<rect x="489" y="362" width="6" height="6" fill="#287d8e"/>
<rect x="495" y="362" width="6" height="6" fill="#3a548c"/>
<rect x="501" y="362" width="5" height="6" fill="#1f958b"/>
<rect x="506" y="362" width="6" height="6" fill="#95d840"/>
<rect x="512" y="362" width="6" height="6" fill="#cae11f"/>
<rect x="518" y="362" width="5" height="6" fill="#95d840"/>
<rect x="523" y="362" width="6" height="6" fill="#63cb5f"/>
<rect x="529" y="362" width="11" height="6" fill="#21a685"/>
<rect x="540" y="362" width="12" height="6" fill="#95d840"/>
<rect x="552" y="362" width="5" height="6" fill="#63cb5f"/>
<rect x="557" y="362" width="6" height="6" fill="#1f958b"/>
<rect x="563" y="362" width="6" height="6" fill="#21a685"/>
<rect x="569" y="362" width="5" height="6" fill="#95d840"/>
<rect x="574" y="362" width="12" height="6" fill="#cae11f"/>
<rect x="444" y="356" width="5" height="6" fill="#287d8e"/>
<rect x="449" y="356" width="6" height="6" fill="#3a548c"/>
<rect x="455" y="356" width="6" height="6" fill="#1f958b"/>
<rect x="461" y="356" width="11" height="6" fill="#95d840"/>
<rect x="472" y="356" width="6" height="6" fill="#21a685"/>
<rect x="478" y="356" width="5" height="6" fill="#63cb5f"/>
<rect x="483" y="356" width="6" height="6" fill="#1f958b"/>
<rect x="489" y="356" width="6" height="6" fill="#287d8e"/>
<rect x="495" y="356" width="6" height="6" fill="#44bf70"/>
<rect x="501" y="356" width="5" height="6" fill="#95d840"/>
<rect x="506" y="356" width="6" height="6" fill="#cae11f"/>
<rect x="512" y="356" width="6" height="6" fill="#f1e51d"/>
<rect x="518" y="356" width="5" height="6" fill="#63cb5f"/>
<rect x="523" y="356" width="6" height="6" fill="#21a685"/>
<rect x="529" y="356" width="6" height="6" fill="#287d8e"/>
<rect x="535" y="356" width="5" height="6" fill="#1f958b"/>
<rect x="540" y="356" width="6" height="6" fill="#63cb5f"/>
<rect x="546" y="356" width="6" height="6" fill="#1f958b"/>
<rect x="552" y="356" width="5" height="6" fill="#287d8e"/>
<rect x="557" y="356" width="6" height="6" fill="#63cb5f"/>
<rect x="563" y="356" width="17" height="6" fill="#21a685"/>
<rect x="580" y="356" width="6" height="6" fill="#63cb5f"/>
<rect x="444" y="351" width="5" height="5" fill="#1f958b"/>
<rect x="449" y="351" width="6" height="5" fill="#3a548c"/>
<rect x="455" y="351" width="6" height="5" fill="#287d8e"/>
<rect x="461" y="351" width="5" height="5" fill="#21a685"/>
<rect x="466" y="351" width="6" height="5" fill="#63cb5f"/>
<rect x="472" y="351" width="6" height="5" fill="#44bf70"/>
<rect x="478" y="351" width="5" height="5" fill="#63cb5f"/>
<rect x="483" y="351" width="6" height="5" fill="#cae11f"/>
<rect x="489" y="351" width="6" height="5" fill="#95d840"/>
<rect x="495" y="351" width="11" height="5" fill="#63cb5f"/>
<rect x="506" y="351" width="6" height="5" fill="#95d840"/>
<rect x="512" y="351" width="6" height="5" fill="#287d8e"/>
<rect x="518" y="351" width="5" height="5" fill="#1f958b"/>
<rect x="523" y="351" width="6" height="5" fill="#44bf70"/>
<rect x="529" y="351" width="6" height="5" fill="#1f958b"/>
<rect x="535" y="351" width="5" height="5" fill="#287d8e"/>
<rect x="540" y="351" width="6" height="5" fill="#44bf70"/>
<rect x="546" y="351" width="6" height="5" fill="#21a685"/>
<rect x="552" y="351" width="5" height="5" fill="#287d8e"/>
<rect x="557" y="351" width="6" height="5" fill="#21a685"/>
<rect x="563" y="351" width="6" height="5" fill="#cae11f"/>
<rect x="569" y="351" width="5" height="5" fill="#95d840"/>
<rect x="574" y="351" width="6" height="5" fill="#44bf70"/>
<rect x="580" y="351" width="6" height="5" fill="#95d840"/>
<rect x="444" y="345" width="5" height="6" fill="#21a685"/>
<rect x="449" y="345" width="12" height="6" fill="#95d840"/>
<rect x="461" y="345" width="5" height="6" fill="#21a685"/>
<rect x="466" y="345" width="6" height="6" fill="#63cb5f"/>
<rect x="472" y="345" width="6" height="6" fill="#cae11f"/>
<rect x="478" y="345" width="11" height="6" fill="#f1e51d"/>
<rect x="489" y="345" width="6" height="6" fill="#cae11f"/>
<rect x="495" y="345" width="6" height="6" fill="#63cb5f"/>
<rect x="501" y="345" width="5" height="6" fill="#95d840"/>
<rect x="506" y="345" width="6" height="6" fill="#63cb5f"/>
<rect x="512" y="345" width="11" height="6" fill="#287d8e"/>
<rect x="523" y="345" width="12" height="6" fill="#2f6c8e"/>
<rect x="535" y="345" width="5" height="6" fill="#287d8e"/>
<rect x="540" y="345" width="6" height="6" fill="#21a685"/>
<rect x="546" y="345" width="6" height="6" fill="#63cb5f"/>
<rect x="552" y="345" width="5" height="6" fill="#44bf70"/>
<rect x="557" y="345" width="6" height="6" fill="#1f958b"/>
<rect x="563" y="345" width="6" height="6" fill="#63cb5f"/>
<rect x="569" y="345" width="5" height="6" fill="#95d840"/>
<rect x="574" y="345" width="6" height="6" fill="#cae11f"/>
<rect x="580" y="345" width="6" height="6" fill="#95d840"/>
<rect x="444" y="339" width="5" height="6" fill="#63cb5f"/>
<rect x="449" y="339" width="12" height="6" fill="#95d840"/>
<rect x="461" y="339" width="5" height="6" fill="#63cb5f"/>
<rect x="466" y="339" width="17" height="6" fill="#cae11f"/>
<rect x="483" y="339" width="6" height="6" fill="#f1e51d"/>
<rect x="489" y="339" width="6" height="6" fill="#63cb5f"/>
<rect x="495" y="339" width="6" height="6" fill="#1f958b"/>
<rect x="501" y="339" width="5" height="6" fill="#63cb5f"/>
<rect x="506" y="339" width="17" height="6" fill="#95d840"/>
<rect x="523" y="339" width="6" height="6" fill="#1f958b"/>
<rect x="529" y="339" width="6" height="6" fill="#3a548c"/>
<rect x="535" y="339" width="5" height="6" fill="#44bf70"/>
<rect x="540" y="339" width="12" height="6" fill="#cae11f"/>
<rect x="552" y="339" width="5" height="6" fill="#95d840"/>
<rect x="557" y="339" width="6" height="6" fill="#1f958b"/>
<rect x="563" y="339" width="6" height="6" fill="#21a685"/>
<rect x="569" y="339" width="5" height="6" fill="#1f958b"/>
<rect x="574" y="339" width="6" height="6" fill="#95d840"/>
<rect x="580" y="339" width="6" height="6" fill="#cae11f"/>
<rect x="444" y="334" width="5" height="5" fill="#21a685"/>
<rect x="449" y="334" width="6" height="5" fill="#95d840"/>
<rect x="455" y="334" width="11" height="5" fill="#63cb5f"/>
<rect x="466" y="334" width="17" height="5" fill="#95d840"/>
<rect x="483" y="334" width="6" height="5" fill="#f1e51d"/>
<rect x="489" y="334" width="6" height="5" fill="#95d840"/>
<rect x="495" y="334" width="6" height="5" fill="#21a685"/>
<rect x="501" y="334" width="11" height="5" fill="#cae11f"/>
<rect x="512" y="334" width="11" height="5" fill="#95d840"/>
<rect x="523" y="334" width="12" height="5" fill="#63cb5f"/>
<rect x="535" y="334" width="17" height="5" fill="#cae11f"/>
<rect x="552" y="334" width="5" height="5" fill="#95d840"/>
<rect x="557" y="334" width="6" height="5" fill="#21a685"/>
<rect x="563" y="334" width="6" height="5" fill="#63cb5f"/>
<rect x="569" y="334" width="5" height="5" fill="#21a685"/>
<rect x="574" y="334" width="12" height="5" fill="#95d840"/>
<rect x="444" y="328" width="5" height="6" fill="#287d8e"/>
<rect x="449" y="328" width="6" height="6" fill="#3a548c"/>
<rect x="455" y="328" width="6" height="6" fill="#21a685"/>
<rect x="461" y="328" width="5" height="6" fill="#63cb5f"/>
<rect x="466" y="328" width="6" height="6" fill="#95d840"/>
<rect x="472" y="328" width="6" height="6" fill="#63cb5f"/>
<rect x="478" y="328" width="5" height="6" fill="#44bf70"/>
<rect x="483" y="328" width="18" height="6" fill="#cae11f"/>
<rect x="501" y="328" width="11" height="6" fill="#f1e51d"/>
<rect x="512" y="328" width="6" height="6" fill="#cae11f"/>
<rect x="518" y="328" width="5" height="6" fill="#95d840"/>
<rect x="523" y="328" width="12" height="6" fill="#21a685"/>
<rect x="535" y="328" width="17" height="6" fill="#cae11f"/>
<rect x="552" y="328" width="5" height="6" fill="#95d840"/>
<rect x="557" y="328" width="12" height="6" fill="#63cb5f"/>
<rect x="569" y="328" width="11" height="6" fill="#44bf70"/>
<rect x="580" y="328" width="6" height="6" fill="#95d840"/>
<rect x="444" y="322" width="11" height="6" fill="#287d8e"/>
<rect x="455" y="322" width="6" height="6" fill="#1f958b"/>
<rect x="461" y="322" width="5" height="6" fill="#63cb5f"/>
<rect x="466" y="322" width="17" height="6" fill="#95d840"/>
<rect x="483" y="322" width="23" height="6" fill="#cae11f"/>
<rect x="506" y="322" width="6" height="6" fill="#95d840"/>
<rect x="512" y="322" width="11" height="6" fill="#cae11f"/>
<rect x="523" y="322" width="6" height="6" fill="#63cb5f"/>
<rect x="529" y="322" width="6" height="6" fill="#cae11f"/>
<rect x="535" y="322" width="5" height="6" fill="#f1e51d"/>
<rect x="540" y="322" width="17" height="6" fill="#95d840"/>
<rect x="557" y="322" width="12" height="6" fill="#cae11f"/>
<rect x="569" y="322" width="5" height="6" fill="#95d840"/>
<rect x="574" y="322" width="6" height="6" fill="#63cb5f"/>
<rect x="580" y="322" width="6" height="6" fill="#cae11f"/>
<rect x="444" y="317" width="5" height="5" fill="#63cb5f"/>
<rect x="449" y="317" width="6" height="5" fill="#95d840"/>
<rect x="455" y="317" width="11" height="5" fill="#1f958b"/>
<rect x="466" y="317" width="6" height="5" fill="#95d840"/>
<rect x="472" y="317" width="23" height="5" fill="#cae11f"/>
<rect x="495" y="317" width="6" height="5" fill="#f1e51d"/>
<rect x="501" y="317" width="28" height="5" fill="#cae11f"/>
<rect x="529" y="317" width="11" height="5" fill="#f1e51d"/>
<rect x="540" y="317" width="6" height="5" fill="#cae11f"/>
<rect x="546" y="317" width="11" height="5" fill="#63cb5f"/>
<rect x="557" y="317" width="6" height="5" fill="#95d840"/>
<rect x="563" y="317" width="6" height="5" fill="#cae11f"/>
<rect x="569" y="317" width="5" height="5" fill="#2f6c8e"/>
<rect x="574" y="317" width="6" height="5" fill="#440154"/>
<rect x="580" y="317" width="6" height="5" fill="#63cb5f"/>
<rect x="444" y="311" width="5" height="6" fill="#cae11f"/>
<rect x="449" y="311" width="6" height="6" fill="#95d840"/>
<rect x="455" y="311" width="6" height="6" fill="#21a685"/>
<rect x="461" y="311" width="5" height="6" fill="#63cb5f"/>
<rect x="466" y="311" width="17" height="6" fill="#cae11f"/>
<rect x="483" y="311" width="12" height="6" fill="#63cb5f"/>
<rect x="495" y="311" width="6" height="6" fill="#cae11f"/>
<rect x="501" y="311" width="5" height="6" fill="#f1e51d"/>
<rect x="506" y="311" width="12" height="6" fill="#cae11f"/>
<rect x="518" y="311" width="5" height="6" fill="#95d840"/>
<rect x="523" y="311" width="6" height="6" fill="#cae11f"/>
<rect x="529" y="311" width="6" height="6" fill="#f1e51d"/>
<rect x="535" y="311" width="28" height="6" fill="#95d840"/>
<rect x="563" y="311" width="6" height="6" fill="#44bf70"/>
<rect x="569" y="311" width="5" height="6" fill="#2f6c8e"/>
<rect x="574" y="311" width="6" height="6" fill="#440154"/>
<rect x="580" y="311" width="6" height="6" fill="#287d8e"/>
<rect x="444" y="305" width="5" height="6" fill="#95d840"/>
<rect x="449" y="305" width="6" height="6" fill="#cae11f"/>
<rect x="455" y="305" width="6" height="6" fill="#95d840"/>
<rect x="461" y="305" width="5" height="6" fill="#21a685"/>
<rect x="466" y="305" width="23" height="6" fill="#95d840"/>
<rect x="489" y="305" width="6" height="6" fill="#63cb5f"/>
<rect x="495" y="305" width="34" height="6" fill="#95d840"/>
<rect x="529" y="305" width="6" height="6" fill="#cae11f"/>
<rect x="535" y="305" width="5" height="6" fill="#95d840"/>
<rect x="540" y="305" width="6" height="6" fill="#63cb5f"/>
<rect x="546" y="305" width="6" height="6" fill="#95d840"/>
<rect x="552" y="305" width="5" height="6" fill="#cae11f"/>
<rect x="557" y="305" width="6" height="6" fill="#95d840"/>
<rect x="563" y="305" width="6" height="6" fill="#63cb5f"/>
<rect x="569" y="305" width="5" height="6" fill="#21a685"/>
<rect x="574" y="305" width="6" height="6" fill="#cae11f"/>
<rect x="580" y="305" width="6" height="6" fill="#63cb5f"/>
<rect x="444" y="300" width="5" height="5" fill="#44bf70"/>
<rect x="449" y="300" width="6" height="5" fill="#95d840"/>
<rect x="455" y="300" width="6" height="5" fill="#cae11f"/>
<rect x="461" y="300" width="5" height="5" fill="#63cb5f"/>
<rect x="466" y="300" width="6" height="5" fill="#95d840"/>
<rect x="472" y="300" width="6" height="5" fill="#63cb5f"/>
<rect x="478" y="300" width="11" height="5" fill="#95d840"/>
<rect x="489" y="300" width="6" height="5" fill="#63cb5f"/>
<rect x="495" y="300" width="6" height="5" fill="#21a685"/>
<rect x="501" y="300" width="5" height="5" fill="#63cb5f"/>
<rect x="506" y="300" width="12" height="5" fill="#95d840"/>
<rect x="518" y="300" width="11" height="5" fill="#63cb5f"/>
<rect x="529" y="300" width="11" height="5" fill="#95d840"/>
<rect x="540" y="300" width="17" height="5" fill="#cae11f"/>
<rect x="557" y="300" width="12" height="5" fill="#63cb5f"/>
<rect x="569" y="300" width="5" height="5" fill="#95d840"/>
<rect x="574" y="300" width="6" height="5" fill="#cae11f"/>
<rect x="580" y="300" width="6" height="5" fill="#95d840"/>
<rect x="444" y="294" width="5" height="6" fill="#44bf70"/>
<rect x="449" y="294" width="17" height="6" fill="#63cb5f"/>
<rect x="466" y="294" width="12" height="6" fill="#95d840"/>
<rect x="478" y="294" width="5" height="6" fill="#cae11f"/>
<rect x="483" y="294" width="6" height="6" fill="#95d840"/>
<rect x="489" y="294" width="6" height="6" fill="#63cb5f"/>
<rect x="495" y="294" width="6" height="6" fill="#21a685"/>
<rect x="501" y="294" width="5" height="6" fill="#cae11f"/>
<rect x="506" y="294" width="6" height="6" fill="#f1e51d"/>
<rect x="512" y="294" width="6" height="6" fill="#cae11f"/>
<rect x="518" y="294" width="5" height="6" fill="#95d840"/>
<rect x="523" y="294" width="12" height="6" fill="#63cb5f"/>
<rect x="535" y="294" width="5" height="6" fill="#95d840"/>
<rect x="540" y="294" width="12" height="6" fill="#cae11f"/>
<rect x="552" y="294" width="11" height="6" fill="#95d840"/>
<rect x="563" y="294" width="11" height="6" fill="#63cb5f"/>
<rect x="574" y="294" width="6" height="6" fill="#21a685"/>
<rect x="580" y="294" width="6" height="6" fill="#1f958b"/>
<rect x="444" y="288" width="5" height="6" fill="#95d840"/>
<rect x="449" y="288" width="12" height="6" fill="#44bf70"/>
<rect x="461" y="288" width="5" height="6" fill="#63cb5f"/>
<rect x="466" y="288" width="6" height="6" fill="#287d8e"/>
<rect x="472" y="288" width="6" height="6" fill="#1f958b"/>
<rect x="478" y="288" width="11" height="6" fill="#cae11f"/>
<rect x="489" y="288" width="6" height="6" fill="#63cb5f"/>
<rect x="495" y="288" width="6" height="6" fill="#cae11f"/>
<rect x="501" y="288" width="11" height="6" fill="#f1e51d"/>
<rect x="512" y="288" width="6" height="6" fill="#cae11f"/>
<rect x="518" y="288" width="5" height="6" fill="#21a685"/>
<rect x="523" y="288" width="6" height="6" fill="#44bf70"/>
<rect x="529" y="288" width="11" height="6" fill="#63cb5f"/>
<rect x="540" y="288" width="12" height="6" fill="#f1e51d"/>
<rect x="552" y="288" width="5" height="6" fill="#cae11f"/>
<rect x="557" y="288" width="6" height="6" fill="#95d840"/>
<rect x="563" y="288" width="6" height="6" fill="#63cb5f"/>
<rect x="569" y="288" width="11" height="6" fill="#21a685"/>
<rect x="580" y="288" width="6" height="6" fill="#1f958b"/>
<rect x="444" y="283" width="5" height="5" fill="#cae11f"/>
<rect x="449" y="283" width="6" height="5" fill="#95d840"/>
<rect x="455" y="283" width="6" height="5" fill="#63cb5f"/>
<rect x="461" y="283" width="5" height="5" fill="#1f958b"/>
<rect x="466" y="283" width="6" height="5" fill="#287d8e"/>
<rect x="472" y="283" width="6" height="5" fill="#443a83"/>
<rect x="478" y="283" width="5" height="5" fill="#63cb5f"/>
<rect x="483" y="283" width="6" height="5" fill="#95d840"/>
<rect x="489" y="283" width="6" height="5" fill="#44bf70"/>
<rect x="495" y="283" width="6" height="5" fill="#63cb5f"/>
<rect x="501" y="283" width="5" height="5" fill="#f1e51d"/>
<rect x="506" y="283" width="6" height="5" fill="#cae11f"/>
<rect x="512" y="283" width="6" height="5" fill="#63cb5f"/>
<rect x="518" y="283" width="5" height="5" fill="#1f958b"/>
<rect x="523" y="283" width="12" height="5" fill="#21a685"/>
<rect x="535" y="283" width="5" height="5" fill="#44bf70"/>
<rect x="540" y="283" width="6" height="5" fill="#cae11f"/>
<rect x="546" y="283" width="6" height="5" fill="#f1e51d"/>
<rect x="552" y="283" width="11" height="5" fill="#95d840"/>
<rect x="563" y="283" width="6" height="5" fill="#cae11f"/>
<rect x="569" y="283" width="5" height="5" fill="#63cb5f"/>
<rect x="574" y="283" width="6" height="5" fill="#1f958b"/>
<rect x="580" y="283" width="6" height="5" fill="#287d8e"/>
<rect x="444" y="277" width="5" height="6" fill="#cae11f"/>
<rect x="449" y="277" width="12" height="6" fill="#63cb5f"/>
<rect x="461" y="277" width="17" height="6" fill="#21a685"/>
<rect x="478" y="277" width="5" height="6" fill="#287d8e"/>
<rect x="483" y="277" width="12" height="6" fill="#63cb5f"/>
<rect x="495" y="277" width="11" height="6" fill="#95d840"/>
<rect x="506" y="277" width="6" height="6" fill="#cae11f"/>
<rect x="512" y="277" width="6" height="6" fill="#95d840"/>
<rect x="518" y="277" width="11" height="6" fill="#44bf70"/>
<rect x="529" y="277" width="11" height="6" fill="#21a685"/>
<rect x="540" y="277" width="6" height="6" fill="#95d840"/>
<rect x="546" y="277" width="6" height="6" fill="#44bf70"/>
<rect x="552" y="277" width="5" height="6" fill="#63cb5f"/>
<rect x="557" y="277" width="12" height="6" fill="#95d840"/>
<rect x="569" y="277" width="5" height="6" fill="#63cb5f"/>
<rect x="574" y="277" width="6" height="6" fill="#21a685"/>
<rect x="580" y="277" width="6" height="6" fill="#287d8e"/>
<rect x="444" y="271" width="5" height="6" fill="#cae11f"/>
<rect x="449" y="271" width="6" height="6" fill="#63cb5f"/>
<rect x="455" y="271" width="6" height="6" fill="#95d840"/>
<rect x="461" y="271" width="11" height="6" fill="#cae11f"/>
<rect x="472" y="271" width="6" height="6" fill="#95d840"/>
<rect x="478" y="271" width="5" height="6" fill="#287d8e"/>
<rect x="483" y="271" width="12" height="6" fill="#63cb5f"/>
<rect x="495" y="271" width="6" height="6" fill="#95d840"/>
<rect x="501" y="271" width="5" height="6" fill="#cae11f"/>
<rect x="506" y="271" width="6" height="6" fill="#63cb5f"/>
<rect x="512" y="271" width="6" height="6" fill="#1f958b"/>
<rect x="518" y="271" width="5" height="6" fill="#44bf70"/>
<rect x="523" y="271" width="6" height="6" fill="#63cb5f"/>
<rect x="529" y="271" width="11" height="6" fill="#21a685"/>
<rect x="540" y="271" width="6" height="6" fill="#95d840"/>
<rect x="546" y="271" width="11" height="6" fill="#63cb5f"/>
<rect x="557" y="271" width="12" height="6" fill="#44bf70"/>
<rect x="569" y="271" width="11" height="6" fill="#63cb5f"/>
<rect x="580" y="271" width="6" height="6" fill="#44bf70"/>
<rect x="444" y="266" width="5" height="5" fill="#cae11f"/>
<rect x="449" y="266" width="6" height="5" fill="#95d840"/>
<rect x="455" y="266" width="17" height="5" fill="#cae11f"/>
<rect x="472" y="266" width="6" height="5" fill="#95d840"/>
<rect x="478" y="266" width="11" height="5" fill="#cae11f"/>
<rect x="489" y="266" width="6" height="5" fill="#63cb5f"/>
<rect x="495" y="266" width="11" height="5" fill="#95d840"/>
<rect x="506" y="266" width="6" height="5" fill="#44bf70"/>
<rect x="512" y="266" width="6" height="5" fill="#287d8e"/>
<rect x="518" y="266" width="5" height="5" fill="#1f958b"/>
<rect x="523" y="266" width="6" height="5" fill="#287d8e"/>
<rect x="529" y="266" width="6" height="5" fill="#440154"/>
<rect x="535" y="266" width="5" height="5" fill="#443a83"/>
<rect x="540" y="266" width="6" height="5" fill="#63cb5f"/>
<rect x="546" y="266" width="6" height="5" fill="#cae11f"/>
<rect x="552" y="266" width="5" height="5" fill="#95d840"/>
<rect x="557" y="266" width="6" height="5" fill="#44bf70"/>
<rect x="563" y="266" width="6" height="5" fill="#287d8e"/>
<rect x="569" y="266" width="11" height="5" fill="#95d840"/>
<rect x="580" y="266" width="6" height="5" fill="#cae11f"/>
<rect x="444" y="260" width="17" height="6" fill="#cae11f"/>
<rect x="461" y="260" width="11" height="6" fill="#95d840"/>
<rect x="472" y="260" width="6" height="6" fill="#cae11f"/>
<rect x="478" y="260" width="11" height="6" fill="#95d840"/>
<rect x="489" y="260" width="12" height="6" fill="#63cb5f"/>
<rect x="501" y="260" width="11" height="6" fill="#95d840"/>
<rect x="512" y="260" width="6" height="6" fill="#287d8e"/>
<rect x="518" y="260" width="11" height="6" fill="#1f958b"/>
<rect x="529" y="260" width="6" height="6" fill="#481d6f"/>
<rect x="535" y="260" width="5" height="6" fill="#287d8e"/>
<rect x="540" y="260" width="12" height="6" fill="#63cb5f"/>
<rect x="552" y="260" width="5" height="6" fill="#95d840"/>
<rect x="557" y="260" width="12" height="6" fill="#44bf70"/>
<rect x="569" y="260" width="5" height="6" fill="#cae11f"/>
<rect x="574" y="260" width="12" height="6" fill="#95d840"/>
<rect x="444" y="254" width="5" height="6" fill="#cae11f"/>
<rect x="449" y="254" width="6" height="6" fill="#95d840"/>
<rect x="455" y="254" width="6" height="6" fill="#44bf70"/>
<rect x="461" y="254" width="5" height="6" fill="#21a685"/>
<rect x="466" y="254" width="6" height="6" fill="#63cb5f"/>
<rect x="472" y="254" width="17" height="6" fill="#95d840"/>
<rect x="489" y="254" width="12" height="6" fill="#63cb5f"/>
<rect x="501" y="254" width="5" height="6" fill="#cae11f"/>
<rect x="506" y="254" width="6" height="6" fill="#95d840"/>
<rect x="512" y="254" width="6" height="6" fill="#21a685"/>
<rect x="518" y="254" width="5" height="6" fill="#1f958b"/>
<rect x="523" y="254" width="6" height="6" fill="#44bf70"/>
<rect x="529" y="254" width="11" height="6" fill="#95d840"/>
<rect x="540" y="254" width="17" height="6" fill="#63cb5f"/>
<rect x="557" y="254" width="6" height="6" fill="#1f958b"/>
<rect x="563" y="254" width="6" height="6" fill="#2f6c8e"/>
<rect x="569" y="254" width="5" height="6" fill="#63cb5f"/>
<rect x="574" y="254" width="6" height="6" fill="#95d840"/>
<rect x="580" y="254" width="6" height="6" fill="#63cb5f"/>
<rect x="444" y="248" width="5" height="6" fill="#95d840"/>
<rect x="449" y="248" width="6" height="6" fill="#cae11f"/>
<rect x="455" y="248" width="6" height="6" fill="#63cb5f"/>
<rect x="461" y="248" width="5" height="6" fill="#21a685"/>
<rect x="466" y="248" width="6" height="6" fill="#63cb5f"/>
<rect x="472" y="248" width="17" height="6" fill="#95d840"/>
<rect x="489" y="248" width="6" height="6" fill="#63cb5f"/>
<rect x="495" y="248" width="6" height="6" fill="#95d840"/>
<rect x="501" y="248" width="11" height="6" fill="#cae11f"/>
<rect x="512" y="248" width="23" height="6" fill="#95d840"/>
<rect x="535" y="248" width="5" height="6" fill="#44bf70"/>
<rect x="540" y="248" width="6" height="6" fill="#287d8e"/>
<rect x="546" y="248" width="6" height="6" fill="#44bf70"/>
<rect x="552" y="248" width="5" height="6" fill="#95d840"/>
<rect x="557" y="248" width="17" height="6" fill="#44bf70"/>
<rect x="574" y="248" width="12" height="6" fill="#63cb5f"/>
<rect x="444" y="243" width="17" height="5" fill="#95d840"/>
<rect x="461" y="243" width="5" height="5" fill="#f1e51d"/>
<rect x="466" y="243" width="17" height="5" fill="#95d840"/>
<rect x="483" y="243" width="6" height="5" fill="#21a685"/>
<rect x="489" y="243" width="6" height="5" fill="#44bf70"/>
<rect x="495" y="243" width="17" height="5" fill="#95d840"/>
<rect x="512" y="243" width="6" height="5" fill="#cae11f"/>
<rect x="518" y="243" width="11" height="5" fill="#95d840"/>
<rect x="529" y="243" width="6" height="5" fill="#2f6c8e"/>
<rect x="535" y="243" width="11" height="5" fill="#440154"/>
<rect x="546" y="243" width="6" height="5" fill="#287d8e"/>
<rect x="552" y="243" width="5" height="5" fill="#95d840"/>
<rect x="557" y="243" width="12" height="5" fill="#cae11f"/>
<rect x="569" y="243" width="5" height="5" fill="#63cb5f"/>
<rect x="574" y="243" width="6" height="5" fill="#21a685"/>
<rect x="580" y="243" width="6" height="5" fill="#287d8e"/>
<rect x="444" y="237" width="5" height="6" fill="#f1e51d"/>
<rect x="449" y="237" width="6" height="6" fill="#63cb5f"/>
<rect x="455" y="237" width="6" height="6" fill="#21a685"/>
<rect x="461" y="237" width="11" height="6" fill="#cae11f"/>
<rect x="472" y="237" width="11" height="6" fill="#95d840"/>
<rect x="483" y="237" width="6" height="6" fill="#63cb5f"/>
<rect x="489" y="237" width="17" height="6" fill="#44bf70"/>
<rect x="506" y="237" width="12" height="6" fill="#95d840"/>
<rect x="518" y="237" width="5" height="6" fill="#63cb5f"/>
<rect x="523" y="237" width="6" height="6" fill="#21a685"/>
<rect x="529" y="237" width="6" height="6" fill="#287d8e"/>
<rect x="535" y="237" width="11" height="6" fill="#440154"/>
<rect x="546" y="237" width="11" height="6" fill="#f1e51d"/>
<rect x="557" y="237" width="12" height="6" fill="#cae11f"/>
<rect x="569" y="237" width="5" height="6" fill="#440154"/>
<rect x="574" y="237" width="6" height="6" fill="#3a548c"/>
<rect x="580" y="237" width="6" height="6" fill="#443a83"/>
<rect x="444" y="231" width="5" height="6" fill="#f1e51d"/>
<rect x="449" y="231" width="6" height="6" fill="#cae11f"/>
<rect x="455" y="231" width="6" height="6" fill="#63cb5f"/>
<rect x="461" y="231" width="5" height="6" fill="#95d840"/>
<rect x="466" y="231" width="6" height="6" fill="#63cb5f"/>
<rect x="472" y="231" width="11" height="6" fill="#95d840"/>
<rect x="483" y="231" width="18" height="6" fill="#63cb5f"/>
<rect x="501" y="231" width="5" height="6" fill="#21a685"/>
<rect x="506" y="231" width="12" height="6" fill="#63cb5f"/>
<rect x="518" y="231" width="5" height="6" fill="#21a685"/>
<rect x="523" y="231" width="6" height="6" fill="#44bf70"/>
<rect x="529" y="231" width="6" height="6" fill="#21a685"/>
<rect x="535" y="231" width="5" height="6" fill="#44bf70"/>
<rect x="540" y="231" width="6" height="6" fill="#95d840"/>
<rect x="546" y="231" width="11" height="6" fill="#f1e51d"/>
<rect x="557" y="231" width="6" height="6" fill="#63cb5f"/>
<rect x="563" y="231" width="6" height="6" fill="#44bf70"/>
<rect x="569" y="231" width="5" height="6" fill="#443a83"/>
<rect x="574" y="231" width="6" height="6" fill="#481d6f"/>
<rect x="580" y="231" width="6" height="6" fill="#2f6c8e"/>
<rect x="444" y="227" width="17" height="4" fill="#f1e51d"/>
<rect x="461" y="227" width="5" height="4" fill="#cae11f"/>
<rect x="466" y="227" width="6" height="4" fill="#63cb5f"/>
<rect x="472" y="227" width="11" height="4" fill="#95d840"/>
<rect x="483" y="227" width="12" height="4" fill="#63cb5f"/>
<rect x="495" y="227" width="6" height="4" fill="#95d840"/>
<rect x="501" y="227" width="5" height="4" fill="#cae11f"/>
<rect x="506" y="227" width="6" height="4" fill="#95d840"/>
<rect x="512" y="227" width="6" height="4" fill="#63cb5f"/>
<rect x="518" y="227" width="5" height="4" fill="#21a685"/>
<rect x="523" y="227" width="6" height="4" fill="#63cb5f"/>
<rect x="529" y="227" width="6" height="4" fill="#cae11f"/>
<rect x="535" y="227" width="5" height="4" fill="#63cb5f"/>
<rect x="540" y="227" width="6" height="4" fill="#21a685"/>
<rect x="546" y="227" width="23" height="4" fill="#63cb5f"/>
<rect x="569" y="227" width="11" height="4" fill="#21a685"/>
<rect x="580" y="227" width="6" height="4" fill="#3a548c"/>
</g>
<path d="M446.54 368.20v-5.50M446.54 227.30v5.50M443.70 365.00h5.50M585.80 365.00h-5.50M474.96 368.20v-5.50M474.96 227.30v5.50M443.70 336.58h5.50M585.80 336.58h-5.50M503.38 368.20v-5.50M503.38 227.30v5.50M443.70 308.16h5.50M585.80 308.16h-5.50M531.80 368.20v-5.50M531.80 227.30v5.50M443.70 279.74h5.50M585.80 279.74h-5.50M560.22 368.20v-5.50M560.22 227.30v5.50M443.70 251.32h5.50M585.80 251.32h-5.50" stroke="#000" stroke-width="1.0" fill="none"/>
<rect x="443.70" y="227.30" width="142.10" height="140.90" fill="none" stroke="#000" stroke-width="1.4"/>
<text x="446.54" y="387.80" font-size="17.5" text-anchor="middle">0</text>
<text x="436.20" y="370.20" font-size="17.5" text-anchor="end">0</text>
<text x="474.96" y="387.80" font-size="17.5" text-anchor="middle">5</text>
<text x="436.20" y="341.78" font-size="17.5" text-anchor="end">5</text>
<text x="503.38" y="387.80" font-size="17.5" text-anchor="middle">10</text>
<text x="436.20" y="313.36" font-size="17.5" text-anchor="end">10</text>
<text x="531.80" y="387.80" font-size="17.5" text-anchor="middle">15</text>
<text x="436.20" y="284.94" font-size="17.5" text-anchor="end">15</text>
<text x="560.22" y="387.80" font-size="17.5" text-anchor="middle">20</text>
<text x="436.20" y="256.52" font-size="17.5" text-anchor="end">20</text>
<text x="514.35" y="219.50" font-size="21.0" text-anchor="middle" letter-spacing="1.10">f140w</text>
<g shape-rendering="crispEdges">
<rect x="643" y="362" width="12" height="6" fill="#287d8e"/>
<rect x="655" y="362" width="5" height="6" fill="#63cb5f"/>
<rect x="660" y="362" width="23" height="6" fill="#95d840"/>
<rect x="683" y="362" width="6" height="6" fill="#63cb5f"/>
<rect x="689" y="362" width="5" height="6" fill="#21a685"/>
<rect x="694" y="362" width="6" height="6" fill="#287d8e"/>
<rect x="700" y="362" width="6" height="6" fill="#1f958b"/>
<rect x="706" y="362" width="6" height="6" fill="#21a685"/>
<rect x="712" y="362" width="5" height="6" fill="#63cb5f"/>
<rect x="717" y="362" width="6" height="6" fill="#21a685"/>
<rect x="723" y="362" width="6" height="6" fill="#63cb5f"/>
<rect x="729" y="362" width="5" height="6" fill="#1f958b"/>
<rect x="734" y="362" width="6" height="6" fill="#287d8e"/>
<rect x="740" y="362" width="6" height="6" fill="#1f958b"/>
<rect x="746" y="362" width="5" height="6" fill="#21a685"/>
<rect x="751" y="362" width="6" height="6" fill="#63cb5f"/>
<rect x="757" y="362" width="6" height="6" fill="#21a685"/>
<rect x="763" y="362" width="5" height="6" fill="#443a83"/>
<rect x="768" y="362" width="6" height="6" fill="#1f958b"/>
<rect x="774" y="362" width="6" height="6" fill="#63cb5f"/>
<rect x="780" y="362" width="5" height="6" fill="#44bf70"/>
<rect x="643" y="356" width="12" height="6" fill="#481d6f"/>
<rect x="655" y="356" width="5" height="6" fill="#21a685"/>
<rect x="660" y="356" width="23" height="6" fill="#95d840"/>
<rect x="683" y="356" width="17" height="6" fill="#63cb5f"/>
<rect x="700" y="356" width="6" height="6" fill="#95d840"/>
<rect x="706" y="356" width="11" height="6" fill="#44bf70"/>
<rect x="717" y="356" width="6" height="6" fill="#1f958b"/>
<rect x="723" y="356" width="6" height="6" fill="#3a548c"/>
<rect x="729" y="356" width="5" height="6" fill="#2f6c8e"/>
<rect x="734" y="356" width="6" height="6" fill="#287d8e"/>
<rect x="740" y="356" width="6" height="6" fill="#1f958b"/>
<rect x="746" y="356" width="5" height="6" fill="#44bf70"/>
<rect x="751" y="356" width="6" height="6" fill="#63cb5f"/>
<rect x="757" y="356" width="6" height="6" fill="#21a685"/>
<rect x="763" y="356" width="5" height="6" fill="#2f6c8e"/>
<rect x="768" y="356" width="6" height="6" fill="#1f958b"/>
<rect x="774" y="356" width="6" height="6" fill="#287d8e"/>
<rect x="780" y="356" width="5" height="6" fill="#44bf70"/>
<rect x="643" y="351" width="6" height="5" fill="#481d6f"/>
<rect x="649" y="351" width="6" height="5" fill="#440154"/>
<rect x="655" y="351" width="5" height="5" fill="#287d8e"/>
<rect x="660" y="351" width="17" height="5" fill="#63cb5f"/>
<rect x="677" y="351" width="6" height="5" fill="#95d840"/>
<rect x="683" y="351" width="6" height="5" fill="#21a685"/>
<rect x="689" y="351" width="5" height="5" fill="#2f6c8e"/>
<rect x="694" y="351" width="6" height="5" fill="#21a685"/>
<rect x="700" y="351" width="6" height="5" fill="#63cb5f"/>
<rect x="706" y="351" width="6" height="5" fill="#287d8e"/>
<rect x="712" y="351" width="5" height="5" fill="#440154"/>
<rect x="717" y="351" width="6" height="5" fill="#443a83"/>
<rect x="723" y="351" width="6" height="5" fill="#3a548c"/>
<rect x="729" y="351" width="5" height="5" fill="#287d8e"/>
<rect x="734" y="351" width="6" height="5" fill="#95d840"/>
<rect x="740" y="351" width="6" height="5" fill="#63cb5f"/>
<rect x="746" y="351" width="11" height="5" fill="#44bf70"/>
<rect x="757" y="351" width="6" height="5" fill="#21a685"/>
<rect x="763" y="351" width="5" height="5" fill="#2f6c8e"/>
<rect x="768" y="351" width="6" height="5" fill="#21a685"/>
<rect x="774" y="351" width="6" height="5" fill="#1f958b"/>
<rect x="780" y="351" width="5" height="5" fill="#2f6c8e"/>
<rect x="643" y="345" width="6" height="6" fill="#287d8e"/>
<rect x="649" y="345" width="6" height="6" fill="#1f958b"/>
<rect x="655" y="345" width="5" height="6" fill="#440154"/>
<rect x="660" y="345" width="6" height="6" fill="#1f958b"/>
<rect x="666" y="345" width="6" height="6" fill="#63cb5f"/>
<rect x="672" y="345" width="5" height="6" fill="#21a685"/>
<rect x="677" y="345" width="6" height="6" fill="#63cb5f"/>
<rect x="683" y="345" width="6" height="6" fill="#21a685"/>
<rect x="689" y="345" width="11" height="6" fill="#287d8e"/>
<rect x="700" y="345" width="6" height="6" fill="#3a548c"/>
<rect x="706" y="345" width="6" height="6" fill="#481d6f"/>
<rect x="712" y="345" width="5" height="6" fill="#440154"/>
<rect x="717" y="345" width="6" height="6" fill="#443a83"/>
<rect x="723" y="345" width="6" height="6" fill="#21a685"/>
<rect x="729" y="345" width="5" height="6" fill="#63cb5f"/>
<rect x="734" y="345" width="12" height="6" fill="#95d840"/>
<rect x="746" y="345" width="5" height="6" fill="#63cb5f"/>
<rect x="751" y="345" width="6" height="6" fill="#95d840"/>
<rect x="757" y="345" width="6" height="6" fill="#63cb5f"/>
<rect x="763" y="345" width="5" height="6" fill="#1f958b"/>
<rect x="768" y="345" width="6" height="6" fill="#44bf70"/>
<rect x="774" y="345" width="6" height="6" fill="#63cb5f"/>
<rect x="780" y="345" width="5" height="6" fill="#1f958b"/>
<rect x="643" y="339" width="6" height="6" fill="#1f958b"/>
<rect x="649" y="339" width="6" height="6" fill="#21a685"/>
<rect x="655" y="339" width="5" height="6" fill="#443a83"/>
<rect x="660" y="339" width="6" height="6" fill="#481d6f"/>
<rect x="666" y="339" width="6" height="6" fill="#443a83"/>
<rect x="672" y="339" width="5" height="6" fill="#1f958b"/>
<rect x="677" y="339" width="6" height="6" fill="#63cb5f"/>
<rect x="683" y="339" width="6" height="6" fill="#21a685"/>
<rect x="689" y="339" width="5" height="6" fill="#63cb5f"/>
<rect x="694" y="339" width="6" height="6" fill="#21a685"/>
<rect x="700" y="339" width="12" height="6" fill="#287d8e"/>
<rect x="712" y="339" width="5" height="6" fill="#63cb5f"/>
<rect x="717" y="339" width="12" height="6" fill="#1f958b"/>
<rect x="729" y="339" width="5" height="6" fill="#44bf70"/>
<rect x="734" y="339" width="6" height="6" fill="#63cb5f"/>
<rect x="740" y="339" width="6" height="6" fill="#44bf70"/>
<rect x="746" y="339" width="5" height="6" fill="#63cb5f"/>
<rect x="751" y="339" width="12" height="6" fill="#95d840"/>
<rect x="763" y="339" width="5" height="6" fill="#21a685"/>
<rect x="768" y="339" width="6" height="6" fill="#1f958b"/>
<rect x="774" y="339" width="6" height="6" fill="#95d840"/>
<rect x="780" y="339" width="5" height="6" fill="#44bf70"/>
<rect x="643" y="334" width="6" height="5" fill="#2f6c8e"/>
<rect x="649" y="334" width="6" height="5" fill="#1f958b"/>
<rect x="655" y="334" width="11" height="5" fill="#287d8e"/>
<rect x="666" y="334" width="6" height="5" fill="#2f6c8e"/>
<rect x="672" y="334" width="5" height="5" fill="#1f958b"/>
<rect x="677" y="334" width="6" height="5" fill="#44bf70"/>
<rect x="683" y="334" width="6" height="5" fill="#1f958b"/>
<rect x="689" y="334" width="11" height="5" fill="#63cb5f"/>
<rect x="700" y="334" width="6" height="5" fill="#44bf70"/>
<rect x="706" y="334" width="11" height="5" fill="#95d840"/>
<rect x="717" y="334" width="6" height="5" fill="#21a685"/>
<rect x="723" y="334" width="6" height="5" fill="#287d8e"/>
<rect x="729" y="334" width="5" height="5" fill="#3a548c"/>
<rect x="734" y="334" width="6" height="5" fill="#287d8e"/>
<rect x="740" y="334" width="11" height="5" fill="#63cb5f"/>
<rect x="751" y="334" width="6" height="5" fill="#95d840"/>
<rect x="757" y="334" width="6" height="5" fill="#44bf70"/>
<rect x="763" y="334" width="5" height="5" fill="#1f958b"/>
<rect x="768" y="334" width="6" height="5" fill="#63cb5f"/>
<rect x="774" y="334" width="6" height="5" fill="#95d840"/>
<rect x="780" y="334" width="5" height="5" fill="#63cb5f"/>
<rect x="643" y="328" width="12" height="6" fill="#287d8e"/>
<rect x="655" y="328" width="5" height="6" fill="#1f958b"/>
<rect x="660" y="328" width="6" height="6" fill="#21a685"/>
<rect x="666" y="328" width="6" height="6" fill="#63cb5f"/>
<rect x="672" y="328" width="11" height="6" fill="#44bf70"/>
<rect x="683" y="328" width="6" height="6" fill="#21a685"/>
<rect x="689" y="328" width="11" height="6" fill="#95d840"/>
<rect x="700" y="328" width="23" height="6" fill="#63cb5f"/>
<rect x="723" y="328" width="6" height="6" fill="#443a83"/>
<rect x="729" y="328" width="5" height="6" fill="#440154"/>
<rect x="734" y="328" width="6" height="6" fill="#287d8e"/>
<rect x="740" y="328" width="6" height="6" fill="#1f958b"/>
<rect x="746" y="328" width="5" height="6" fill="#21a685"/>
<rect x="751" y="328" width="6" height="6" fill="#63cb5f"/>
<rect x="757" y="328" width="6" height="6" fill="#95d840"/>
<rect x="763" y="328" width="11" height="6" fill="#63cb5f"/>
<rect x="774" y="328" width="6" height="6" fill="#44bf70"/>
<rect x="780" y="328" width="5" height="6" fill="#63cb5f"/>
<rect x="643" y="322" width="6" height="6" fill="#1f958b"/>
<rect x="649" y="322" width="6" height="6" fill="#287d8e"/>
<rect x="655" y="322" width="5" height="6" fill="#63cb5f"/>
<rect x="660" y="322" width="6" height="6" fill="#95d840"/>
<rect x="666" y="322" width="11" height="6" fill="#44bf70"/>
<rect x="677" y="322" width="6" height="6" fill="#1f958b"/>
<rect x="683" y="322" width="6" height="6" fill="#2f6c8e"/>
<rect x="689" y="322" width="5" height="6" fill="#44bf70"/>
<rect x="694" y="322" width="6" height="6" fill="#95d840"/>
<rect x="700" y="322" width="6" height="6" fill="#63cb5f"/>
<rect x="706" y="322" width="6" height="6" fill="#1f958b"/>
<rect x="712" y="322" width="5" height="6" fill="#21a685"/>
<rect x="717" y="322" width="6" height="6" fill="#63cb5f"/>
<rect x="723" y="322" width="6" height="6" fill="#21a685"/>
<rect x="729" y="322" width="5" height="6" fill="#63cb5f"/>
<rect x="734" y="322" width="6" height="6" fill="#cae11f"/>
<rect x="740" y="322" width="6" height="6" fill="#21a685"/>
<rect x="746" y="322" width="11" height="6" fill="#1f958b"/>
<rect x="757" y="322" width="28" height="6" fill="#63cb5f"/>
<rect x="643" y="317" width="6" height="5" fill="#95d840"/>
<rect x="649" y="317" width="6" height="5" fill="#21a685"/>
<rect x="655" y="317" width="5" height="5" fill="#63cb5f"/>
<rect x="660" y="317" width="6" height="5" fill="#95d840"/>
<rect x="666" y="317" width="11" height="5" fill="#cae11f"/>
<rect x="677" y="317" width="6" height="5" fill="#44bf70"/>
<rect x="683" y="317" width="6" height="5" fill="#2f6c8e"/>
<rect x="689" y="317" width="5" height="5" fill="#1f958b"/>
<rect x="694" y="317" width="12" height="5" fill="#44bf70"/>
<rect x="706" y="317" width="11" height="5" fill="#21a685"/>
<rect x="717" y="317" width="6" height="5" fill="#95d840"/>
<rect x="723" y="317" width="11" height="5" fill="#cae11f"/>
<rect x="734" y="317" width="6" height="5" fill="#95d840"/>
<rect x="740" y="317" width="6" height="5" fill="#63cb5f"/>
<rect x="746" y="317" width="5" height="5" fill="#3a548c"/>
<rect x="751" y="317" width="6" height="5" fill="#443a83"/>
<rect x="757" y="317" width="6" height="5" fill="#44bf70"/>
<rect x="763" y="317" width="5" height="5" fill="#95d840"/>
<rect x="768" y="317" width="12" height="5" fill="#cae11f"/>
<rect x="780" y="317" width="5" height="5" fill="#95d840"/>
<rect x="643" y="311" width="6" height="6" fill="#cae11f"/>
<rect x="649" y="311" width="6" height="6" fill="#63cb5f"/>
<rect x="655" y="311" width="11" height="6" fill="#21a685"/>
<rect x="666" y="311" width="6" height="6" fill="#95d840"/>
<rect x="672" y="311" width="5" height="6" fill="#cae11f"/>
<rect x="677" y="311" width="6" height="6" fill="#63cb5f"/>
<rect x="683" y="311" width="6" height="6" fill="#21a685"/>
<rect x="689" y="311" width="5" height="6" fill="#63cb5f"/>
<rect x="694" y="311" width="6" height="6" fill="#21a685"/>
<rect x="700" y="311" width="6" height="6" fill="#44bf70"/>
<rect x="706" y="311" width="6" height="6" fill="#95d840"/>
<rect x="712" y="311" width="17" height="6" fill="#f1e51d"/>
<rect x="729" y="311" width="11" height="6" fill="#95d840"/>
<rect x="740" y="311" width="6" height="6" fill="#63cb5f"/>
<rect x="746" y="311" width="5" height="6" fill="#1f958b"/>
<rect x="751" y="311" width="6" height="6" fill="#443a83"/>
<rect x="757" y="311" width="6" height="6" fill="#2f6c8e"/>
<rect x="763" y="311" width="5" height="6" fill="#63cb5f"/>
<rect x="768" y="311" width="6" height="6" fill="#95d840"/>
<rect x="774" y="311" width="6" height="6" fill="#f1e51d"/>
<rect x="780" y="311" width="5" height="6" fill="#63cb5f"/>
<rect x="643" y="305" width="6" height="6" fill="#95d840"/>
<rect x="649" y="305" width="17" height="6" fill="#1f958b"/>
<rect x="666" y="305" width="6" height="6" fill="#63cb5f"/>
<rect x="672" y="305" width="5" height="6" fill="#95d840"/>
<rect x="677" y="305" width="12" height="6" fill="#287d8e"/>
<rect x="689" y="305" width="5" height="6" fill="#63cb5f"/>
<rect x="694" y="305" width="12" height="6" fill="#21a685"/>
<rect x="706" y="305" width="6" height="6" fill="#95d840"/>
<rect x="712" y="305" width="5" height="6" fill="#cae11f"/>
<rect x="717" y="305" width="6" height="6" fill="#f1e51d"/>
<rect x="723" y="305" width="6" height="6" fill="#cae11f"/>
<rect x="729" y="305" width="17" height="6" fill="#95d840"/>
<rect x="746" y="305" width="5" height="6" fill="#63cb5f"/>
<rect x="751" y="305" width="6" height="6" fill="#287d8e"/>
<rect x="757" y="305" width="6" height="6" fill="#3a548c"/>
<rect x="763" y="305" width="5" height="6" fill="#287d8e"/>
<rect x="768" y="305" width="6" height="6" fill="#95d840"/>
<rect x="774" y="305" width="11" height="6" fill="#63cb5f"/>
<rect x="643" y="300" width="6" height="5" fill="#44bf70"/>
<rect x="649" y="300" width="11" height="5" fill="#1f958b"/>
<rect x="660" y="300" width="6" height="5" fill="#95d840"/>
<rect x="666" y="300" width="6" height="5" fill="#63cb5f"/>
<rect x="672" y="300" width="5" height="5" fill="#95d840"/>
<rect x="677" y="300" width="6" height="5" fill="#21a685"/>
<rect x="683" y="300" width="6" height="5" fill="#63cb5f"/>
<rect x="689" y="300" width="5" height="5" fill="#cae11f"/>
<rect x="694" y="300" width="6" height="5" fill="#95d840"/>
<rect x="700" y="300" width="6" height="5" fill="#21a685"/>
<rect x="706" y="300" width="6" height="5" fill="#95d840"/>
<rect x="712" y="300" width="5" height="5" fill="#cae11f"/>
<rect x="717" y="300" width="12" height="5" fill="#f1e51d"/>
<rect x="729" y="300" width="5" height="5" fill="#cae11f"/>
<rect x="734" y="300" width="6" height="5" fill="#63cb5f"/>
<rect x="740" y="300" width="11" height="5" fill="#95d840"/>
<rect x="751" y="300" width="6" height="5" fill="#21a685"/>
<rect x="757" y="300" width="6" height="5" fill="#287d8e"/>
<rect x="763" y="300" width="17" height="5" fill="#95d840"/>
<rect x="780" y="300" width="5" height="5" fill="#63cb5f"/>
<rect x="643" y="294" width="6" height="6" fill="#63cb5f"/>
<rect x="649" y="294" width="6" height="6" fill="#21a685"/>
<rect x="655" y="294" width="5" height="6" fill="#44bf70"/>
<rect x="660" y="294" width="17" height="6" fill="#63cb5f"/>
<rect x="677" y="294" width="23" height="6" fill="#cae11f"/>
<rect x="700" y="294" width="23" height="6" fill="#f1e51d"/>
<rect x="723" y="294" width="6" height="6" fill="#95d840"/>
<rect x="729" y="294" width="11" height="6" fill="#21a685"/>
<rect x="740" y="294" width="11" height="6" fill="#95d840"/>
<rect x="751" y="294" width="6" height="6" fill="#21a685"/>
<rect x="757" y="294" width="6" height="6" fill="#63cb5f"/>
<rect x="763" y="294" width="11" height="6" fill="#95d840"/>
<rect x="774" y="294" width="6" height="6" fill="#63cb5f"/>
<rect x="780" y="294" width="5" height="6" fill="#21a685"/>
<rect x="643" y="288" width="17" height="6" fill="#1f958b"/>
<rect x="660" y="288" width="6" height="6" fill="#21a685"/>
<rect x="666" y="288" width="6" height="6" fill="#95d840"/>
<rect x="672" y="288" width="11" height="6" fill="#63cb5f"/>
<rect x="683" y="288" width="6" height="6" fill="#cae11f"/>
<rect x="689" y="288" width="11" height="6" fill="#63cb5f"/>
<rect x="700" y="288" width="12" height="6" fill="#f1e51d"/>
<rect x="712" y="288" width="5" height="6" fill="#cae11f"/>
<rect x="717" y="288" width="6" height="6" fill="#63cb5f"/>
<rect x="723" y="288" width="6" height="6" fill="#21a685"/>
<rect x="729" y="288" width="11" height="6" fill="#1f958b"/>
<rect x="740" y="288" width="6" height="6" fill="#481d6f"/>
<rect x="746" y="288" width="5" height="6" fill="#287d8e"/>
<rect x="751" y="288" width="6" height="6" fill="#63cb5f"/>
<rect x="757" y="288" width="11" height="6" fill="#44bf70"/>
<rect x="768" y="288" width="6" height="6" fill="#21a685"/>
<rect x="774" y="288" width="11" height="6" fill="#63cb5f"/>
<rect x="643" y="283" width="6" height="5" fill="#1f958b"/>
<rect x="649" y="283" width="11" height="5" fill="#21a685"/>
<rect x="660" y="283" width="6" height="5" fill="#2f6c8e"/>
<rect x="666" y="283" width="6" height="5" fill="#44bf70"/>
<rect x="672" y="283" width="17" height="5" fill="#63cb5f"/>
<rect x="689" y="283" width="5" height="5" fill="#44bf70"/>
<rect x="694" y="283" width="6" height="5" fill="#21a685"/>
<rect x="700" y="283" width="6" height="5" fill="#cae11f"/>
<rect x="706" y="283" width="6" height="5" fill="#63cb5f"/>
<rect x="712" y="283" width="11" height="5" fill="#95d840"/>
<rect x="723" y="283" width="6" height="5" fill="#63cb5f"/>
<rect x="729" y="283" width="5" height="5" fill="#21a685"/>
<rect x="734" y="283" width="6" height="5" fill="#2f6c8e"/>
<rect x="740" y="283" width="6" height="5" fill="#443a83"/>
<rect x="746" y="283" width="5" height="5" fill="#440154"/>
<rect x="751" y="283" width="6" height="5" fill="#21a685"/>
<rect x="757" y="283" width="11" height="5" fill="#1f958b"/>
<rect x="768" y="283" width="6" height="5" fill="#21a685"/>
<rect x="774" y="283" width="11" height="5" fill="#63cb5f"/>
<rect x="643" y="277" width="12" height="6" fill="#95d840"/>
<rect x="655" y="277" width="5" height="6" fill="#63cb5f"/>
<rect x="660" y="277" width="6" height="6" fill="#2f6c8e"/>
<rect x="666" y="277" width="6" height="6" fill="#1f958b"/>
<rect x="672" y="277" width="17" height="6" fill="#63cb5f"/>
<rect x="689" y="277" width="5" height="6" fill="#21a685"/>
<rect x="694" y="277" width="6" height="6" fill="#44bf70"/>
<rect x="700" y="277" width="6" height="6" fill="#95d840"/>
<rect x="706" y="277" width="11" height="6" fill="#63cb5f"/>
<rect x="717" y="277" width="12" height="6" fill="#cae11f"/>
<rect x="729" y="277" width="5" height="6" fill="#95d840"/>
<rect x="734" y="277" width="6" height="6" fill="#287d8e"/>
<rect x="740" y="277" width="6" height="6" fill="#3a548c"/>
<rect x="746" y="277" width="5" height="6" fill="#2f6c8e"/>
<rect x="751" y="277" width="6" height="6" fill="#1f958b"/>
<rect x="757" y="277" width="11" height="6" fill="#21a685"/>
<rect x="768" y="277" width="6" height="6" fill="#63cb5f"/>
<rect x="774" y="277" width="6" height="6" fill="#44bf70"/>
<rect x="780" y="277" width="5" height="6" fill="#63cb5f"/>
<rect x="643" y="271" width="6" height="6" fill="#95d840"/>
<rect x="649" y="271" width="6" height="6" fill="#cae11f"/>
<rect x="655" y="271" width="5" height="6" fill="#44bf70"/>
<rect x="660" y="271" width="12" height="6" fill="#21a685"/>
<rect x="672" y="271" width="11" height="6" fill="#63cb5f"/>
<rect x="683" y="271" width="6" height="6" fill="#44bf70"/>
<rect x="689" y="271" width="5" height="6" fill="#21a685"/>
<rect x="694" y="271" width="6" height="6" fill="#1f958b"/>
<rect x="700" y="271" width="17" height="6" fill="#63cb5f"/>
<rect x="717" y="271" width="6" height="6" fill="#95d840"/>
<rect x="723" y="271" width="6" height="6" fill="#cae11f"/>
<rect x="729" y="271" width="11" height="6" fill="#95d840"/>
<rect x="740" y="271" width="6" height="6" fill="#1f958b"/>
<rect x="746" y="271" width="5" height="6" fill="#2f6c8e"/>
<rect x="751" y="271" width="17" height="6" fill="#1f958b"/>
<rect x="768" y="271" width="6" height="6" fill="#21a685"/>
<rect x="774" y="271" width="6" height="6" fill="#63cb5f"/>
<rect x="780" y="271" width="5" height="6" fill="#287d8e"/>
<rect x="643" y="266" width="6" height="5" fill="#95d840"/>
<rect x="649" y="266" width="6" height="5" fill="#63cb5f"/>
<rect x="655" y="266" width="11" height="5" fill="#44bf70"/>
<rect x="666" y="266" width="23" height="5" fill="#21a685"/>
<rect x="689" y="266" width="23" height="5" fill="#44bf70"/>
<rect x="712" y="266" width="11" height="5" fill="#63cb5f"/>
<rect x="723" y="266" width="6" height="5" fill="#21a685"/>
<rect x="729" y="266" width="5" height="5" fill="#63cb5f"/>
<rect x="734" y="266" width="6" height="5" fill="#95d840"/>
<rect x="740" y="266" width="11" height="5" fill="#44bf70"/>
<rect x="751" y="266" width="6" height="5" fill="#95d840"/>
<rect x="757" y="266" width="6" height="5" fill="#21a685"/>
<rect x="763" y="266" width="5" height="5" fill="#1f958b"/>
<rect x="768" y="266" width="12" height="5" fill="#21a685"/>
<rect x="780" y="266" width="5" height="5" fill="#287d8e"/>
<rect x="643" y="260" width="6" height="6" fill="#63cb5f"/>
<rect x="649" y="260" width="6" height="6" fill="#95d840"/>
<rect x="655" y="260" width="5" height="6" fill="#63cb5f"/>
<rect x="660" y="260" width="6" height="6" fill="#44bf70"/>
<rect x="666" y="260" width="11" height="6" fill="#21a685"/>
<rect x="677" y="260" width="6" height="6" fill="#1f958b"/>
<rect x="683" y="260" width="6" height="6" fill="#63cb5f"/>
<rect x="689" y="260" width="5" height="6" fill="#95d840"/>
<rect x="694" y="260" width="6" height="6" fill="#21a685"/>
<rect x="700" y="260" width="17" height="6" fill="#63cb5f"/>
<rect x="717" y="260" width="12" height="6" fill="#1f958b"/>
<rect x="729" y="260" width="11" height="6" fill="#44bf70"/>
<rect x="740" y="260" width="6" height="6" fill="#21a685"/>
<rect x="746" y="260" width="5" height="6" fill="#63cb5f"/>
<rect x="751" y="260" width="6" height="6" fill="#95d840"/>
<rect x="757" y="260" width="6" height="6" fill="#21a685"/>
<rect x="763" y="260" width="5" height="6" fill="#443a83"/>
<rect x="768" y="260" width="6" height="6" fill="#481d6f"/>
<rect x="774" y="260" width="6" height="6" fill="#95d840"/>
<rect x="780" y="260" width="5" height="6" fill="#21a685"/>
<rect x="643" y="254" width="6" height="6" fill="#21a685"/>
<rect x="649" y="254" width="6" height="6" fill="#63cb5f"/>
<rect x="655" y="254" width="5" height="6" fill="#95d840"/>
<rect x="660" y="254" width="6" height="6" fill="#44bf70"/>
<rect x="666" y="254" width="6" height="6" fill="#21a685"/>
<rect x="672" y="254" width="11" height="6" fill="#95d840"/>
<rect x="683" y="254" width="6" height="6" fill="#44bf70"/>
<rect x="689" y="254" width="17" height="6" fill="#63cb5f"/>
<rect x="706" y="254" width="17" height="6" fill="#21a685"/>
<rect x="723" y="254" width="6" height="6" fill="#1f958b"/>
<rect x="729" y="254" width="22" height="6" fill="#21a685"/>
<rect x="751" y="254" width="6" height="6" fill="#44bf70"/>
<rect x="757" y="254" width="6" height="6" fill="#21a685"/>
<rect x="763" y="254" width="5" height="6" fill="#3a548c"/>
<rect x="768" y="254" width="6" height="6" fill="#481d6f"/>
<rect x="774" y="254" width="6" height="6" fill="#1f958b"/>
<rect x="780" y="254" width="5" height="6" fill="#63cb5f"/>
<rect x="643" y="248" width="12" height="6" fill="#63cb5f"/>
<rect x="655" y="248" width="5" height="6" fill="#95d840"/>
<rect x="660" y="248" width="6" height="6" fill="#44bf70"/>
<rect x="666" y="248" width="11" height="6" fill="#63cb5f"/>
<rect x="677" y="248" width="6" height="6" fill="#95d840"/>
<rect x="683" y="248" width="6" height="6" fill="#44bf70"/>
<rect x="689" y="248" width="17" height="6" fill="#63cb5f"/>
<rect x="706" y="248" width="6" height="6" fill="#44bf70"/>
<rect x="712" y="248" width="5" height="6" fill="#287d8e"/>
<rect x="717" y="248" width="6" height="6" fill="#21a685"/>
<rect x="723" y="248" width="6" height="6" fill="#63cb5f"/>
<rect x="729" y="248" width="5" height="6" fill="#44bf70"/>
<rect x="734" y="248" width="6" height="6" fill="#1f958b"/>
<rect x="740" y="248" width="11" height="6" fill="#287d8e"/>
<rect x="751" y="248" width="12" height="6" fill="#63cb5f"/>
<rect x="763" y="248" width="5" height="6" fill="#21a685"/>
<rect x="768" y="248" width="6" height="6" fill="#63cb5f"/>
<rect x="774" y="248" width="6" height="6" fill="#21a685"/>
<rect x="780" y="248" width="5" height="6" fill="#44bf70"/>
<rect x="643" y="243" width="6" height="5" fill="#cae11f"/>
<rect x="649" y="243" width="11" height="5" fill="#63cb5f"/>
<rect x="660" y="243" width="6" height="5" fill="#44bf70"/>
<rect x="666" y="243" width="6" height="5" fill="#63cb5f"/>
<rect x="672" y="243" width="5" height="5" fill="#44bf70"/>
<rect x="677" y="243" width="6" height="5" fill="#95d840"/>
<rect x="683" y="243" width="17" height="5" fill="#63cb5f"/>
<rect x="700" y="243" width="6" height="5" fill="#1f958b"/>
<rect x="706" y="243" width="6" height="5" fill="#481d6f"/>
<rect x="712" y="243" width="5" height="5" fill="#2f6c8e"/>
<rect x="717" y="243" width="6" height="5" fill="#21a685"/>
<rect x="723" y="243" width="6" height="5" fill="#63cb5f"/>
<rect x="729" y="243" width="11" height="5" fill="#1f958b"/>
<rect x="740" y="243" width="6" height="5" fill="#21a685"/>
<rect x="746" y="243" width="5" height="5" fill="#1f958b"/>
<rect x="751" y="243" width="6" height="5" fill="#cae11f"/>
<rect x="757" y="243" width="11" height="5" fill="#287d8e"/>
<rect x="768" y="243" width="6" height="5" fill="#63cb5f"/>
<rect x="774" y="243" width="6" height="5" fill="#21a685"/>
<rect x="780" y="243" width="5" height="5" fill="#1f958b"/>
<rect x="643" y="237" width="12" height="6" fill="#cae11f"/>
<rect x="655" y="237" width="5" height="6" fill="#95d840"/>
<rect x="660" y="237" width="6" height="6" fill="#63cb5f"/>
<rect x="666" y="237" width="17" height="6" fill="#95d840"/>
<rect x="683" y="237" width="11" height="6" fill="#63cb5f"/>
<rect x="694" y="237" width="6" height="6" fill="#44bf70"/>
<rect x="700" y="237" width="6" height="6" fill="#2f6c8e"/>
<rect x="706" y="237" width="6" height="6" fill="#3a548c"/>
<rect x="712" y="237" width="5" height="6" fill="#287d8e"/>
<rect x="717" y="237" width="6" height="6" fill="#95d840"/>
<rect x="723" y="237" width="6" height="6" fill="#63cb5f"/>
<rect x="729" y="237" width="11" height="6" fill="#287d8e"/>
<rect x="740" y="237" width="11" height="6" fill="#21a685"/>
<rect x="751" y="237" width="6" height="6" fill="#95d840"/>
<rect x="757" y="237" width="6" height="6" fill="#63cb5f"/>
<rect x="763" y="237" width="11" height="6" fill="#2f6c8e"/>
<rect x="774" y="237" width="6" height="6" fill="#44bf70"/>
<rect x="780" y="237" width="5" height="6" fill="#63cb5f"/>
<rect x="643" y="231" width="6" height="6" fill="#63cb5f"/>
<rect x="649" y="231" width="6" height="6" fill="#95d840"/>
<rect x="655" y="231" width="5" height="6" fill="#cae11f"/>
<rect x="660" y="231" width="17" height="6" fill="#95d840"/>
<rect x="677" y="231" width="6" height="6" fill="#cae11f"/>
<rect x="683" y="231" width="6" height="6" fill="#95d840"/>
<rect x="689" y="231" width="11" height="6" fill="#63cb5f"/>
<rect x="700" y="231" width="6" height="6" fill="#1f958b"/>
<rect x="706" y="231" width="6" height="6" fill="#44bf70"/>
<rect x="712" y="231" width="17" height="6" fill="#95d840"/>
<rect x="729" y="231" width="5" height="6" fill="#44bf70"/>
<rect x="734" y="231" width="6" height="6" fill="#1f958b"/>
<rect x="740" y="231" width="6" height="6" fill="#443a83"/>
<rect x="746" y="231" width="5" height="6" fill="#287d8e"/>
<rect x="751" y="231" width="6" height="6" fill="#21a685"/>
<rect x="757" y="231" width="6" height="6" fill="#63cb5f"/>
<rect x="763" y="231" width="11" height="6" fill="#3a548c"/>
<rect x="774" y="231" width="6" height="6" fill="#21a685"/>
<rect x="780" y="231" width="5" height="6" fill="#95d840"/>
<rect x="643" y="227" width="17" height="4" fill="#cae11f"/>
<rect x="660" y="227" width="12" height="4" fill="#95d840"/>
<rect x="672" y="227" width="11" height="4" fill="#f1e51d"/>
<rect x="683" y="227" width="6" height="4" fill="#cae11f"/>
<rect x="689" y="227" width="5" height="4" fill="#63cb5f"/>
<rect x="694" y="227" width="6" height="4" fill="#44bf70"/>
<rect x="700" y="227" width="6" height="4" fill="#21a685"/>
<rect x="706" y="227" width="11" height="4" fill="#95d840"/>
<rect x="717" y="227" width="12" height="4" fill="#63cb5f"/>
<rect x="729" y="227" width="5" height="4" fill="#44bf70"/>
<rect x="734" y="227" width="6" height="4" fill="#1f958b"/>
<rect x="740" y="227" width="6" height="4" fill="#443a83"/>
<rect x="746" y="227" width="5" height="4" fill="#3a548c"/>
<rect x="751" y="227" width="6" height="4" fill="#1f958b"/>
<rect x="757" y="227" width="6" height="4" fill="#63cb5f"/>
<rect x="763" y="227" width="5" height="4" fill="#1f958b"/>
<rect x="768" y="227" width="12" height="4" fill="#481d6f"/>
<rect x="780" y="227" width="5" height="4" fill="#1f958b"/>
</g>
<path d="M646.14 368.20v-5.50M646.14 227.30v5.50M643.30 365.00h5.50M785.40 365.00h-5.50M674.56 368.20v-5.50M674.56 227.30v5.50M643.30 336.58h5.50M785.40 336.58h-5.50M702.98 368.20v-5.50M702.98 227.30v5.50M643.30 308.16h5.50M785.40 308.16h-5.50M731.40 368.20v-5.50M731.40 227.30v5.50M643.30 279.74h5.50M785.40 279.74h-5.50M759.82 368.20v-5.50M759.82 227.30v5.50M643.30 251.32h5.50M785.40 251.32h-5.50" stroke="#000" stroke-width="1.0" fill="none"/>
<rect x="643.30" y="227.30" width="142.10" height="140.90" fill="none" stroke="#000" stroke-width="1.4"/>
<text x="646.14" y="387.80" font-size="17.5" text-anchor="middle">0</text>
<text x="635.80" y="370.20" font-size="17.5" text-anchor="end">0</text>
<text x="674.56" y="387.80" font-size="17.5" text-anchor="middle">5</text>
<text x="635.80" y="341.78" font-size="17.5" text-anchor="end">5</text>
<text x="702.98" y="387.80" font-size="17.5" text-anchor="middle">10</text>
<text x="635.80" y="313.36" font-size="17.5" text-anchor="end">10</text>
<text x="731.40" y="387.80" font-size="17.5" text-anchor="middle">15</text>
<text x="635.80" y="284.94" font-size="17.5" text-anchor="end">15</text>
<text x="759.82" y="387.80" font-size="17.5" text-anchor="middle">20</text>
<text x="635.80" y="256.52" font-size="17.5" text-anchor="end">20</text>
<text x="713.95" y="219.50" font-size="21.0" text-anchor="middle" letter-spacing="1.10">f160w</text>
<g shape-rendering="crispEdges">
<rect x="845" y="355" width="27" height="13" fill="#44bf70"/>
<rect x="872" y="355" width="13" height="13" fill="#21a685"/>
<rect x="885" y="355" width="14" height="13" fill="#cae11f"/>
<rect x="899" y="355" width="13" height="13" fill="#21a685"/>
<rect x="912" y="355" width="14" height="13" fill="#443a83"/>
<rect x="926" y="355" width="13" height="13" fill="#95d840"/>
<rect x="939" y="355" width="14" height="13" fill="#63cb5f"/>
<rect x="953" y="355" width="13" height="13" fill="#21a685"/>
<rect x="966" y="355" width="27" height="13" fill="#44bf70"/>
<rect x="993" y="355" width="14" height="13" fill="#cae11f"/>
<rect x="1007" y="355" width="40" height="13" fill="#63cb5f"/>
<rect x="1047" y="355" width="14" height="13" fill="#44bf70"/>
<rect x="1061" y="355" width="13" height="13" fill="#21a685"/>
<rect x="1074" y="355" width="27" height="13" fill="#cae11f"/>
<rect x="1101" y="355" width="13" height="13" fill="#63cb5f"/>
<rect x="1114" y="355" width="14" height="13" fill="#95d840"/>
<rect x="1128" y="355" width="13" height="13" fill="#44bf70"/>
<rect x="1141" y="355" width="14" height="13" fill="#21a685"/>
<rect x="1155" y="355" width="27" height="13" fill="#95d840"/>
<rect x="845" y="341" width="13" height="14" fill="#287d8e"/>
<rect x="858" y="341" width="14" height="14" fill="#21a685"/>
<rect x="872" y="341" width="13" height="14" fill="#cae11f"/>
<rect x="885" y="341" width="14" height="14" fill="#63cb5f"/>
<rect x="899" y="341" width="13" height="14" fill="#2f6c8e"/>
<rect x="912" y="341" width="14" height="14" fill="#63cb5f"/>
<rect x="926" y="341" width="13" height="14" fill="#95d840"/>
<rect x="939" y="341" width="14" height="14" fill="#21a685"/>
<rect x="953" y="341" width="13" height="14" fill="#440154"/>
<rect x="966" y="341" width="14" height="14" fill="#287d8e"/>
<rect x="980" y="341" width="13" height="14" fill="#21a685"/>
<rect x="993" y="341" width="14" height="14" fill="#f1e51d"/>
<rect x="1007" y="341" width="13" height="14" fill="#cae11f"/>
<rect x="1020" y="341" width="14" height="14" fill="#95d840"/>
<rect x="1034" y="341" width="13" height="14" fill="#63cb5f"/>
<rect x="1047" y="341" width="27" height="14" fill="#95d840"/>
<rect x="1074" y="341" width="13" height="14" fill="#cae11f"/>
<rect x="1087" y="341" width="14" height="14" fill="#21a685"/>
<rect x="1101" y="341" width="13" height="14" fill="#63cb5f"/>
<rect x="1114" y="341" width="14" height="14" fill="#95d840"/>
<rect x="1128" y="341" width="13" height="14" fill="#44bf70"/>
<rect x="1141" y="341" width="14" height="14" fill="#21a685"/>
<rect x="1155" y="341" width="13" height="14" fill="#95d840"/>
<rect x="1168" y="341" width="14" height="14" fill="#44bf70"/>
<rect x="845" y="328" width="27" height="13" fill="#63cb5f"/>
<rect x="872" y="328" width="27" height="13" fill="#95d840"/>
<rect x="899" y="328" width="27" height="13" fill="#63cb5f"/>
<rect x="926" y="328" width="13" height="13" fill="#1f958b"/>
<rect x="939" y="328" width="14" height="13" fill="#44bf70"/>
<rect x="953" y="328" width="27" height="13" fill="#95d840"/>
<rect x="980" y="328" width="13" height="13" fill="#cae11f"/>
<rect x="993" y="328" width="14" height="13" fill="#440154"/>
<rect x="1007" y="328" width="13" height="13" fill="#21a685"/>
<rect x="1020" y="328" width="14" height="13" fill="#95d840"/>
<rect x="1034" y="328" width="13" height="13" fill="#2f6c8e"/>
<rect x="1047" y="328" width="27" height="13" fill="#95d840"/>
<rect x="1074" y="328" width="13" height="13" fill="#cae11f"/>
<rect x="1087" y="328" width="14" height="13" fill="#63cb5f"/>
<rect x="1101" y="328" width="27" height="13" fill="#cae11f"/>
<rect x="1128" y="328" width="40" height="13" fill="#44bf70"/>
<rect x="1168" y="328" width="14" height="13" fill="#2f6c8e"/>
<rect x="845" y="314" width="13" height="14" fill="#f1e51d"/>
<rect x="858" y="314" width="27" height="14" fill="#21a685"/>
<rect x="885" y="314" width="14" height="14" fill="#63cb5f"/>
<rect x="899" y="314" width="27" height="14" fill="#95d840"/>
<rect x="926" y="314" width="13" height="14" fill="#63cb5f"/>
<rect x="939" y="314" width="14" height="14" fill="#f1e51d"/>
<rect x="953" y="314" width="13" height="14" fill="#cae11f"/>
<rect x="966" y="314" width="14" height="14" fill="#63cb5f"/>
<rect x="980" y="314" width="13" height="14" fill="#cae11f"/>
<rect x="993" y="314" width="14" height="14" fill="#44bf70"/>
<rect x="1007" y="314" width="27" height="14" fill="#95d840"/>
<rect x="1034" y="314" width="13" height="14" fill="#cae11f"/>
<rect x="1047" y="314" width="14" height="14" fill="#44bf70"/>
<rect x="1061" y="314" width="13" height="14" fill="#cae11f"/>
<rect x="1074" y="314" width="13" height="14" fill="#f1e51d"/>
<rect x="1087" y="314" width="27" height="14" fill="#44bf70"/>
<rect x="1114" y="314" width="14" height="14" fill="#cae11f"/>
<rect x="1128" y="314" width="13" height="14" fill="#44bf70"/>
<rect x="1141" y="314" width="27" height="14" fill="#63cb5f"/>
<rect x="1168" y="314" width="14" height="14" fill="#cae11f"/>
<rect x="845" y="301" width="13" height="13" fill="#44bf70"/>
<rect x="858" y="301" width="14" height="13" fill="#95d840"/>
<rect x="872" y="301" width="13" height="13" fill="#cae11f"/>
<rect x="885" y="301" width="14" height="13" fill="#44bf70"/>
<rect x="899" y="301" width="13" height="13" fill="#440154"/>
<rect x="912" y="301" width="14" height="13" fill="#21a685"/>
<rect x="926" y="301" width="13" height="13" fill="#440154"/>
<rect x="939" y="301" width="14" height="13" fill="#95d840"/>
<rect x="953" y="301" width="13" height="13" fill="#44bf70"/>
<rect x="966" y="301" width="14" height="13" fill="#63cb5f"/>
<rect x="980" y="301" width="27" height="13" fill="#95d840"/>
<rect x="1007" y="301" width="13" height="13" fill="#cae11f"/>
<rect x="1020" y="301" width="41" height="13" fill="#95d840"/>
<rect x="1061" y="301" width="13" height="13" fill="#21a685"/>
<rect x="1074" y="301" width="27" height="13" fill="#95d840"/>
<rect x="1101" y="301" width="13" height="13" fill="#f1e51d"/>
<rect x="1114" y="301" width="14" height="13" fill="#21a685"/>
<rect x="1128" y="301" width="13" height="13" fill="#cae11f"/>
<rect x="1141" y="301" width="14" height="13" fill="#44bf70"/>
<rect x="1155" y="301" width="13" height="13" fill="#63cb5f"/>
<rect x="1168" y="301" width="14" height="13" fill="#44bf70"/>
<rect x="845" y="287" width="27" height="14" fill="#95d840"/>
<rect x="872" y="287" width="13" height="14" fill="#63cb5f"/>
<rect x="885" y="287" width="14" height="14" fill="#21a685"/>
<rect x="899" y="287" width="13" height="14" fill="#63cb5f"/>
<rect x="912" y="287" width="14" height="14" fill="#44bf70"/>
<rect x="926" y="287" width="27" height="14" fill="#95d840"/>
<rect x="953" y="287" width="13" height="14" fill="#44bf70"/>
<rect x="966" y="287" width="14" height="14" fill="#63cb5f"/>
<rect x="980" y="287" width="13" height="14" fill="#2f6c8e"/>
<rect x="993" y="287" width="14" height="14" fill="#63cb5f"/>
<rect x="1007" y="287" width="13" height="14" fill="#95d840"/>
<rect x="1020" y="287" width="14" height="14" fill="#44bf70"/>
<rect x="1034" y="287" width="13" height="14" fill="#95d840"/>
<rect x="1047" y="287" width="14" height="14" fill="#f1e51d"/>
<rect x="1061" y="287" width="13" height="14" fill="#44bf70"/>
<rect x="1074" y="287" width="13" height="14" fill="#1f958b"/>
<rect x="1087" y="287" width="27" height="14" fill="#63cb5f"/>
<rect x="1114" y="287" width="27" height="14" fill="#95d840"/>
<rect x="1141" y="287" width="14" height="14" fill="#63cb5f"/>
<rect x="1155" y="287" width="13" height="14" fill="#44bf70"/>
<rect x="1168" y="287" width="14" height="14" fill="#95d840"/>
<rect x="845" y="274" width="13" height="13" fill="#95d840"/>
<rect x="858" y="274" width="14" height="13" fill="#21a685"/>
<rect x="872" y="274" width="13" height="13" fill="#95d840"/>
<rect x="885" y="274" width="14" height="13" fill="#44bf70"/>
<rect x="899" y="274" width="13" height="13" fill="#cae11f"/>
<rect x="912" y="274" width="14" height="13" fill="#21a685"/>
<rect x="926" y="274" width="13" height="13" fill="#44bf70"/>
<rect x="939" y="274" width="14" height="13" fill="#21a685"/>
<rect x="953" y="274" width="13" height="13" fill="#3a548c"/>
<rect x="966" y="274" width="27" height="13" fill="#287d8e"/>
<rect x="993" y="274" width="14" height="13" fill="#44bf70"/>
<rect x="1007" y="274" width="13" height="13" fill="#2f6c8e"/>
<rect x="1020" y="274" width="14" height="13" fill="#cae11f"/>
<rect x="1034" y="274" width="27" height="13" fill="#95d840"/>
<rect x="1061" y="274" width="13" height="13" fill="#63cb5f"/>
<rect x="1074" y="274" width="13" height="13" fill="#cae11f"/>
<rect x="1087" y="274" width="27" height="13" fill="#95d840"/>
<rect x="1114" y="274" width="14" height="13" fill="#63cb5f"/>
<rect x="1128" y="274" width="13" height="13" fill="#21a685"/>
<rect x="1141" y="274" width="14" height="13" fill="#440154"/>
<rect x="1155" y="274" width="27" height="13" fill="#95d840"/>
<rect x="845" y="260" width="54" height="14" fill="#95d840"/>
<rect x="899" y="260" width="40" height="14" fill="#63cb5f"/>
<rect x="939" y="260" width="14" height="14" fill="#2f6c8e"/>
<rect x="953" y="260" width="13" height="14" fill="#1f958b"/>
<rect x="966" y="260" width="14" height="14" fill="#63cb5f"/>
<rect x="980" y="260" width="13" height="14" fill="#95d840"/>
<rect x="993" y="260" width="14" height="14" fill="#cae11f"/>
<rect x="1007" y="260" width="13" height="14" fill="#63cb5f"/>
<rect x="1020" y="260" width="14" height="14" fill="#95d840"/>
<rect x="1034" y="260" width="13" height="14" fill="#cae11f"/>
<rect x="1047" y="260" width="14" height="14" fill="#f1e51d"/>
<rect x="1061" y="260" width="26" height="14" fill="#95d840"/>
<rect x="1087" y="260" width="14" height="14" fill="#cae11f"/>
<rect x="1101" y="260" width="13" height="14" fill="#2f6c8e"/>
<rect x="1114" y="260" width="14" height="14" fill="#44bf70"/>
<rect x="1128" y="260" width="13" height="14" fill="#cae11f"/>
<rect x="1141" y="260" width="14" height="14" fill="#21a685"/>
<rect x="1155" y="260" width="13" height="14" fill="#95d840"/>
<rect x="1168" y="260" width="14" height="14" fill="#cae11f"/>
<rect x="845" y="247" width="13" height="13" fill="#95d840"/>
<rect x="858" y="247" width="14" height="13" fill="#cae11f"/>
<rect x="872" y="247" width="13" height="13" fill="#63cb5f"/>
<rect x="885" y="247" width="14" height="13" fill="#44bf70"/>
<rect x="899" y="247" width="27" height="13" fill="#63cb5f"/>
<rect x="926" y="247" width="13" height="13" fill="#95d840"/>
<rect x="939" y="247" width="14" height="13" fill="#63cb5f"/>
<rect x="953" y="247" width="13" height="13" fill="#cae11f"/>
<rect x="966" y="247" width="14" height="13" fill="#95d840"/>
<rect x="980" y="247" width="13" height="13" fill="#63cb5f"/>
<rect x="993" y="247" width="14" height="13" fill="#95d840"/>
<rect x="1007" y="247" width="13" height="13" fill="#44bf70"/>
<rect x="1020" y="247" width="54" height="13" fill="#cae11f"/>
<rect x="1074" y="247" width="13" height="13" fill="#95d840"/>
<rect x="1087" y="247" width="41" height="13" fill="#21a685"/>
<rect x="1128" y="247" width="13" height="13" fill="#cae11f"/>
<rect x="1141" y="247" width="27" height="13" fill="#95d840"/>
<rect x="1168" y="247" width="14" height="13" fill="#f1e51d"/>
<rect x="845" y="233" width="13" height="14" fill="#1f958b"/>
<rect x="858" y="233" width="14" height="14" fill="#95d840"/>
<rect x="872" y="233" width="13" height="14" fill="#63cb5f"/>
<rect x="885" y="233" width="14" height="14" fill="#44bf70"/>
<rect x="899" y="233" width="13" height="14" fill="#95d840"/>
<rect x="912" y="233" width="14" height="14" fill="#cae11f"/>
<rect x="926" y="233" width="13" height="14" fill="#63cb5f"/>
<rect x="939" y="233" width="14" height="14" fill="#cae11f"/>
<rect x="953" y="233" width="13" height="14" fill="#95d840"/>
<rect x="966" y="233" width="14" height="14" fill="#f1e51d"/>
<rect x="980" y="233" width="13" height="14" fill="#44bf70"/>
<rect x="993" y="233" width="14" height="14" fill="#21a685"/>
<rect x="1007" y="233" width="13" height="14" fill="#95d840"/>
<rect x="1020" y="233" width="14" height="14" fill="#21a685"/>
<rect x="1034" y="233" width="13" height="14" fill="#63cb5f"/>
<rect x="1047" y="233" width="14" height="14" fill="#95d840"/>
<rect x="1061" y="233" width="13" height="14" fill="#cae11f"/>
<rect x="1074" y="233" width="13" height="14" fill="#95d840"/>
<rect x="1087" y="233" width="27" height="14" fill="#cae11f"/>
<rect x="1114" y="233" width="14" height="14" fill="#63cb5f"/>
<rect x="1128" y="233" width="13" height="14" fill="#44bf70"/>
<rect x="1141" y="233" width="14" height="14" fill="#95d840"/>
<rect x="1155" y="233" width="13" height="14" fill="#63cb5f"/>
<rect x="1168" y="233" width="14" height="14" fill="#21a685"/>
<rect x="845" y="220" width="13" height="13" fill="#2f6c8e"/>
<rect x="858" y="220" width="27" height="13" fill="#95d840"/>
<rect x="885" y="220" width="14" height="13" fill="#44bf70"/>
<rect x="899" y="220" width="27" height="13" fill="#63cb5f"/>
<rect x="926" y="220" width="13" height="13" fill="#95d840"/>
<rect x="939" y="220" width="14" height="13" fill="#287d8e"/>
<rect x="953" y="220" width="13" height="13" fill="#cae11f"/>
<rect x="966" y="220" width="27" height="13" fill="#95d840"/>
<rect x="993" y="220" width="14" height="13" fill="#44bf70"/>
<rect x="1007" y="220" width="13" height="13" fill="#95d840"/>
<rect x="1020" y="220" width="14" height="13" fill="#cae11f"/>
<rect x="1034" y="220" width="13" height="13" fill="#63cb5f"/>
<rect x="1047" y="220" width="27" height="13" fill="#cae11f"/>
<rect x="1074" y="220" width="27" height="13" fill="#44bf70"/>
<rect x="1101" y="220" width="13" height="13" fill="#95d840"/>
<rect x="1114" y="220" width="14" height="13" fill="#63cb5f"/>
<rect x="1128" y="220" width="13" height="13" fill="#2f6c8e"/>
<rect x="1141" y="220" width="14" height="13" fill="#44bf70"/>
<rect x="1155" y="220" width="13" height="13" fill="#287d8e"/>
<rect x="1168" y="220" width="14" height="13" fill="#63cb5f"/>
<rect x="845" y="206" width="13" height="14" fill="#63cb5f"/>
<rect x="858" y="206" width="27" height="14" fill="#21a685"/>
<rect x="885" y="206" width="14" height="14" fill="#44bf70"/>
<rect x="899" y="206" width="13" height="14" fill="#21a685"/>
<rect x="912" y="206" width="14" height="14" fill="#63cb5f"/>
<rect x="926" y="206" width="13" height="14" fill="#44bf70"/>
<rect x="939" y="206" width="14" height="14" fill="#63cb5f"/>
<rect x="953" y="206" width="27" height="14" fill="#cae11f"/>
<rect x="980" y="206" width="13" height="14" fill="#63cb5f"/>
<rect x="993" y="206" width="14" height="14" fill="#287d8e"/>
<rect x="1007" y="206" width="13" height="14" fill="#63cb5f"/>
<rect x="1020" y="206" width="14" height="14" fill="#f1e51d"/>
<rect x="1034" y="206" width="27" height="14" fill="#63cb5f"/>
<rect x="1061" y="206" width="13" height="14" fill="#44bf70"/>
<rect x="1074" y="206" width="27" height="14" fill="#cae11f"/>
<rect x="1101" y="206" width="13" height="14" fill="#95d840"/>
<rect x="1114" y="206" width="14" height="14" fill="#63cb5f"/>
<rect x="1128" y="206" width="13" height="14" fill="#44bf70"/>
<rect x="1141" y="206" width="14" height="14" fill="#287d8e"/>
<rect x="1155" y="206" width="13" height="14" fill="#95d840"/>
<rect x="1168" y="206" width="14" height="14" fill="#44bf70"/>
<rect x="845" y="193" width="13" height="13" fill="#cae11f"/>
<rect x="858" y="193" width="14" height="13" fill="#63cb5f"/>
<rect x="872" y="193" width="13" height="13" fill="#95d840"/>
<rect x="885" y="193" width="14" height="13" fill="#44bf70"/>
<rect x="899" y="193" width="13" height="13" fill="#21a685"/>
<rect x="912" y="193" width="14" height="13" fill="#cae11f"/>
<rect x="926" y="193" width="13" height="13" fill="#21a685"/>
<rect x="939" y="193" width="14" height="13" fill="#63cb5f"/>
<rect x="953" y="193" width="13" height="13" fill="#cae11f"/>
<rect x="966" y="193" width="14" height="13" fill="#f1e51d"/>
<rect x="980" y="193" width="13" height="13" fill="#63cb5f"/>
<rect x="993" y="193" width="54" height="13" fill="#f1e51d"/>
<rect x="1047" y="193" width="27" height="13" fill="#cae11f"/>
<rect x="1074" y="193" width="13" height="13" fill="#21a685"/>
<rect x="1087" y="193" width="14" height="13" fill="#f1e51d"/>
<rect x="1101" y="193" width="13" height="13" fill="#cae11f"/>
<rect x="1114" y="193" width="14" height="13" fill="#44bf70"/>
<rect x="1128" y="193" width="13" height="13" fill="#287d8e"/>
<rect x="1141" y="193" width="27" height="13" fill="#95d840"/>
<rect x="1168" y="193" width="14" height="13" fill="#21a685"/>
<rect x="845" y="179" width="27" height="14" fill="#21a685"/>
<rect x="872" y="179" width="13" height="14" fill="#cae11f"/>
<rect x="885" y="179" width="14" height="14" fill="#63cb5f"/>
<rect x="899" y="179" width="13" height="14" fill="#21a685"/>
<rect x="912" y="179" width="14" height="14" fill="#63cb5f"/>
<rect x="926" y="179" width="13" height="14" fill="#cae11f"/>
<rect x="939" y="179" width="14" height="14" fill="#63cb5f"/>
<rect x="953" y="179" width="27" height="14" fill="#95d840"/>
<rect x="980" y="179" width="13" height="14" fill="#1f958b"/>
<rect x="993" y="179" width="14" height="14" fill="#cae11f"/>
<rect x="1007" y="179" width="13" height="14" fill="#f1e51d"/>
<rect x="1020" y="179" width="14" height="14" fill="#cae11f"/>
<rect x="1034" y="179" width="13" height="14" fill="#21a685"/>
<rect x="1047" y="179" width="14" height="14" fill="#95d840"/>
<rect x="1061" y="179" width="26" height="14" fill="#63cb5f"/>
<rect x="1087" y="179" width="14" height="14" fill="#44bf70"/>
<rect x="1101" y="179" width="13" height="14" fill="#63cb5f"/>
<rect x="1114" y="179" width="14" height="14" fill="#95d840"/>
<rect x="1128" y="179" width="13" height="14" fill="#cae11f"/>
<rect x="1141" y="179" width="14" height="14" fill="#21a685"/>
<rect x="1155" y="179" width="13" height="14" fill="#95d840"/>
<rect x="1168" y="179" width="14" height="14" fill="#481d6f"/>
<rect x="845" y="166" width="13" height="13" fill="#44bf70"/>
<rect x="858" y="166" width="14" height="13" fill="#21a685"/>
<rect x="872" y="166" width="13" height="13" fill="#95d840"/>
<rect x="885" y="166" width="41" height="13" fill="#cae11f"/>
<rect x="926" y="166" width="13" height="13" fill="#63cb5f"/>
<rect x="939" y="166" width="14" height="13" fill="#cae11f"/>
<rect x="953" y="166" width="27" height="13" fill="#95d840"/>
<rect x="980" y="166" width="13" height="13" fill="#cae11f"/>
<rect x="993" y="166" width="27" height="13" fill="#63cb5f"/>
<rect x="1020" y="166" width="14" height="13" fill="#21a685"/>
<rect x="1034" y="166" width="13" height="13" fill="#95d840"/>
<rect x="1047" y="166" width="14" height="13" fill="#cae11f"/>
<rect x="1061" y="166" width="13" height="13" fill="#63cb5f"/>
<rect x="1074" y="166" width="40" height="13" fill="#95d840"/>
<rect x="1114" y="166" width="14" height="13" fill="#44bf70"/>
<rect x="1128" y="166" width="27" height="13" fill="#95d840"/>
<rect x="1155" y="166" width="13" height="13" fill="#44bf70"/>
<rect x="1168" y="166" width="14" height="13" fill="#440154"/>
<rect x="845" y="152" width="13" height="14" fill="#63cb5f"/>
<rect x="858" y="152" width="14" height="14" fill="#cae11f"/>
<rect x="872" y="152" width="13" height="14" fill="#95d840"/>
<rect x="885" y="152" width="14" height="14" fill="#2f6c8e"/>
<rect x="899" y="152" width="27" height="14" fill="#f1e51d"/>
<rect x="926" y="152" width="13" height="14" fill="#63cb5f"/>
<rect x="939" y="152" width="14" height="14" fill="#f1e51d"/>
<rect x="953" y="152" width="27" height="14" fill="#21a685"/>
<rect x="980" y="152" width="13" height="14" fill="#63cb5f"/>
<rect x="993" y="152" width="14" height="14" fill="#95d840"/>
<rect x="1007" y="152" width="13" height="14" fill="#44bf70"/>
<rect x="1020" y="152" width="14" height="14" fill="#95d840"/>
<rect x="1034" y="152" width="13" height="14" fill="#cae11f"/>
<rect x="1047" y="152" width="14" height="14" fill="#f1e51d"/>
<rect x="1061" y="152" width="40" height="14" fill="#44bf70"/>
<rect x="1101" y="152" width="13" height="14" fill="#cae11f"/>
<rect x="1114" y="152" width="14" height="14" fill="#287d8e"/>
<rect x="1128" y="152" width="13" height="14" fill="#2f6c8e"/>
<rect x="1141" y="152" width="14" height="14" fill="#44bf70"/>
<rect x="1155" y="152" width="13" height="14" fill="#95d840"/>
<rect x="1168" y="152" width="14" height="14" fill="#21a685"/>
<rect x="845" y="139" width="13" height="13" fill="#21a685"/>
<rect x="858" y="139" width="14" height="13" fill="#2f6c8e"/>
<rect x="872" y="139" width="13" height="13" fill="#21a685"/>
<rect x="885" y="139" width="14" height="13" fill="#3a548c"/>
<rect x="899" y="139" width="13" height="13" fill="#44bf70"/>
<rect x="912" y="139" width="27" height="13" fill="#cae11f"/>
<rect x="939" y="139" width="14" height="13" fill="#63cb5f"/>
<rect x="953" y="139" width="13" height="13" fill="#95d840"/>
<rect x="966" y="139" width="14" height="13" fill="#63cb5f"/>
<rect x="980" y="139" width="13" height="13" fill="#44bf70"/>
<rect x="993" y="139" width="14" height="13" fill="#cae11f"/>
<rect x="1007" y="139" width="13" height="13" fill="#44bf70"/>
<rect x="1020" y="139" width="14" height="13" fill="#1f958b"/>
<rect x="1034" y="139" width="13" height="13" fill="#44bf70"/>
<rect x="1047" y="139" width="14" height="13" fill="#cae11f"/>
<rect x="1061" y="139" width="13" height="13" fill="#44bf70"/>
<rect x="1074" y="139" width="27" height="13" fill="#cae11f"/>
<rect x="1101" y="139" width="27" height="13" fill="#21a685"/>
<rect x="1128" y="139" width="13" height="13" fill="#44bf70"/>
<rect x="1141" y="139" width="14" height="13" fill="#95d840"/>
<rect x="1155" y="139" width="13" height="13" fill="#63cb5f"/>
<rect x="1168" y="139" width="14" height="13" fill="#44bf70"/>
<rect x="845" y="125" width="13" height="14" fill="#95d840"/>
<rect x="858" y="125" width="14" height="14" fill="#44bf70"/>
<rect x="872" y="125" width="13" height="14" fill="#21a685"/>
<rect x="885" y="125" width="14" height="14" fill="#95d840"/>
<rect x="899" y="125" width="13" height="14" fill="#63cb5f"/>
<rect x="912" y="125" width="14" height="14" fill="#95d840"/>
<rect x="926" y="125" width="13" height="14" fill="#63cb5f"/>
<rect x="939" y="125" width="54" height="14" fill="#95d840"/>
<rect x="993" y="125" width="14" height="14" fill="#63cb5f"/>
<rect x="1007" y="125" width="13" height="14" fill="#cae11f"/>
<rect x="1020" y="125" width="14" height="14" fill="#95d840"/>
<rect x="1034" y="125" width="13" height="14" fill="#44bf70"/>
<rect x="1047" y="125" width="14" height="14" fill="#cae11f"/>
<rect x="1061" y="125" width="13" height="14" fill="#95d840"/>
<rect x="1074" y="125" width="13" height="14" fill="#44bf70"/>
<rect x="1087" y="125" width="14" height="14" fill="#63cb5f"/>
<rect x="1101" y="125" width="13" height="14" fill="#95d840"/>
<rect x="1114" y="125" width="14" height="14" fill="#63cb5f"/>
<rect x="1128" y="125" width="13" height="14" fill="#95d840"/>
<rect x="1141" y="125" width="27" height="14" fill="#63cb5f"/>
<rect x="1168" y="125" width="14" height="14" fill="#f1e51d"/>
<rect x="845" y="112" width="13" height="13" fill="#95d840"/>
<rect x="858" y="112" width="14" height="13" fill="#21a685"/>
<rect x="872" y="112" width="13" height="13" fill="#95d840"/>
<rect x="885" y="112" width="14" height="13" fill="#21a685"/>
<rect x="899" y="112" width="13" height="13" fill="#63cb5f"/>
<rect x="912" y="112" width="14" height="13" fill="#cae11f"/>
<rect x="926" y="112" width="13" height="13" fill="#443a83"/>
<rect x="939" y="112" width="14" height="13" fill="#2f6c8e"/>
<rect x="953" y="112" width="13" height="13" fill="#95d840"/>
<rect x="966" y="112" width="27" height="13" fill="#cae11f"/>
<rect x="993" y="112" width="14" height="13" fill="#3a548c"/>
<rect x="1007" y="112" width="13" height="13" fill="#95d840"/>
<rect x="1020" y="112" width="14" height="13" fill="#f1e51d"/>
<rect x="1034" y="112" width="27" height="13" fill="#95d840"/>
<rect x="1061" y="112" width="13" height="13" fill="#cae11f"/>
<rect x="1074" y="112" width="13" height="13" fill="#f1e51d"/>
<rect x="1087" y="112" width="14" height="13" fill="#cae11f"/>
<rect x="1101" y="112" width="13" height="13" fill="#44bf70"/>
<rect x="1114" y="112" width="14" height="13" fill="#63cb5f"/>
<rect x="1128" y="112" width="13" height="13" fill="#21a685"/>
<rect x="1141" y="112" width="14" height="13" fill="#95d840"/>
<rect x="1155" y="112" width="13" height="13" fill="#63cb5f"/>
<rect x="1168" y="112" width="14" height="13" fill="#3a548c"/>
<rect x="845" y="98" width="13" height="14" fill="#63cb5f"/>
<rect x="858" y="98" width="14" height="14" fill="#95d840"/>
<rect x="872" y="98" width="13" height="14" fill="#287d8e"/>
<rect x="885" y="98" width="14" height="14" fill="#44bf70"/>
<rect x="899" y="98" width="13" height="14" fill="#63cb5f"/>
<rect x="912" y="98" width="14" height="14" fill="#95d840"/>
<rect x="926" y="98" width="27" height="14" fill="#44bf70"/>
<rect x="953" y="98" width="13" height="14" fill="#287d8e"/>
<rect x="966" y="98" width="14" height="14" fill="#63cb5f"/>
<rect x="980" y="98" width="27" height="14" fill="#95d840"/>
<rect x="1007" y="98" width="27" height="14" fill="#cae11f"/>
<rect x="1034" y="98" width="13" height="14" fill="#63cb5f"/>
<rect x="1047" y="98" width="40" height="14" fill="#95d840"/>
<rect x="1087" y="98" width="14" height="14" fill="#63cb5f"/>
<rect x="1101" y="98" width="13" height="14" fill="#95d840"/>
<rect x="1114" y="98" width="14" height="14" fill="#63cb5f"/>
<rect x="1128" y="98" width="40" height="14" fill="#cae11f"/>
<rect x="1168" y="98" width="14" height="14" fill="#440154"/>
<rect x="845" y="85" width="13" height="13" fill="#443a83"/>
<rect x="858" y="85" width="27" height="13" fill="#2f6c8e"/>
<rect x="885" y="85" width="14" height="13" fill="#63cb5f"/>
<rect x="899" y="85" width="13" height="13" fill="#95d840"/>
<rect x="912" y="85" width="14" height="13" fill="#2f6c8e"/>
<rect x="926" y="85" width="13" height="13" fill="#21a685"/>
<rect x="939" y="85" width="14" height="13" fill="#cae11f"/>
<rect x="953" y="85" width="13" height="13" fill="#21a685"/>
<rect x="966" y="85" width="27" height="13" fill="#63cb5f"/>
<rect x="993" y="85" width="14" height="13" fill="#cae11f"/>
<rect x="1007" y="85" width="13" height="13" fill="#63cb5f"/>
<rect x="1020" y="85" width="14" height="13" fill="#f1e51d"/>
<rect x="1034" y="85" width="13" height="13" fill="#63cb5f"/>
<rect x="1047" y="85" width="14" height="13" fill="#21a685"/>
<rect x="1061" y="85" width="13" height="13" fill="#95d840"/>
<rect x="1074" y="85" width="13" height="13" fill="#cae11f"/>
<rect x="1087" y="85" width="27" height="13" fill="#95d840"/>
<rect x="1114" y="85" width="14" height="13" fill="#21a685"/>
<rect x="1128" y="85" width="13" height="13" fill="#63cb5f"/>
<rect x="1141" y="85" width="14" height="13" fill="#cae11f"/>
<rect x="1155" y="85" width="13" height="13" fill="#95d840"/>
<rect x="1168" y="85" width="14" height="13" fill="#44bf70"/>
<rect x="845" y="71" width="13" height="14" fill="#f1e51d"/>
<rect x="858" y="71" width="14" height="14" fill="#21a685"/>
<rect x="872" y="71" width="13" height="14" fill="#44bf70"/>
<rect x="885" y="71" width="14" height="14" fill="#63cb5f"/>
<rect x="899" y="71" width="13" height="14" fill="#44bf70"/>
<rect x="912" y="71" width="14" height="14" fill="#287d8e"/>
<rect x="926" y="71" width="13" height="14" fill="#63cb5f"/>
<rect x="939" y="71" width="14" height="14" fill="#f1e51d"/>
<rect x="953" y="71" width="13" height="14" fill="#21a685"/>
<rect x="966" y="71" width="14" height="14" fill="#f1e51d"/>
<rect x="980" y="71" width="13" height="14" fill="#cae11f"/>
<rect x="993" y="71" width="14" height="14" fill="#44bf70"/>
<rect x="1007" y="71" width="13" height="14" fill="#cae11f"/>
<rect x="1020" y="71" width="14" height="14" fill="#63cb5f"/>
<rect x="1034" y="71" width="13" height="14" fill="#2f6c8e"/>
<rect x="1047" y="71" width="14" height="14" fill="#440154"/>
<rect x="1061" y="71" width="13" height="14" fill="#63cb5f"/>
<rect x="1074" y="71" width="13" height="14" fill="#95d840"/>
<rect x="1087" y="71" width="14" height="14" fill="#2f6c8e"/>
<rect x="1101" y="71" width="13" height="14" fill="#95d840"/>
<rect x="1114" y="71" width="14" height="14" fill="#44bf70"/>
<rect x="1128" y="71" width="13" height="14" fill="#287d8e"/>
<rect x="1141" y="71" width="14" height="14" fill="#f1e51d"/>
<rect x="1155" y="71" width="13" height="14" fill="#95d840"/>
<rect x="1168" y="71" width="14" height="14" fill="#21a685"/>
<rect x="845" y="58" width="13" height="13" fill="#95d840"/>
<rect x="858" y="58" width="14" height="13" fill="#63cb5f"/>
<rect x="872" y="58" width="13" height="13" fill="#44bf70"/>
<rect x="885" y="58" width="14" height="13" fill="#63cb5f"/>
<rect x="899" y="58" width="13" height="13" fill="#2f6c8e"/>
<rect x="912" y="58" width="14" height="13" fill="#63cb5f"/>
<rect x="926" y="58" width="13" height="13" fill="#f1e51d"/>
<rect x="939" y="58" width="14" height="13" fill="#1f958b"/>
<rect x="953" y="58" width="13" height="13" fill="#21a685"/>
<rect x="966" y="58" width="27" height="13" fill="#95d840"/>
<rect x="993" y="58" width="14" height="13" fill="#44bf70"/>
<rect x="1007" y="58" width="13" height="13" fill="#95d840"/>
<rect x="1020" y="58" width="14" height="13" fill="#1f958b"/>
<rect x="1034" y="58" width="13" height="13" fill="#63cb5f"/>
<rect x="1047" y="58" width="27" height="13" fill="#44bf70"/>
<rect x="1074" y="58" width="27" height="13" fill="#95d840"/>
<rect x="1101" y="58" width="13" height="13" fill="#44bf70"/>
<rect x="1114" y="58" width="14" height="13" fill="#95d840"/>
<rect x="1128" y="58" width="13" height="13" fill="#21a685"/>
<rect x="1141" y="58" width="14" height="13" fill="#95d840"/>
<rect x="1155" y="58" width="13" height="13" fill="#2f6c8e"/>
<rect x="1168" y="58" width="14" height="13" fill="#21a685"/>
<rect x="845" y="44" width="13" height="14" fill="#f1e51d"/>
<rect x="858" y="44" width="14" height="14" fill="#95d840"/>
<rect x="872" y="44" width="13" height="14" fill="#21a685"/>
<rect x="885" y="44" width="14" height="14" fill="#63cb5f"/>
<rect x="899" y="44" width="13" height="14" fill="#95d840"/>
<rect x="912" y="44" width="14" height="14" fill="#21a685"/>
<rect x="926" y="44" width="27" height="14" fill="#63cb5f"/>
<rect x="953" y="44" width="13" height="14" fill="#21a685"/>
<rect x="966" y="44" width="14" height="14" fill="#287d8e"/>
<rect x="980" y="44" width="13" height="14" fill="#cae11f"/>
<rect x="993" y="44" width="14" height="14" fill="#2f6c8e"/>
<rect x="1007" y="44" width="13" height="14" fill="#44bf70"/>
<rect x="1020" y="44" width="14" height="14" fill="#95d840"/>
<rect x="1034" y="44" width="13" height="14" fill="#63cb5f"/>
<rect x="1047" y="44" width="14" height="14" fill="#44bf70"/>
<rect x="1061" y="44" width="13" height="14" fill="#2f6c8e"/>
<rect x="1074" y="44" width="13" height="14" fill="#44bf70"/>
<rect x="1087" y="44" width="41" height="14" fill="#95d840"/>
<rect x="1128" y="44" width="13" height="14" fill="#21a685"/>
<rect x="1141" y="44" width="14" height="14" fill="#44bf70"/>
<rect x="1155" y="44" width="13" height="14" fill="#287d8e"/>
<rect x="1168" y="44" width="14" height="14" fill="#2f6c8e"/>
<rect x="845" y="32" width="13" height="12" fill="#cae11f"/>
<rect x="858" y="32" width="14" height="12" fill="#95d840"/>
<rect x="872" y="32" width="13" height="12" fill="#2f6c8e"/>
<rect x="885" y="32" width="27" height="12" fill="#cae11f"/>
<rect x="912" y="32" width="14" height="12" fill="#63cb5f"/>
<rect x="926" y="32" width="13" height="12" fill="#95d840"/>
<rect x="939" y="32" width="14" height="12" fill="#44bf70"/>
<rect x="953" y="32" width="13" height="12" fill="#21a685"/>
<rect x="966" y="32" width="81" height="12" fill="#63cb5f"/>
<rect x="1047" y="32" width="14" height="12" fill="#44bf70"/>
<rect x="1061" y="32" width="13" height="12" fill="#95d840"/>
<rect x="1074" y="32" width="13" height="12" fill="#f1e51d"/>
<rect x="1087" y="32" width="14" height="12" fill="#95d840"/>
<rect x="1101" y="32" width="13" height="12" fill="#cae11f"/>
<rect x="1114" y="32" width="14" height="12" fill="#f1e51d"/>
<rect x="1128" y="32" width="13" height="12" fill="#1f958b"/>
<rect x="1141" y="32" width="14" height="12" fill="#2f6c8e"/>
<rect x="1155" y="32" width="13" height="12" fill="#287d8e"/>
<rect x="1168" y="32" width="14" height="12" fill="#63cb5f"/>
</g>
<path d="M851.74 368.20v-5.50M851.74 32.30v5.50M845.00 361.40h5.50M1181.80 361.40h-5.50M919.10 368.20v-5.50M919.10 32.30v5.50M845.00 293.90h5.50M1181.80 293.90h-5.50M986.46 368.20v-5.50M986.46 32.30v5.50M845.00 226.40h5.50M1181.80 226.40h-5.50M1053.82 368.20v-5.50M1053.82 32.30v5.50M845.00 158.90h5.50M1181.80 158.90h-5.50M1121.18 368.20v-5.50M1121.18 32.30v5.50M845.00 91.40h5.50M1181.80 91.40h-5.50" stroke="#000" stroke-width="1.0" fill="none"/>
<rect x="845.00" y="32.30" width="336.80" height="335.90" fill="none" stroke="#000" stroke-width="1.4"/>
<text x="851.74" y="387.80" font-size="17.5" text-anchor="middle">0</text>
<text x="837.50" y="366.60" font-size="17.5" text-anchor="end">0</text>
<text x="919.10" y="387.80" font-size="17.5" text-anchor="middle">5</text>
<text x="837.50" y="299.10" font-size="17.5" text-anchor="end">5</text>
<text x="986.46" y="387.80" font-size="17.5" text-anchor="middle">10</text>
<text x="837.50" y="231.60" font-size="17.5" text-anchor="end">10</text>
<text x="1053.82" y="387.80" font-size="17.5" text-anchor="middle">15</text>
<text x="837.50" y="164.10" font-size="17.5" text-anchor="end">15</text>
<text x="1121.18" y="387.80" font-size="17.5" text-anchor="middle">20</text>
<text x="837.50" y="96.60" font-size="17.5" text-anchor="end">20</text>
<text x="1013.70" y="24.50" font-size="21.0" text-anchor="middle" letter-spacing="0.60">ACS Total</text>
<g shape-rendering="crispEdges">
<rect x="1245" y="355" width="13" height="13" fill="#3a548c"/>
<rect x="1258" y="355" width="13" height="13" fill="#443a83"/>
<rect x="1271" y="355" width="14" height="13" fill="#44bf70"/>
<rect x="1285" y="355" width="54" height="13" fill="#63cb5f"/>
<rect x="1339" y="355" width="13" height="13" fill="#44bf70"/>
<rect x="1352" y="355" width="14" height="13" fill="#63cb5f"/>
<rect x="1366" y="355" width="13" height="13" fill="#21a685"/>
<rect x="1379" y="355" width="14" height="13" fill="#287d8e"/>
<rect x="1393" y="355" width="27" height="13" fill="#44bf70"/>
<rect x="1420" y="355" width="27" height="13" fill="#21a685"/>
<rect x="1447" y="355" width="13" height="13" fill="#481d6f"/>
<rect x="1460" y="355" width="14" height="13" fill="#440154"/>
<rect x="1474" y="355" width="13" height="13" fill="#2f6c8e"/>
<rect x="1487" y="355" width="13" height="13" fill="#21a685"/>
<rect x="1500" y="355" width="27" height="13" fill="#1f958b"/>
<rect x="1527" y="355" width="14" height="13" fill="#481d6f"/>
<rect x="1541" y="355" width="13" height="13" fill="#21a685"/>
<rect x="1554" y="355" width="14" height="13" fill="#44bf70"/>
<rect x="1568" y="355" width="13" height="13" fill="#21a685"/>
<rect x="1245" y="341" width="13" height="14" fill="#481d6f"/>
<rect x="1258" y="341" width="13" height="14" fill="#443a83"/>
<rect x="1271" y="341" width="14" height="14" fill="#44bf70"/>
<rect x="1285" y="341" width="27" height="14" fill="#63cb5f"/>
<rect x="1312" y="341" width="27" height="14" fill="#95d840"/>
<rect x="1339" y="341" width="13" height="14" fill="#63cb5f"/>
<rect x="1352" y="341" width="14" height="14" fill="#44bf70"/>
<rect x="1366" y="341" width="13" height="14" fill="#63cb5f"/>
<rect x="1379" y="341" width="41" height="14" fill="#44bf70"/>
<rect x="1420" y="341" width="13" height="14" fill="#21a685"/>
<rect x="1433" y="341" width="14" height="14" fill="#3a548c"/>
<rect x="1447" y="341" width="40" height="14" fill="#440154"/>
<rect x="1487" y="341" width="13" height="14" fill="#21a685"/>
<rect x="1500" y="341" width="14" height="14" fill="#44bf70"/>
<rect x="1514" y="341" width="13" height="14" fill="#21a685"/>
<rect x="1527" y="341" width="27" height="14" fill="#3a548c"/>
<rect x="1554" y="341" width="14" height="14" fill="#443a83"/>
<rect x="1568" y="341" width="13" height="14" fill="#21a685"/>
<rect x="1245" y="328" width="13" height="13" fill="#443a83"/>
<rect x="1258" y="328" width="13" height="13" fill="#481d6f"/>
<rect x="1271" y="328" width="14" height="13" fill="#1f958b"/>
<rect x="1285" y="328" width="13" height="13" fill="#63cb5f"/>
<rect x="1298" y="328" width="14" height="13" fill="#44bf70"/>
<rect x="1312" y="328" width="13" height="13" fill="#63cb5f"/>
<rect x="1325" y="328" width="14" height="13" fill="#95d840"/>
<rect x="1339" y="328" width="13" height="13" fill="#44bf70"/>
<rect x="1352" y="328" width="14" height="13" fill="#287d8e"/>
<rect x="1366" y="328" width="13" height="13" fill="#1f958b"/>
<rect x="1379" y="328" width="14" height="13" fill="#21a685"/>
<rect x="1393" y="328" width="13" height="13" fill="#1f958b"/>
<rect x="1406" y="328" width="14" height="13" fill="#2f6c8e"/>
<rect x="1420" y="328" width="27" height="13" fill="#287d8e"/>
<rect x="1447" y="328" width="13" height="13" fill="#3a548c"/>
<rect x="1460" y="328" width="40" height="13" fill="#21a685"/>
<rect x="1500" y="328" width="14" height="13" fill="#44bf70"/>
<rect x="1514" y="328" width="13" height="13" fill="#287d8e"/>
<rect x="1527" y="328" width="14" height="13" fill="#481d6f"/>
<rect x="1541" y="328" width="13" height="13" fill="#2f6c8e"/>
<rect x="1554" y="328" width="14" height="13" fill="#3a548c"/>
<rect x="1568" y="328" width="13" height="13" fill="#287d8e"/>
<rect x="1245" y="314" width="13" height="14" fill="#287d8e"/>
<rect x="1258" y="314" width="13" height="14" fill="#1f958b"/>
<rect x="1271" y="314" width="14" height="14" fill="#440154"/>
<rect x="1285" y="314" width="13" height="14" fill="#287d8e"/>
<rect x="1298" y="314" width="27" height="14" fill="#44bf70"/>
<rect x="1325" y="314" width="14" height="14" fill="#95d840"/>
<rect x="1339" y="314" width="13" height="14" fill="#44bf70"/>
<rect x="1352" y="314" width="14" height="14" fill="#1f958b"/>
<rect x="1366" y="314" width="13" height="14" fill="#287d8e"/>
<rect x="1379" y="314" width="14" height="14" fill="#1f958b"/>
<rect x="1393" y="314" width="13" height="14" fill="#2f6c8e"/>
<rect x="1406" y="314" width="14" height="14" fill="#3a548c"/>
<rect x="1420" y="314" width="13" height="14" fill="#1f958b"/>
<rect x="1433" y="314" width="14" height="14" fill="#287d8e"/>
<rect x="1447" y="314" width="13" height="14" fill="#21a685"/>
<rect x="1460" y="314" width="14" height="14" fill="#44bf70"/>
<rect x="1474" y="314" width="40" height="14" fill="#21a685"/>
<rect x="1514" y="314" width="13" height="14" fill="#3a548c"/>
<rect x="1527" y="314" width="14" height="14" fill="#440154"/>
<rect x="1541" y="314" width="13" height="14" fill="#443a83"/>
<rect x="1554" y="314" width="14" height="14" fill="#44bf70"/>
<rect x="1568" y="314" width="13" height="14" fill="#1f958b"/>
<rect x="1245" y="301" width="13" height="13" fill="#1f958b"/>
<rect x="1258" y="301" width="13" height="13" fill="#21a685"/>
<rect x="1271" y="301" width="27" height="13" fill="#443a83"/>
<rect x="1298" y="301" width="14" height="13" fill="#287d8e"/>
<rect x="1312" y="301" width="13" height="13" fill="#21a685"/>
<rect x="1325" y="301" width="27" height="13" fill="#63cb5f"/>
<rect x="1352" y="301" width="14" height="13" fill="#44bf70"/>
<rect x="1366" y="301" width="13" height="13" fill="#287d8e"/>
<rect x="1379" y="301" width="27" height="13" fill="#21a685"/>
<rect x="1406" y="301" width="14" height="13" fill="#44bf70"/>
<rect x="1420" y="301" width="13" height="13" fill="#1f958b"/>
<rect x="1433" y="301" width="14" height="13" fill="#287d8e"/>
<rect x="1447" y="301" width="13" height="13" fill="#1f958b"/>
<rect x="1460" y="301" width="14" height="13" fill="#44bf70"/>
<rect x="1474" y="301" width="13" height="13" fill="#63cb5f"/>
<rect x="1487" y="301" width="13" height="13" fill="#21a685"/>
<rect x="1500" y="301" width="14" height="13" fill="#1f958b"/>
<rect x="1514" y="301" width="13" height="13" fill="#2f6c8e"/>
<rect x="1527" y="301" width="14" height="13" fill="#287d8e"/>
<rect x="1541" y="301" width="13" height="13" fill="#21a685"/>
<rect x="1554" y="301" width="14" height="13" fill="#95d840"/>
<rect x="1568" y="301" width="13" height="13" fill="#44bf70"/>
<rect x="1245" y="287" width="13" height="14" fill="#2f6c8e"/>
<rect x="1258" y="287" width="54" height="14" fill="#1f958b"/>
<rect x="1312" y="287" width="13" height="14" fill="#21a685"/>
<rect x="1325" y="287" width="14" height="14" fill="#44bf70"/>
<rect x="1339" y="287" width="13" height="14" fill="#21a685"/>
<rect x="1352" y="287" width="14" height="14" fill="#44bf70"/>
<rect x="1366" y="287" width="13" height="14" fill="#21a685"/>
<rect x="1379" y="287" width="41" height="14" fill="#63cb5f"/>
<rect x="1420" y="287" width="13" height="14" fill="#21a685"/>
<rect x="1433" y="287" width="14" height="14" fill="#443a83"/>
<rect x="1447" y="287" width="13" height="14" fill="#3a548c"/>
<rect x="1460" y="287" width="14" height="14" fill="#63cb5f"/>
<rect x="1474" y="287" width="13" height="14" fill="#95d840"/>
<rect x="1487" y="287" width="13" height="14" fill="#21a685"/>
<rect x="1500" y="287" width="14" height="14" fill="#44bf70"/>
<rect x="1514" y="287" width="13" height="14" fill="#63cb5f"/>
<rect x="1527" y="287" width="14" height="14" fill="#44bf70"/>
<rect x="1541" y="287" width="13" height="14" fill="#21a685"/>
<rect x="1554" y="287" width="14" height="14" fill="#44bf70"/>
<rect x="1568" y="287" width="13" height="14" fill="#21a685"/>
<rect x="1245" y="274" width="26" height="13" fill="#3a548c"/>
<rect x="1271" y="274" width="14" height="13" fill="#287d8e"/>
<rect x="1285" y="274" width="13" height="13" fill="#21a685"/>
<rect x="1298" y="274" width="41" height="13" fill="#44bf70"/>
<rect x="1339" y="274" width="13" height="13" fill="#21a685"/>
<rect x="1352" y="274" width="41" height="13" fill="#95d840"/>
<rect x="1393" y="274" width="27" height="13" fill="#63cb5f"/>
<rect x="1420" y="274" width="13" height="13" fill="#44bf70"/>
<rect x="1433" y="274" width="14" height="13" fill="#1f958b"/>
<rect x="1447" y="274" width="13" height="13" fill="#481d6f"/>
<rect x="1460" y="274" width="14" height="13" fill="#44bf70"/>
<rect x="1474" y="274" width="13" height="13" fill="#63cb5f"/>
<rect x="1487" y="274" width="13" height="13" fill="#21a685"/>
<rect x="1500" y="274" width="14" height="13" fill="#44bf70"/>
<rect x="1514" y="274" width="27" height="13" fill="#63cb5f"/>
<rect x="1541" y="274" width="40" height="13" fill="#21a685"/>
<rect x="1245" y="260" width="13" height="14" fill="#2f6c8e"/>
<rect x="1258" y="260" width="13" height="14" fill="#443a83"/>
<rect x="1271" y="260" width="14" height="14" fill="#21a685"/>
<rect x="1285" y="260" width="13" height="14" fill="#63cb5f"/>
<rect x="1298" y="260" width="27" height="14" fill="#44bf70"/>
<rect x="1325" y="260" width="14" height="14" fill="#21a685"/>
<rect x="1339" y="260" width="13" height="14" fill="#287d8e"/>
<rect x="1352" y="260" width="14" height="14" fill="#95d840"/>
<rect x="1366" y="260" width="13" height="14" fill="#cae11f"/>
<rect x="1379" y="260" width="14" height="14" fill="#95d840"/>
<rect x="1393" y="260" width="13" height="14" fill="#287d8e"/>
<rect x="1406" y="260" width="14" height="14" fill="#1f958b"/>
<rect x="1420" y="260" width="27" height="14" fill="#44bf70"/>
<rect x="1447" y="260" width="13" height="14" fill="#95d840"/>
<rect x="1460" y="260" width="14" height="14" fill="#f1e51d"/>
<rect x="1474" y="260" width="13" height="14" fill="#63cb5f"/>
<rect x="1487" y="260" width="13" height="14" fill="#21a685"/>
<rect x="1500" y="260" width="14" height="14" fill="#1f958b"/>
<rect x="1514" y="260" width="13" height="14" fill="#44bf70"/>
<rect x="1527" y="260" width="14" height="14" fill="#63cb5f"/>
<rect x="1541" y="260" width="27" height="14" fill="#21a685"/>
<rect x="1568" y="260" width="13" height="14" fill="#63cb5f"/>
<rect x="1245" y="247" width="13" height="13" fill="#63cb5f"/>
<rect x="1258" y="247" width="27" height="13" fill="#21a685"/>
<rect x="1285" y="247" width="13" height="13" fill="#44bf70"/>
<rect x="1298" y="247" width="14" height="13" fill="#95d840"/>
<rect x="1312" y="247" width="13" height="13" fill="#cae11f"/>
<rect x="1325" y="247" width="14" height="13" fill="#63cb5f"/>
<rect x="1339" y="247" width="13" height="13" fill="#1f958b"/>
<rect x="1352" y="247" width="14" height="13" fill="#44bf70"/>
<rect x="1366" y="247" width="13" height="13" fill="#63cb5f"/>
<rect x="1379" y="247" width="14" height="13" fill="#44bf70"/>
<rect x="1393" y="247" width="13" height="13" fill="#1f958b"/>
<rect x="1406" y="247" width="14" height="13" fill="#2f6c8e"/>
<rect x="1420" y="247" width="13" height="13" fill="#95d840"/>
<rect x="1433" y="247" width="41" height="13" fill="#f1e51d"/>
<rect x="1474" y="247" width="13" height="13" fill="#95d840"/>
<rect x="1487" y="247" width="13" height="13" fill="#21a685"/>
<rect x="1500" y="247" width="14" height="13" fill="#287d8e"/>
<rect x="1514" y="247" width="13" height="13" fill="#21a685"/>
<rect x="1527" y="247" width="27" height="13" fill="#63cb5f"/>
<rect x="1554" y="247" width="27" height="13" fill="#95d840"/>
<rect x="1245" y="233" width="13" height="14" fill="#95d840"/>
<rect x="1258" y="233" width="13" height="14" fill="#44bf70"/>
<rect x="1271" y="233" width="14" height="14" fill="#21a685"/>
<rect x="1285" y="233" width="13" height="14" fill="#44bf70"/>
<rect x="1298" y="233" width="14" height="14" fill="#95d840"/>
<rect x="1312" y="233" width="13" height="14" fill="#cae11f"/>
<rect x="1325" y="233" width="14" height="14" fill="#63cb5f"/>
<rect x="1339" y="233" width="13" height="14" fill="#44bf70"/>
<rect x="1352" y="233" width="14" height="14" fill="#63cb5f"/>
<rect x="1366" y="233" width="13" height="14" fill="#44bf70"/>
<rect x="1379" y="233" width="14" height="14" fill="#63cb5f"/>
<rect x="1393" y="233" width="13" height="14" fill="#95d840"/>
<rect x="1406" y="233" width="54" height="14" fill="#f1e51d"/>
<rect x="1460" y="233" width="14" height="14" fill="#95d840"/>
<rect x="1474" y="233" width="13" height="14" fill="#63cb5f"/>
<rect x="1487" y="233" width="13" height="14" fill="#21a685"/>
<rect x="1500" y="233" width="27" height="14" fill="#1f958b"/>
<rect x="1527" y="233" width="41" height="14" fill="#21a685"/>
<rect x="1568" y="233" width="13" height="14" fill="#63cb5f"/>
<rect x="1245" y="220" width="13" height="13" fill="#95d840"/>
<rect x="1258" y="220" width="13" height="13" fill="#21a685"/>
<rect x="1271" y="220" width="14" height="13" fill="#44bf70"/>
<rect x="1285" y="220" width="13" height="13" fill="#21a685"/>
<rect x="1298" y="220" width="14" height="13" fill="#44bf70"/>
<rect x="1312" y="220" width="13" height="13" fill="#63cb5f"/>
<rect x="1325" y="220" width="14" height="13" fill="#1f958b"/>
<rect x="1339" y="220" width="13" height="13" fill="#21a685"/>
<rect x="1352" y="220" width="14" height="13" fill="#63cb5f"/>
<rect x="1366" y="220" width="13" height="13" fill="#44bf70"/>
<rect x="1379" y="220" width="14" height="13" fill="#63cb5f"/>
<rect x="1393" y="220" width="13" height="13" fill="#95d840"/>
<rect x="1406" y="220" width="14" height="13" fill="#cae11f"/>
<rect x="1420" y="220" width="27" height="13" fill="#f1e51d"/>
<rect x="1447" y="220" width="13" height="13" fill="#cae11f"/>
<rect x="1460" y="220" width="14" height="13" fill="#95d840"/>
<rect x="1474" y="220" width="13" height="13" fill="#63cb5f"/>
<rect x="1487" y="220" width="13" height="13" fill="#95d840"/>
<rect x="1500" y="220" width="14" height="13" fill="#63cb5f"/>
<rect x="1514" y="220" width="27" height="13" fill="#21a685"/>
<rect x="1541" y="220" width="13" height="13" fill="#44bf70"/>
<rect x="1554" y="220" width="14" height="13" fill="#95d840"/>
<rect x="1568" y="220" width="13" height="13" fill="#21a685"/>
<rect x="1245" y="206" width="26" height="14" fill="#21a685"/>
<rect x="1271" y="206" width="14" height="14" fill="#44bf70"/>
<rect x="1285" y="206" width="40" height="14" fill="#63cb5f"/>
<rect x="1325" y="206" width="14" height="14" fill="#44bf70"/>
<rect x="1339" y="206" width="13" height="14" fill="#63cb5f"/>
<rect x="1352" y="206" width="14" height="14" fill="#cae11f"/>
<rect x="1366" y="206" width="13" height="14" fill="#95d840"/>
<rect x="1379" y="206" width="14" height="14" fill="#63cb5f"/>
<rect x="1393" y="206" width="13" height="14" fill="#95d840"/>
<rect x="1406" y="206" width="54" height="14" fill="#cae11f"/>
<rect x="1460" y="206" width="54" height="14" fill="#95d840"/>
<rect x="1514" y="206" width="13" height="14" fill="#63cb5f"/>
<rect x="1527" y="206" width="14" height="14" fill="#44bf70"/>
<rect x="1541" y="206" width="13" height="14" fill="#63cb5f"/>
<rect x="1554" y="206" width="14" height="14" fill="#cae11f"/>
<rect x="1568" y="206" width="13" height="14" fill="#63cb5f"/>
<rect x="1245" y="193" width="13" height="13" fill="#1f958b"/>
<rect x="1258" y="193" width="13" height="13" fill="#21a685"/>
<rect x="1271" y="193" width="14" height="13" fill="#44bf70"/>
<rect x="1285" y="193" width="13" height="13" fill="#63cb5f"/>
<rect x="1298" y="193" width="14" height="13" fill="#95d840"/>
<rect x="1312" y="193" width="13" height="13" fill="#63cb5f"/>
<rect x="1325" y="193" width="14" height="13" fill="#95d840"/>
<rect x="1339" y="193" width="27" height="13" fill="#cae11f"/>
<rect x="1366" y="193" width="13" height="13" fill="#95d840"/>
<rect x="1379" y="193" width="27" height="13" fill="#f1e51d"/>
<rect x="1406" y="193" width="27" height="13" fill="#cae11f"/>
<rect x="1433" y="193" width="14" height="13" fill="#63cb5f"/>
<rect x="1447" y="193" width="27" height="13" fill="#44bf70"/>
<rect x="1474" y="193" width="26" height="13" fill="#95d840"/>
<rect x="1500" y="193" width="27" height="13" fill="#44bf70"/>
<rect x="1527" y="193" width="41" height="13" fill="#63cb5f"/>
<rect x="1568" y="193" width="13" height="13" fill="#21a685"/>
<rect x="1245" y="179" width="13" height="14" fill="#2f6c8e"/>
<rect x="1258" y="179" width="13" height="14" fill="#443a83"/>
<rect x="1271" y="179" width="14" height="14" fill="#1f958b"/>
<rect x="1285" y="179" width="27" height="14" fill="#44bf70"/>
<rect x="1312" y="179" width="13" height="14" fill="#21a685"/>
<rect x="1325" y="179" width="14" height="14" fill="#63cb5f"/>
<rect x="1339" y="179" width="13" height="14" fill="#cae11f"/>
<rect x="1352" y="179" width="14" height="14" fill="#95d840"/>
<rect x="1366" y="179" width="13" height="14" fill="#63cb5f"/>
<rect x="1379" y="179" width="27" height="14" fill="#f1e51d"/>
<rect x="1406" y="179" width="14" height="14" fill="#cae11f"/>
<rect x="1420" y="179" width="27" height="14" fill="#44bf70"/>
<rect x="1447" y="179" width="13" height="14" fill="#63cb5f"/>
<rect x="1460" y="179" width="27" height="14" fill="#44bf70"/>
<rect x="1487" y="179" width="13" height="14" fill="#63cb5f"/>
<rect x="1500" y="179" width="14" height="14" fill="#44bf70"/>
<rect x="1514" y="179" width="27" height="14" fill="#21a685"/>
<rect x="1541" y="179" width="27" height="14" fill="#1f958b"/>
<rect x="1568" y="179" width="13" height="14" fill="#21a685"/>
<rect x="1245" y="166" width="13" height="13" fill="#1f958b"/>
<rect x="1258" y="166" width="13" height="13" fill="#2f6c8e"/>
<rect x="1271" y="166" width="14" height="13" fill="#1f958b"/>
<rect x="1285" y="166" width="13" height="13" fill="#287d8e"/>
<rect x="1298" y="166" width="27" height="13" fill="#1f958b"/>
<rect x="1325" y="166" width="14" height="13" fill="#44bf70"/>
<rect x="1339" y="166" width="13" height="13" fill="#95d840"/>
<rect x="1352" y="166" width="14" height="13" fill="#63cb5f"/>
<rect x="1366" y="166" width="13" height="13" fill="#44bf70"/>
<rect x="1379" y="166" width="14" height="13" fill="#cae11f"/>
<rect x="1393" y="166" width="27" height="13" fill="#95d840"/>
<rect x="1420" y="166" width="13" height="13" fill="#63cb5f"/>
<rect x="1433" y="166" width="14" height="13" fill="#44bf70"/>
<rect x="1447" y="166" width="13" height="13" fill="#21a685"/>
<rect x="1460" y="166" width="14" height="13" fill="#1f958b"/>
<rect x="1474" y="166" width="13" height="13" fill="#44bf70"/>
<rect x="1487" y="166" width="13" height="13" fill="#95d840"/>
<rect x="1500" y="166" width="14" height="13" fill="#21a685"/>
<rect x="1514" y="166" width="13" height="13" fill="#287d8e"/>
<rect x="1527" y="166" width="27" height="13" fill="#1f958b"/>
<rect x="1554" y="166" width="14" height="13" fill="#287d8e"/>
<rect x="1568" y="166" width="13" height="13" fill="#1f958b"/>
<rect x="1245" y="152" width="26" height="14" fill="#44bf70"/>
<rect x="1271" y="152" width="14" height="14" fill="#21a685"/>
<rect x="1285" y="152" width="13" height="14" fill="#1f958b"/>
<rect x="1298" y="152" width="14" height="14" fill="#21a685"/>
<rect x="1312" y="152" width="27" height="14" fill="#44bf70"/>
<rect x="1339" y="152" width="40" height="14" fill="#63cb5f"/>
<rect x="1379" y="152" width="14" height="14" fill="#95d840"/>
<rect x="1393" y="152" width="27" height="14" fill="#cae11f"/>
<rect x="1420" y="152" width="27" height="14" fill="#95d840"/>
<rect x="1447" y="152" width="13" height="14" fill="#63cb5f"/>
<rect x="1460" y="152" width="27" height="14" fill="#21a685"/>
<rect x="1487" y="152" width="13" height="14" fill="#287d8e"/>
<rect x="1500" y="152" width="14" height="14" fill="#21a685"/>
<rect x="1514" y="152" width="27" height="14" fill="#1f958b"/>
<rect x="1541" y="152" width="27" height="14" fill="#21a685"/>
<rect x="1568" y="152" width="13" height="14" fill="#287d8e"/>
<rect x="1245" y="139" width="13" height="13" fill="#63cb5f"/>
<rect x="1258" y="139" width="13" height="13" fill="#44bf70"/>
<rect x="1271" y="139" width="14" height="13" fill="#21a685"/>
<rect x="1285" y="139" width="13" height="13" fill="#63cb5f"/>
<rect x="1298" y="139" width="41" height="13" fill="#44bf70"/>
<rect x="1339" y="139" width="40" height="13" fill="#63cb5f"/>
<rect x="1379" y="139" width="27" height="13" fill="#95d840"/>
<rect x="1406" y="139" width="14" height="13" fill="#44bf70"/>
<rect x="1420" y="139" width="13" height="13" fill="#63cb5f"/>
<rect x="1433" y="139" width="14" height="13" fill="#95d840"/>
<rect x="1447" y="139" width="27" height="13" fill="#63cb5f"/>
<rect x="1474" y="139" width="13" height="13" fill="#44bf70"/>
<rect x="1487" y="139" width="13" height="13" fill="#287d8e"/>
<rect x="1500" y="139" width="41" height="13" fill="#1f958b"/>
<rect x="1541" y="139" width="13" height="13" fill="#44bf70"/>
<rect x="1554" y="139" width="14" height="13" fill="#21a685"/>
<rect x="1568" y="139" width="13" height="13" fill="#2f6c8e"/>
<rect x="1245" y="125" width="40" height="14" fill="#63cb5f"/>
<rect x="1285" y="125" width="13" height="14" fill="#95d840"/>
<rect x="1298" y="125" width="14" height="14" fill="#63cb5f"/>
<rect x="1312" y="125" width="27" height="14" fill="#44bf70"/>
<rect x="1339" y="125" width="40" height="14" fill="#63cb5f"/>
<rect x="1379" y="125" width="54" height="14" fill="#44bf70"/>
<rect x="1433" y="125" width="14" height="14" fill="#2f6c8e"/>
<rect x="1447" y="125" width="13" height="14" fill="#21a685"/>
<rect x="1460" y="125" width="14" height="14" fill="#44bf70"/>
<rect x="1474" y="125" width="40" height="14" fill="#63cb5f"/>
<rect x="1514" y="125" width="13" height="14" fill="#21a685"/>
<rect x="1527" y="125" width="14" height="14" fill="#287d8e"/>
<rect x="1541" y="125" width="13" height="14" fill="#63cb5f"/>
<rect x="1554" y="125" width="14" height="14" fill="#95d840"/>
<rect x="1568" y="125" width="13" height="14" fill="#21a685"/>
<rect x="1245" y="112" width="40" height="13" fill="#95d840"/>
<rect x="1285" y="112" width="13" height="13" fill="#63cb5f"/>
<rect x="1298" y="112" width="14" height="13" fill="#21a685"/>
<rect x="1312" y="112" width="13" height="13" fill="#63cb5f"/>
<rect x="1325" y="112" width="14" height="13" fill="#44bf70"/>
<rect x="1339" y="112" width="27" height="13" fill="#95d840"/>
<rect x="1366" y="112" width="13" height="13" fill="#21a685"/>
<rect x="1379" y="112" width="41" height="13" fill="#44bf70"/>
<rect x="1420" y="112" width="13" height="13" fill="#3a548c"/>
<rect x="1433" y="112" width="14" height="13" fill="#440154"/>
<rect x="1447" y="112" width="13" height="13" fill="#287d8e"/>
<rect x="1460" y="112" width="27" height="13" fill="#44bf70"/>
<rect x="1487" y="112" width="13" height="13" fill="#63cb5f"/>
<rect x="1500" y="112" width="14" height="13" fill="#95d840"/>
<rect x="1514" y="112" width="13" height="13" fill="#21a685"/>
<rect x="1527" y="112" width="14" height="13" fill="#44bf70"/>
<rect x="1541" y="112" width="27" height="13" fill="#f1e51d"/>
<rect x="1568" y="112" width="13" height="13" fill="#95d840"/>
<rect x="1245" y="98" width="26" height="14" fill="#95d840"/>
<rect x="1271" y="98" width="14" height="14" fill="#63cb5f"/>
<rect x="1285" y="98" width="13" height="14" fill="#44bf70"/>
<rect x="1298" y="98" width="14" height="14" fill="#21a685"/>
<rect x="1312" y="98" width="13" height="14" fill="#95d840"/>
<rect x="1325" y="98" width="14" height="14" fill="#cae11f"/>
<rect x="1339" y="98" width="13" height="14" fill="#95d840"/>
<rect x="1352" y="98" width="14" height="14" fill="#63cb5f"/>
<rect x="1366" y="98" width="54" height="14" fill="#44bf70"/>
<rect x="1420" y="98" width="13" height="14" fill="#1f958b"/>
<rect x="1433" y="98" width="14" height="14" fill="#2f6c8e"/>
<rect x="1447" y="98" width="40" height="14" fill="#21a685"/>
<rect x="1487" y="98" width="40" height="14" fill="#44bf70"/>
<rect x="1527" y="98" width="14" height="14" fill="#287d8e"/>
<rect x="1541" y="98" width="27" height="14" fill="#95d840"/>
<rect x="1568" y="98" width="13" height="14" fill="#21a685"/>
<rect x="1245" y="85" width="13" height="13" fill="#63cb5f"/>
<rect x="1258" y="85" width="13" height="13" fill="#44bf70"/>
<rect x="1271" y="85" width="41" height="13" fill="#63cb5f"/>
<rect x="1312" y="85" width="13" height="13" fill="#95d840"/>
<rect x="1325" y="85" width="14" height="13" fill="#cae11f"/>
<rect x="1339" y="85" width="27" height="13" fill="#63cb5f"/>
<rect x="1366" y="85" width="67" height="13" fill="#21a685"/>
<rect x="1433" y="85" width="27" height="13" fill="#44bf70"/>
<rect x="1460" y="85" width="14" height="13" fill="#21a685"/>
<rect x="1474" y="85" width="13" height="13" fill="#2f6c8e"/>
<rect x="1487" y="85" width="13" height="13" fill="#21a685"/>
<rect x="1500" y="85" width="27" height="13" fill="#63cb5f"/>
<rect x="1527" y="85" width="14" height="13" fill="#44bf70"/>
<rect x="1541" y="85" width="13" height="13" fill="#63cb5f"/>
<rect x="1554" y="85" width="14" height="13" fill="#21a685"/>
<rect x="1568" y="85" width="13" height="13" fill="#2f6c8e"/>
<rect x="1245" y="71" width="13" height="14" fill="#95d840"/>
<rect x="1258" y="71" width="27" height="14" fill="#63cb5f"/>
<rect x="1285" y="71" width="13" height="14" fill="#95d840"/>
<rect x="1298" y="71" width="27" height="14" fill="#63cb5f"/>
<rect x="1325" y="71" width="14" height="14" fill="#95d840"/>
<rect x="1339" y="71" width="13" height="14" fill="#44bf70"/>
<rect x="1352" y="71" width="14" height="14" fill="#63cb5f"/>
<rect x="1366" y="71" width="13" height="14" fill="#21a685"/>
<rect x="1379" y="71" width="14" height="14" fill="#287d8e"/>
<rect x="1393" y="71" width="40" height="14" fill="#21a685"/>
<rect x="1433" y="71" width="14" height="14" fill="#44bf70"/>
<rect x="1447" y="71" width="13" height="14" fill="#1f958b"/>
<rect x="1460" y="71" width="27" height="14" fill="#3a548c"/>
<rect x="1487" y="71" width="13" height="14" fill="#287d8e"/>
<rect x="1500" y="71" width="14" height="14" fill="#95d840"/>
<rect x="1514" y="71" width="27" height="14" fill="#63cb5f"/>
<rect x="1541" y="71" width="13" height="14" fill="#95d840"/>
<rect x="1554" y="71" width="14" height="14" fill="#21a685"/>
<rect x="1568" y="71" width="13" height="14" fill="#287d8e"/>
<rect x="1245" y="58" width="13" height="13" fill="#cae11f"/>
<rect x="1258" y="58" width="13" height="13" fill="#95d840"/>
<rect x="1271" y="58" width="14" height="13" fill="#63cb5f"/>
<rect x="1285" y="58" width="27" height="13" fill="#95d840"/>
<rect x="1312" y="58" width="13" height="13" fill="#cae11f"/>
<rect x="1325" y="58" width="14" height="13" fill="#95d840"/>
<rect x="1339" y="58" width="27" height="13" fill="#44bf70"/>
<rect x="1366" y="58" width="13" height="13" fill="#1f958b"/>
<rect x="1379" y="58" width="14" height="13" fill="#2f6c8e"/>
<rect x="1393" y="58" width="13" height="13" fill="#21a685"/>
<rect x="1406" y="58" width="27" height="13" fill="#63cb5f"/>
<rect x="1433" y="58" width="14" height="13" fill="#44bf70"/>
<rect x="1447" y="58" width="13" height="13" fill="#1f958b"/>
<rect x="1460" y="58" width="14" height="13" fill="#2f6c8e"/>
<rect x="1474" y="58" width="13" height="13" fill="#481d6f"/>
<rect x="1487" y="58" width="13" height="13" fill="#21a685"/>
<rect x="1500" y="58" width="14" height="13" fill="#63cb5f"/>
<rect x="1514" y="58" width="13" height="13" fill="#95d840"/>
<rect x="1527" y="58" width="14" height="13" fill="#63cb5f"/>
<rect x="1541" y="58" width="13" height="13" fill="#287d8e"/>
<rect x="1554" y="58" width="14" height="13" fill="#21a685"/>
<rect x="1568" y="58" width="13" height="13" fill="#1f958b"/>
<rect x="1245" y="44" width="53" height="14" fill="#95d840"/>
<rect x="1298" y="44" width="14" height="14" fill="#63cb5f"/>
<rect x="1312" y="44" width="40" height="14" fill="#95d840"/>
<rect x="1352" y="44" width="27" height="14" fill="#44bf70"/>
<rect x="1379" y="44" width="14" height="14" fill="#3a548c"/>
<rect x="1393" y="44" width="13" height="14" fill="#44bf70"/>
<rect x="1406" y="44" width="14" height="14" fill="#95d840"/>
<rect x="1420" y="44" width="27" height="14" fill="#63cb5f"/>
<rect x="1447" y="44" width="13" height="14" fill="#44bf70"/>
<rect x="1460" y="44" width="14" height="14" fill="#21a685"/>
<rect x="1474" y="44" width="13" height="14" fill="#287d8e"/>
<rect x="1487" y="44" width="13" height="14" fill="#2f6c8e"/>
<rect x="1500" y="44" width="14" height="14" fill="#1f958b"/>
<rect x="1514" y="44" width="13" height="14" fill="#44bf70"/>
<rect x="1527" y="44" width="14" height="14" fill="#287d8e"/>
<rect x="1541" y="44" width="13" height="14" fill="#2f6c8e"/>
<rect x="1554" y="44" width="14" height="14" fill="#21a685"/>
<rect x="1568" y="44" width="13" height="14" fill="#44bf70"/>
<rect x="1245" y="32" width="53" height="12" fill="#cae11f"/>
<rect x="1298" y="32" width="14" height="12" fill="#95d840"/>
<rect x="1312" y="32" width="40" height="12" fill="#cae11f"/>
<rect x="1352" y="32" width="14" height="12" fill="#63cb5f"/>
<rect x="1366" y="32" width="13" height="12" fill="#44bf70"/>
<rect x="1379" y="32" width="14" height="12" fill="#63cb5f"/>
<rect x="1393" y="32" width="27" height="12" fill="#95d840"/>
<rect x="1420" y="32" width="13" height="12" fill="#63cb5f"/>
<rect x="1433" y="32" width="41" height="12" fill="#44bf70"/>
<rect x="1474" y="32" width="13" height="12" fill="#21a685"/>
<rect x="1487" y="32" width="13" height="12" fill="#2f6c8e"/>
<rect x="1500" y="32" width="14" height="12" fill="#44bf70"/>
<rect x="1514" y="32" width="13" height="12" fill="#63cb5f"/>
<rect x="1527" y="32" width="14" height="12" fill="#21a685"/>
<rect x="1541" y="32" width="27" height="12" fill="#2f6c8e"/>
<rect x="1568" y="32" width="13" height="12" fill="#287d8e"/>
</g>
<path d="M1251.24 368.20v-5.50M1251.24 32.30v5.50M1244.50 361.40h5.50M1581.30 361.40h-5.50M1318.60 368.20v-5.50M1318.60 32.30v5.50M1244.50 293.90h5.50M1581.30 293.90h-5.50M1385.96 368.20v-5.50M1385.96 32.30v5.50M1244.50 226.40h5.50M1581.30 226.40h-5.50M1453.32 368.20v-5.50M1453.32 32.30v5.50M1244.50 158.90h5.50M1581.30 158.90h-5.50M1520.68 368.20v-5.50M1520.68 32.30v5.50M1244.50 91.40h5.50M1581.30 91.40h-5.50" stroke="#000" stroke-width="1.0" fill="none"/>
<rect x="1244.50" y="32.30" width="336.80" height="335.90" fill="none" stroke="#000" stroke-width="1.4"/>
<text x="1251.24" y="387.80" font-size="17.5" text-anchor="middle">0</text>
<text x="1237.00" y="366.60" font-size="17.5" text-anchor="end">0</text>
<text x="1318.60" y="387.80" font-size="17.5" text-anchor="middle">5</text>
<text x="1237.00" y="299.10" font-size="17.5" text-anchor="end">5</text>
<text x="1385.96" y="387.80" font-size="17.5" text-anchor="middle">10</text>
<text x="1237.00" y="231.60" font-size="17.5" text-anchor="end">10</text>
<text x="1453.32" y="387.80" font-size="17.5" text-anchor="middle">15</text>
<text x="1237.00" y="164.10" font-size="17.5" text-anchor="end">15</text>
<text x="1520.68" y="387.80" font-size="17.5" text-anchor="middle">20</text>
<text x="1237.00" y="96.60" font-size="17.5" text-anchor="end">20</text>
<text x="1413.65" y="24.50" font-size="21.0" text-anchor="middle" letter-spacing="0.50">WFC3 IR Total</text>
</svg></body></html>
